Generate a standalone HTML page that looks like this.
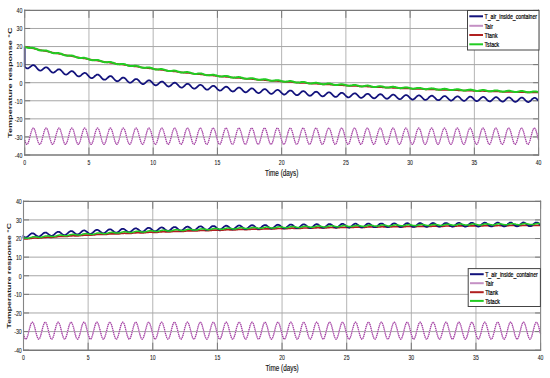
<!DOCTYPE html>
<html><head><meta charset="utf-8"><style>
html,body{margin:0;padding:0;background:#fff;width:550px;height:378px;overflow:hidden}
svg{display:block}
text{font-family:"Liberation Sans", sans-serif}
</style></head><body>
<svg width="550" height="378" viewBox="0 0 550 378">
<line x1="88.94" y1="10.40" x2="88.94" y2="155.00" stroke="#b4b4b4" stroke-width="1"/>
<line x1="153.17" y1="10.40" x2="153.17" y2="155.00" stroke="#b4b4b4" stroke-width="1"/>
<line x1="217.41" y1="10.40" x2="217.41" y2="155.00" stroke="#b4b4b4" stroke-width="1"/>
<line x1="281.65" y1="10.40" x2="281.65" y2="155.00" stroke="#b4b4b4" stroke-width="1"/>
<line x1="345.89" y1="10.40" x2="345.89" y2="155.00" stroke="#b4b4b4" stroke-width="1"/>
<line x1="410.12" y1="10.40" x2="410.12" y2="155.00" stroke="#b4b4b4" stroke-width="1"/>
<line x1="474.36" y1="10.40" x2="474.36" y2="155.00" stroke="#b4b4b4" stroke-width="1"/>
<line x1="24.70" y1="136.93" x2="538.60" y2="136.93" stroke="#a6a6a6" stroke-width="1"/>
<line x1="24.70" y1="118.85" x2="538.60" y2="118.85" stroke="#a6a6a6" stroke-width="1"/>
<line x1="24.70" y1="100.78" x2="538.60" y2="100.78" stroke="#a6a6a6" stroke-width="1"/>
<line x1="24.70" y1="82.70" x2="538.60" y2="82.70" stroke="#a6a6a6" stroke-width="1"/>
<line x1="24.70" y1="64.62" x2="538.60" y2="64.62" stroke="#a6a6a6" stroke-width="1"/>
<line x1="24.70" y1="46.55" x2="538.60" y2="46.55" stroke="#a6a6a6" stroke-width="1"/>
<line x1="24.70" y1="28.48" x2="538.60" y2="28.48" stroke="#a6a6a6" stroke-width="1"/>
<line x1="24.70" y1="155.00" x2="24.70" y2="147.50" stroke="#787878" stroke-width="1"/>
<line x1="24.70" y1="10.40" x2="24.70" y2="17.90" stroke="#787878" stroke-width="1"/>
<line x1="88.94" y1="155.00" x2="88.94" y2="147.50" stroke="#787878" stroke-width="1"/>
<line x1="88.94" y1="10.40" x2="88.94" y2="17.90" stroke="#787878" stroke-width="1"/>
<line x1="153.17" y1="155.00" x2="153.17" y2="147.50" stroke="#787878" stroke-width="1"/>
<line x1="153.17" y1="10.40" x2="153.17" y2="17.90" stroke="#787878" stroke-width="1"/>
<line x1="217.41" y1="155.00" x2="217.41" y2="147.50" stroke="#787878" stroke-width="1"/>
<line x1="217.41" y1="10.40" x2="217.41" y2="17.90" stroke="#787878" stroke-width="1"/>
<line x1="281.65" y1="155.00" x2="281.65" y2="147.50" stroke="#787878" stroke-width="1"/>
<line x1="281.65" y1="10.40" x2="281.65" y2="17.90" stroke="#787878" stroke-width="1"/>
<line x1="345.89" y1="155.00" x2="345.89" y2="147.50" stroke="#787878" stroke-width="1"/>
<line x1="345.89" y1="10.40" x2="345.89" y2="17.90" stroke="#787878" stroke-width="1"/>
<line x1="410.12" y1="155.00" x2="410.12" y2="147.50" stroke="#787878" stroke-width="1"/>
<line x1="410.12" y1="10.40" x2="410.12" y2="17.90" stroke="#787878" stroke-width="1"/>
<line x1="474.36" y1="155.00" x2="474.36" y2="147.50" stroke="#787878" stroke-width="1"/>
<line x1="474.36" y1="10.40" x2="474.36" y2="17.90" stroke="#787878" stroke-width="1"/>
<line x1="538.60" y1="155.00" x2="538.60" y2="147.50" stroke="#787878" stroke-width="1"/>
<line x1="538.60" y1="10.40" x2="538.60" y2="17.90" stroke="#787878" stroke-width="1"/>
<line x1="24.70" y1="155.00" x2="30.20" y2="155.00" stroke="#787878" stroke-width="1"/>
<line x1="538.60" y1="155.00" x2="533.10" y2="155.00" stroke="#787878" stroke-width="1"/>
<line x1="24.70" y1="136.93" x2="30.20" y2="136.93" stroke="#787878" stroke-width="1"/>
<line x1="538.60" y1="136.93" x2="533.10" y2="136.93" stroke="#787878" stroke-width="1"/>
<line x1="24.70" y1="118.85" x2="30.20" y2="118.85" stroke="#787878" stroke-width="1"/>
<line x1="538.60" y1="118.85" x2="533.10" y2="118.85" stroke="#787878" stroke-width="1"/>
<line x1="24.70" y1="100.78" x2="30.20" y2="100.78" stroke="#787878" stroke-width="1"/>
<line x1="538.60" y1="100.78" x2="533.10" y2="100.78" stroke="#787878" stroke-width="1"/>
<line x1="24.70" y1="82.70" x2="30.20" y2="82.70" stroke="#787878" stroke-width="1"/>
<line x1="538.60" y1="82.70" x2="533.10" y2="82.70" stroke="#787878" stroke-width="1"/>
<line x1="24.70" y1="64.62" x2="30.20" y2="64.62" stroke="#787878" stroke-width="1"/>
<line x1="538.60" y1="64.62" x2="533.10" y2="64.62" stroke="#787878" stroke-width="1"/>
<line x1="24.70" y1="46.55" x2="30.20" y2="46.55" stroke="#787878" stroke-width="1"/>
<line x1="538.60" y1="46.55" x2="533.10" y2="46.55" stroke="#787878" stroke-width="1"/>
<line x1="24.70" y1="28.48" x2="30.20" y2="28.48" stroke="#787878" stroke-width="1"/>
<line x1="538.60" y1="28.48" x2="533.10" y2="28.48" stroke="#787878" stroke-width="1"/>
<line x1="24.70" y1="10.40" x2="30.20" y2="10.40" stroke="#787878" stroke-width="1"/>
<line x1="538.60" y1="10.40" x2="533.10" y2="10.40" stroke="#787878" stroke-width="1"/>
<polyline fill="none" stroke="#e0b4e0" stroke-width="1.15" points="24.7,140.1 25.0,141.0 25.2,141.8 25.5,142.5 25.7,143.1 26.0,143.6 26.2,143.9 26.5,144.2 26.8,144.3 27.0,144.3 27.3,144.2 27.5,143.9 27.8,143.6 28.0,143.1 28.3,142.5 28.6,141.8 28.8,141.0 29.1,140.1 29.3,139.2 29.6,138.2 29.8,137.2 30.1,136.2 30.4,135.2 30.6,134.2 30.9,133.2 31.1,132.3 31.4,131.4 31.6,130.6 31.9,129.9 32.2,129.3 32.4,128.8 32.7,128.5 32.9,128.2 33.2,128.1 33.4,128.1 33.7,128.2 34.0,128.5 34.2,128.8 34.5,129.3 34.7,129.9 35.0,130.6 35.2,131.4 35.5,132.3 35.7,133.2 36.0,134.2 36.3,135.2 36.5,136.2 36.8,137.2 37.0,138.2 37.3,139.2 37.5,140.1 37.8,141.0 38.1,141.8 38.3,142.5 38.6,143.1 38.8,143.6 39.1,143.9 39.3,144.2 39.6,144.3 39.9,144.3 40.1,144.2 40.4,143.9 40.6,143.6 40.9,143.1 41.1,142.5 41.4,141.8 41.7,141.0 41.9,140.1 42.2,139.2 42.4,138.2 42.7,137.2 42.9,136.2 43.2,135.2 43.5,134.2 43.7,133.2 44.0,132.3 44.2,131.4 44.5,130.6 44.7,129.9 45.0,129.3 45.3,128.8 45.5,128.5 45.8,128.2 46.0,128.1 46.3,128.1 46.5,128.2 46.8,128.5 47.1,128.8 47.3,129.3 47.6,129.9 47.8,130.6 48.1,131.4 48.3,132.3 48.6,133.2 48.9,134.2 49.1,135.2 49.4,136.2 49.6,137.2 49.9,138.2 50.1,139.2 50.4,140.1 50.7,141.0 50.9,141.8 51.2,142.5 51.4,143.1 51.7,143.6 51.9,143.9 52.2,144.2 52.5,144.3 52.7,144.3 53.0,144.2 53.2,143.9 53.5,143.6 53.7,143.1 54.0,142.5 54.2,141.8 54.5,141.0 54.8,140.1 55.0,139.2 55.3,138.2 55.5,137.2 55.8,136.2 56.0,135.2 56.3,134.2 56.6,133.2 56.8,132.3 57.1,131.4 57.3,130.6 57.6,129.9 57.8,129.3 58.1,128.8 58.4,128.5 58.6,128.2 58.9,128.1 59.1,128.1 59.4,128.2 59.6,128.5 59.9,128.8 60.2,129.3 60.4,129.9 60.7,130.6 60.9,131.4 61.2,132.3 61.4,133.2 61.7,134.2 62.0,135.2 62.2,136.2 62.5,137.2 62.7,138.2 63.0,139.2 63.2,140.1 63.5,141.0 63.8,141.8 64.0,142.5 64.3,143.1 64.5,143.6 64.8,143.9 65.0,144.2 65.3,144.3 65.6,144.3 65.8,144.2 66.1,143.9 66.3,143.6 66.6,143.1 66.8,142.5 67.1,141.8 67.4,141.0 67.6,140.1 67.9,139.2 68.1,138.2 68.4,137.2 68.6,136.2 68.9,135.2 69.2,134.2 69.4,133.2 69.7,132.3 69.9,131.4 70.2,130.6 70.4,129.9 70.7,129.3 71.0,128.8 71.2,128.5 71.5,128.2 71.7,128.1 72.0,128.1 72.2,128.2 72.5,128.5 72.7,128.8 73.0,129.3 73.3,129.9 73.5,130.6 73.8,131.4 74.0,132.3 74.3,133.2 74.5,134.2 74.8,135.2 75.1,136.2 75.3,137.2 75.6,138.2 75.8,139.2 76.1,140.1 76.3,141.0 76.6,141.8 76.9,142.5 77.1,143.1 77.4,143.6 77.6,143.9 77.9,144.2 78.1,144.3 78.4,144.3 78.7,144.2 78.9,143.9 79.2,143.6 79.4,143.1 79.7,142.5 79.9,141.8 80.2,141.0 80.5,140.1 80.7,139.2 81.0,138.2 81.2,137.2 81.5,136.2 81.7,135.2 82.0,134.2 82.3,133.2 82.5,132.3 82.8,131.4 83.0,130.6 83.3,129.9 83.5,129.3 83.8,128.8 84.1,128.5 84.3,128.2 84.6,128.1 84.8,128.1 85.1,128.2 85.3,128.5 85.6,128.8 85.9,129.3 86.1,129.9 86.4,130.6 86.6,131.4 86.9,132.3 87.1,133.2 87.4,134.2 87.7,135.2 87.9,136.2 88.2,137.2 88.4,138.2 88.7,139.2 88.9,140.1 89.2,141.0 89.5,141.8 89.7,142.5 90.0,143.1 90.2,143.6 90.5,143.9 90.7,144.2 91.0,144.3 91.3,144.3 91.5,144.2 91.8,143.9 92.0,143.6 92.3,143.1 92.5,142.5 92.8,141.8 93.0,141.0 93.3,140.1 93.6,139.2 93.8,138.2 94.1,137.2 94.3,136.2 94.6,135.2 94.8,134.2 95.1,133.2 95.4,132.3 95.6,131.4 95.9,130.6 96.1,129.9 96.4,129.3 96.6,128.8 96.9,128.5 97.2,128.2 97.4,128.1 97.7,128.1 97.9,128.2 98.2,128.5 98.4,128.8 98.7,129.3 99.0,129.9 99.2,130.6 99.5,131.4 99.7,132.3 100.0,133.2 100.2,134.2 100.5,135.2 100.8,136.2 101.0,137.2 101.3,138.2 101.5,139.2 101.8,140.1 102.0,141.0 102.3,141.8 102.6,142.5 102.8,143.1 103.1,143.6 103.3,143.9 103.6,144.2 103.8,144.3 104.1,144.3 104.4,144.2 104.6,143.9 104.9,143.6 105.1,143.1 105.4,142.5 105.6,141.8 105.9,141.0 106.2,140.1 106.4,139.2 106.7,138.2 106.9,137.2 107.2,136.2 107.4,135.2 107.7,134.2 108.0,133.2 108.2,132.3 108.5,131.4 108.7,130.6 109.0,129.9 109.2,129.3 109.5,128.8 109.8,128.5 110.0,128.2 110.3,128.1 110.5,128.1 110.8,128.2 111.0,128.5 111.3,128.8 111.5,129.3 111.8,129.9 112.1,130.6 112.3,131.4 112.6,132.3 112.8,133.2 113.1,134.2 113.3,135.2 113.6,136.2 113.9,137.2 114.1,138.2 114.4,139.2 114.6,140.1 114.9,141.0 115.1,141.8 115.4,142.5 115.7,143.1 115.9,143.6 116.2,143.9 116.4,144.2 116.7,144.3 116.9,144.3 117.2,144.2 117.5,143.9 117.7,143.6 118.0,143.1 118.2,142.5 118.5,141.8 118.7,141.0 119.0,140.1 119.3,139.2 119.5,138.2 119.8,137.2 120.0,136.2 120.3,135.2 120.5,134.2 120.8,133.2 121.1,132.3 121.3,131.4 121.6,130.6 121.8,129.9 122.1,129.3 122.3,128.8 122.6,128.5 122.9,128.2 123.1,128.1 123.4,128.1 123.6,128.2 123.9,128.5 124.1,128.8 124.4,129.3 124.7,129.9 124.9,130.6 125.2,131.4 125.4,132.3 125.7,133.2 125.9,134.2 126.2,135.2 126.5,136.2 126.7,137.2 127.0,138.2 127.2,139.2 127.5,140.1 127.7,141.0 128.0,141.8 128.3,142.5 128.5,143.1 128.8,143.6 129.0,143.9 129.3,144.2 129.5,144.3 129.8,144.3 130.0,144.2 130.3,143.9 130.6,143.6 130.8,143.1 131.1,142.5 131.3,141.8 131.6,141.0 131.8,140.1 132.1,139.2 132.4,138.2 132.6,137.2 132.9,136.2 133.1,135.2 133.4,134.2 133.6,133.2 133.9,132.3 134.2,131.4 134.4,130.6 134.7,129.9 134.9,129.3 135.2,128.8 135.4,128.5 135.7,128.2 136.0,128.1 136.2,128.1 136.5,128.2 136.7,128.5 137.0,128.8 137.2,129.3 137.5,129.9 137.8,130.6 138.0,131.4 138.3,132.3 138.5,133.2 138.8,134.2 139.0,135.2 139.3,136.2 139.6,137.2 139.8,138.2 140.1,139.2 140.3,140.1 140.6,141.0 140.8,141.8 141.1,142.5 141.4,143.1 141.6,143.6 141.9,143.9 142.1,144.2 142.4,144.3 142.6,144.3 142.9,144.2 143.2,143.9 143.4,143.6 143.7,143.1 143.9,142.5 144.2,141.8 144.4,141.0 144.7,140.1 145.0,139.2 145.2,138.2 145.5,137.2 145.7,136.2 146.0,135.2 146.2,134.2 146.5,133.2 146.8,132.3 147.0,131.4 147.3,130.6 147.5,129.9 147.8,129.3 148.0,128.8 148.3,128.5 148.5,128.2 148.8,128.1 149.1,128.1 149.3,128.2 149.6,128.5 149.8,128.8 150.1,129.3 150.3,129.9 150.6,130.6 150.9,131.4 151.1,132.3 151.4,133.2 151.6,134.2 151.9,135.2 152.1,136.2 152.4,137.2 152.7,138.2 152.9,139.2 153.2,140.1 153.4,141.0 153.7,141.8 153.9,142.5 154.2,143.1 154.5,143.6 154.7,143.9 155.0,144.2 155.2,144.3 155.5,144.3 155.7,144.2 156.0,143.9 156.3,143.6 156.5,143.1 156.8,142.5 157.0,141.8 157.3,141.0 157.5,140.1 157.8,139.2 158.1,138.2 158.3,137.2 158.6,136.2 158.8,135.2 159.1,134.2 159.3,133.2 159.6,132.3 159.9,131.4 160.1,130.6 160.4,129.9 160.6,129.3 160.9,128.8 161.1,128.5 161.4,128.2 161.7,128.1 161.9,128.1 162.2,128.2 162.4,128.5 162.7,128.8 162.9,129.3 163.2,129.9 163.5,130.6 163.7,131.4 164.0,132.3 164.2,133.2 164.5,134.2 164.7,135.2 165.0,136.2 165.3,137.2 165.5,138.2 165.8,139.2 166.0,140.1 166.3,141.0 166.5,141.8 166.8,142.5 167.1,143.1 167.3,143.6 167.6,143.9 167.8,144.2 168.1,144.3 168.3,144.3 168.6,144.2 168.8,143.9 169.1,143.6 169.4,143.1 169.6,142.5 169.9,141.8 170.1,141.0 170.4,140.1 170.6,139.2 170.9,138.2 171.2,137.2 171.4,136.2 171.7,135.2 171.9,134.2 172.2,133.2 172.4,132.3 172.7,131.4 173.0,130.6 173.2,129.9 173.5,129.3 173.7,128.8 174.0,128.5 174.2,128.2 174.5,128.1 174.8,128.1 175.0,128.2 175.3,128.5 175.5,128.8 175.8,129.3 176.0,129.9 176.3,130.6 176.6,131.4 176.8,132.3 177.1,133.2 177.3,134.2 177.6,135.2 177.8,136.2 178.1,137.2 178.4,138.2 178.6,139.2 178.9,140.1 179.1,141.0 179.4,141.8 179.6,142.5 179.9,143.1 180.2,143.6 180.4,143.9 180.7,144.2 180.9,144.3 181.2,144.3 181.4,144.2 181.7,143.9 182.0,143.6 182.2,143.1 182.5,142.5 182.7,141.8 183.0,141.0 183.2,140.1 183.5,139.2 183.8,138.2 184.0,137.2 184.3,136.2 184.5,135.2 184.8,134.2 185.0,133.2 185.3,132.3 185.6,131.4 185.8,130.6 186.1,129.9 186.3,129.3 186.6,128.8 186.8,128.5 187.1,128.2 187.3,128.1 187.6,128.1 187.9,128.2 188.1,128.5 188.4,128.8 188.6,129.3 188.9,129.9 189.1,130.6 189.4,131.4 189.7,132.3 189.9,133.2 190.2,134.2 190.4,135.2 190.7,136.2 190.9,137.2 191.2,138.2 191.5,139.2 191.7,140.1 192.0,141.0 192.2,141.8 192.5,142.5 192.7,143.1 193.0,143.6 193.3,143.9 193.5,144.2 193.8,144.3 194.0,144.3 194.3,144.2 194.5,143.9 194.8,143.6 195.1,143.1 195.3,142.5 195.6,141.8 195.8,141.0 196.1,140.1 196.3,139.2 196.6,138.2 196.9,137.2 197.1,136.2 197.4,135.2 197.6,134.2 197.9,133.2 198.1,132.3 198.4,131.4 198.7,130.6 198.9,129.9 199.2,129.3 199.4,128.8 199.7,128.5 199.9,128.2 200.2,128.1 200.5,128.1 200.7,128.2 201.0,128.5 201.2,128.8 201.5,129.3 201.7,129.9 202.0,130.6 202.3,131.4 202.5,132.3 202.8,133.2 203.0,134.2 203.3,135.2 203.5,136.2 203.8,137.2 204.1,138.2 204.3,139.2 204.6,140.1 204.8,141.0 205.1,141.8 205.3,142.5 205.6,143.1 205.8,143.6 206.1,143.9 206.4,144.2 206.6,144.3 206.9,144.3 207.1,144.2 207.4,143.9 207.6,143.6 207.9,143.1 208.2,142.5 208.4,141.8 208.7,141.0 208.9,140.1 209.2,139.2 209.4,138.2 209.7,137.2 210.0,136.2 210.2,135.2 210.5,134.2 210.7,133.2 211.0,132.3 211.2,131.4 211.5,130.6 211.8,129.9 212.0,129.3 212.3,128.8 212.5,128.5 212.8,128.2 213.0,128.1 213.3,128.1 213.6,128.2 213.8,128.5 214.1,128.8 214.3,129.3 214.6,129.9 214.8,130.6 215.1,131.4 215.4,132.3 215.6,133.2 215.9,134.2 216.1,135.2 216.4,136.2 216.6,137.2 216.9,138.2 217.2,139.2 217.4,140.1 217.7,141.0 217.9,141.8 218.2,142.5 218.4,143.1 218.7,143.6 219.0,143.9 219.2,144.2 219.5,144.3 219.7,144.3 220.0,144.2 220.2,143.9 220.5,143.6 220.8,143.1 221.0,142.5 221.3,141.8 221.5,141.0 221.8,140.1 222.0,139.2 222.3,138.2 222.6,137.2 222.8,136.2 223.1,135.2 223.3,134.2 223.6,133.2 223.8,132.3 224.1,131.4 224.4,130.6 224.6,129.9 224.9,129.3 225.1,128.8 225.4,128.5 225.6,128.2 225.9,128.1 226.1,128.1 226.4,128.2 226.7,128.5 226.9,128.8 227.2,129.3 227.4,129.9 227.7,130.6 227.9,131.4 228.2,132.3 228.5,133.2 228.7,134.2 229.0,135.2 229.2,136.2 229.5,137.2 229.7,138.2 230.0,139.2 230.3,140.1 230.5,141.0 230.8,141.8 231.0,142.5 231.3,143.1 231.5,143.6 231.8,143.9 232.1,144.2 232.3,144.3 232.6,144.3 232.8,144.2 233.1,143.9 233.3,143.6 233.6,143.1 233.9,142.5 234.1,141.8 234.4,141.0 234.6,140.1 234.9,139.2 235.1,138.2 235.4,137.2 235.7,136.2 235.9,135.2 236.2,134.2 236.4,133.2 236.7,132.3 236.9,131.4 237.2,130.6 237.5,129.9 237.7,129.3 238.0,128.8 238.2,128.5 238.5,128.2 238.7,128.1 239.0,128.1 239.3,128.2 239.5,128.5 239.8,128.8 240.0,129.3 240.3,129.9 240.5,130.6 240.8,131.4 241.1,132.3 241.3,133.2 241.6,134.2 241.8,135.2 242.1,136.2 242.3,137.2 242.6,138.2 242.9,139.2 243.1,140.1 243.4,141.0 243.6,141.8 243.9,142.5 244.1,143.1 244.4,143.6 244.6,143.9 244.9,144.2 245.2,144.3 245.4,144.3 245.7,144.2 245.9,143.9 246.2,143.6 246.4,143.1 246.7,142.5 247.0,141.8 247.2,141.0 247.5,140.1 247.7,139.2 248.0,138.2 248.2,137.2 248.5,136.2 248.8,135.2 249.0,134.2 249.3,133.2 249.5,132.3 249.8,131.4 250.0,130.6 250.3,129.9 250.6,129.3 250.8,128.8 251.1,128.5 251.3,128.2 251.6,128.1 251.8,128.1 252.1,128.2 252.4,128.5 252.6,128.8 252.9,129.3 253.1,129.9 253.4,130.6 253.6,131.4 253.9,132.3 254.2,133.2 254.4,134.2 254.7,135.2 254.9,136.2 255.2,137.2 255.4,138.2 255.7,139.2 256.0,140.1 256.2,141.0 256.5,141.8 256.7,142.5 257.0,143.1 257.2,143.6 257.5,143.9 257.8,144.2 258.0,144.3 258.3,144.3 258.5,144.2 258.8,143.9 259.0,143.6 259.3,143.1 259.6,142.5 259.8,141.8 260.1,141.0 260.3,140.1 260.6,139.2 260.8,138.2 261.1,137.2 261.4,136.2 261.6,135.2 261.9,134.2 262.1,133.2 262.4,132.3 262.6,131.4 262.9,130.6 263.1,129.9 263.4,129.3 263.7,128.8 263.9,128.5 264.2,128.2 264.4,128.1 264.7,128.1 264.9,128.2 265.2,128.5 265.5,128.8 265.7,129.3 266.0,129.9 266.2,130.6 266.5,131.4 266.7,132.3 267.0,133.2 267.3,134.2 267.5,135.2 267.8,136.2 268.0,137.2 268.3,138.2 268.5,139.2 268.8,140.1 269.1,141.0 269.3,141.8 269.6,142.5 269.8,143.1 270.1,143.6 270.3,143.9 270.6,144.2 270.9,144.3 271.1,144.3 271.4,144.2 271.6,143.9 271.9,143.6 272.1,143.1 272.4,142.5 272.7,141.8 272.9,141.0 273.2,140.1 273.4,139.2 273.7,138.2 273.9,137.2 274.2,136.2 274.5,135.2 274.7,134.2 275.0,133.2 275.2,132.3 275.5,131.4 275.7,130.6 276.0,129.9 276.3,129.3 276.5,128.8 276.8,128.5 277.0,128.2 277.3,128.1 277.5,128.1 277.8,128.2 278.1,128.5 278.3,128.8 278.6,129.3 278.8,129.9 279.1,130.6 279.3,131.4 279.6,132.3 279.9,133.2 280.1,134.2 280.4,135.2 280.6,136.2 280.9,137.2 281.1,138.2 281.4,139.2 281.6,140.1 281.9,141.0 282.2,141.8 282.4,142.5 282.7,143.1 282.9,143.6 283.2,143.9 283.4,144.2 283.7,144.3 284.0,144.3 284.2,144.2 284.5,143.9 284.7,143.6 285.0,143.1 285.2,142.5 285.5,141.8 285.8,141.0 286.0,140.1 286.3,139.2 286.5,138.2 286.8,137.2 287.0,136.2 287.3,135.2 287.6,134.2 287.8,133.2 288.1,132.3 288.3,131.4 288.6,130.6 288.8,129.9 289.1,129.3 289.4,128.8 289.6,128.5 289.9,128.2 290.1,128.1 290.4,128.1 290.6,128.2 290.9,128.5 291.2,128.8 291.4,129.3 291.7,129.9 291.9,130.6 292.2,131.4 292.4,132.3 292.7,133.2 293.0,134.2 293.2,135.2 293.5,136.2 293.7,137.2 294.0,138.2 294.2,139.2 294.5,140.1 294.8,141.0 295.0,141.8 295.3,142.5 295.5,143.1 295.8,143.6 296.0,143.9 296.3,144.2 296.6,144.3 296.8,144.3 297.1,144.2 297.3,143.9 297.6,143.6 297.8,143.1 298.1,142.5 298.4,141.8 298.6,141.0 298.9,140.1 299.1,139.2 299.4,138.2 299.6,137.2 299.9,136.2 300.2,135.2 300.4,134.2 300.7,133.2 300.9,132.3 301.2,131.4 301.4,130.6 301.7,129.9 301.9,129.3 302.2,128.8 302.5,128.5 302.7,128.2 303.0,128.1 303.2,128.1 303.5,128.2 303.7,128.5 304.0,128.8 304.3,129.3 304.5,129.9 304.8,130.6 305.0,131.4 305.3,132.3 305.5,133.2 305.8,134.2 306.1,135.2 306.3,136.2 306.6,137.2 306.8,138.2 307.1,139.2 307.3,140.1 307.6,141.0 307.9,141.8 308.1,142.5 308.4,143.1 308.6,143.6 308.9,143.9 309.1,144.2 309.4,144.3 309.7,144.3 309.9,144.2 310.2,143.9 310.4,143.6 310.7,143.1 310.9,142.5 311.2,141.8 311.5,141.0 311.7,140.1 312.0,139.2 312.2,138.2 312.5,137.2 312.7,136.2 313.0,135.2 313.3,134.2 313.5,133.2 313.8,132.3 314.0,131.4 314.3,130.6 314.5,129.9 314.8,129.3 315.1,128.8 315.3,128.5 315.6,128.2 315.8,128.1 316.1,128.1 316.3,128.2 316.6,128.5 316.9,128.8 317.1,129.3 317.4,129.9 317.6,130.6 317.9,131.4 318.1,132.3 318.4,133.2 318.7,134.2 318.9,135.2 319.2,136.2 319.4,137.2 319.7,138.2 319.9,139.2 320.2,140.1 320.4,141.0 320.7,141.8 321.0,142.5 321.2,143.1 321.5,143.6 321.7,143.9 322.0,144.2 322.2,144.3 322.5,144.3 322.8,144.2 323.0,143.9 323.3,143.6 323.5,143.1 323.8,142.5 324.0,141.8 324.3,141.0 324.6,140.1 324.8,139.2 325.1,138.2 325.3,137.2 325.6,136.2 325.8,135.2 326.1,134.2 326.4,133.2 326.6,132.3 326.9,131.4 327.1,130.6 327.4,129.9 327.6,129.3 327.9,128.8 328.2,128.5 328.4,128.2 328.7,128.1 328.9,128.1 329.2,128.2 329.4,128.5 329.7,128.8 330.0,129.3 330.2,129.9 330.5,130.6 330.7,131.4 331.0,132.3 331.2,133.2 331.5,134.2 331.8,135.2 332.0,136.2 332.3,137.2 332.5,138.2 332.8,139.2 333.0,140.1 333.3,141.0 333.6,141.8 333.8,142.5 334.1,143.1 334.3,143.6 334.6,143.9 334.8,144.2 335.1,144.3 335.4,144.3 335.6,144.2 335.9,143.9 336.1,143.6 336.4,143.1 336.6,142.5 336.9,141.8 337.2,141.0 337.4,140.1 337.7,139.2 337.9,138.2 338.2,137.2 338.4,136.2 338.7,135.2 338.9,134.2 339.2,133.2 339.5,132.3 339.7,131.4 340.0,130.6 340.2,129.9 340.5,129.3 340.7,128.8 341.0,128.5 341.3,128.2 341.5,128.1 341.8,128.1 342.0,128.2 342.3,128.5 342.5,128.8 342.8,129.3 343.1,129.9 343.3,130.6 343.6,131.4 343.8,132.3 344.1,133.2 344.3,134.2 344.6,135.2 344.9,136.2 345.1,137.2 345.4,138.2 345.6,139.2 345.9,140.1 346.1,141.0 346.4,141.8 346.7,142.5 346.9,143.1 347.2,143.6 347.4,143.9 347.7,144.2 347.9,144.3 348.2,144.3 348.5,144.2 348.7,143.9 349.0,143.6 349.2,143.1 349.5,142.5 349.7,141.8 350.0,141.0 350.3,140.1 350.5,139.2 350.8,138.2 351.0,137.2 351.3,136.2 351.5,135.2 351.8,134.2 352.1,133.2 352.3,132.3 352.6,131.4 352.8,130.6 353.1,129.9 353.3,129.3 353.6,128.8 353.9,128.5 354.1,128.2 354.4,128.1 354.6,128.1 354.9,128.2 355.1,128.5 355.4,128.8 355.7,129.3 355.9,129.9 356.2,130.6 356.4,131.4 356.7,132.3 356.9,133.2 357.2,134.2 357.5,135.2 357.7,136.2 358.0,137.2 358.2,138.2 358.5,139.2 358.7,140.1 359.0,141.0 359.2,141.8 359.5,142.5 359.8,143.1 360.0,143.6 360.3,143.9 360.5,144.2 360.8,144.3 361.0,144.3 361.3,144.2 361.6,143.9 361.8,143.6 362.1,143.1 362.3,142.5 362.6,141.8 362.8,141.0 363.1,140.1 363.4,139.2 363.6,138.2 363.9,137.2 364.1,136.2 364.4,135.2 364.6,134.2 364.9,133.2 365.2,132.3 365.4,131.4 365.7,130.6 365.9,129.9 366.2,129.3 366.4,128.8 366.7,128.5 367.0,128.2 367.2,128.1 367.5,128.1 367.7,128.2 368.0,128.5 368.2,128.8 368.5,129.3 368.8,129.9 369.0,130.6 369.3,131.4 369.5,132.3 369.8,133.2 370.0,134.2 370.3,135.2 370.6,136.2 370.8,137.2 371.1,138.2 371.3,139.2 371.6,140.1 371.8,141.0 372.1,141.8 372.4,142.5 372.6,143.1 372.9,143.6 373.1,143.9 373.4,144.2 373.6,144.3 373.9,144.3 374.2,144.2 374.4,143.9 374.7,143.6 374.9,143.1 375.2,142.5 375.4,141.8 375.7,141.0 376.0,140.1 376.2,139.2 376.5,138.2 376.7,137.2 377.0,136.2 377.2,135.2 377.5,134.2 377.7,133.2 378.0,132.3 378.3,131.4 378.5,130.6 378.8,129.9 379.0,129.3 379.3,128.8 379.5,128.5 379.8,128.2 380.1,128.1 380.3,128.1 380.6,128.2 380.8,128.5 381.1,128.8 381.3,129.3 381.6,129.9 381.9,130.6 382.1,131.4 382.4,132.3 382.6,133.2 382.9,134.2 383.1,135.2 383.4,136.2 383.7,137.2 383.9,138.2 384.2,139.2 384.4,140.1 384.7,141.0 384.9,141.8 385.2,142.5 385.5,143.1 385.7,143.6 386.0,143.9 386.2,144.2 386.5,144.3 386.7,144.3 387.0,144.2 387.3,143.9 387.5,143.6 387.8,143.1 388.0,142.5 388.3,141.8 388.5,141.0 388.8,140.1 389.1,139.2 389.3,138.2 389.6,137.2 389.8,136.2 390.1,135.2 390.3,134.2 390.6,133.2 390.9,132.3 391.1,131.4 391.4,130.6 391.6,129.9 391.9,129.3 392.1,128.8 392.4,128.5 392.7,128.2 392.9,128.1 393.2,128.1 393.4,128.2 393.7,128.5 393.9,128.8 394.2,129.3 394.5,129.9 394.7,130.6 395.0,131.4 395.2,132.3 395.5,133.2 395.7,134.2 396.0,135.2 396.2,136.2 396.5,137.2 396.8,138.2 397.0,139.2 397.3,140.1 397.5,141.0 397.8,141.8 398.0,142.5 398.3,143.1 398.6,143.6 398.8,143.9 399.1,144.2 399.3,144.3 399.6,144.3 399.8,144.2 400.1,143.9 400.4,143.6 400.6,143.1 400.9,142.5 401.1,141.8 401.4,141.0 401.6,140.1 401.9,139.2 402.2,138.2 402.4,137.2 402.7,136.2 402.9,135.2 403.2,134.2 403.4,133.2 403.7,132.3 404.0,131.4 404.2,130.6 404.5,129.9 404.7,129.3 405.0,128.8 405.2,128.5 405.5,128.2 405.8,128.1 406.0,128.1 406.3,128.2 406.5,128.5 406.8,128.8 407.0,129.3 407.3,129.9 407.6,130.6 407.8,131.4 408.1,132.3 408.3,133.2 408.6,134.2 408.8,135.2 409.1,136.2 409.4,137.2 409.6,138.2 409.9,139.2 410.1,140.1 410.4,141.0 410.6,141.8 410.9,142.5 411.2,143.1 411.4,143.6 411.7,143.9 411.9,144.2 412.2,144.3 412.4,144.3 412.7,144.2 413.0,143.9 413.2,143.6 413.5,143.1 413.7,142.5 414.0,141.8 414.2,141.0 414.5,140.1 414.8,139.2 415.0,138.2 415.3,137.2 415.5,136.2 415.8,135.2 416.0,134.2 416.3,133.2 416.5,132.3 416.8,131.4 417.1,130.6 417.3,129.9 417.6,129.3 417.8,128.8 418.1,128.5 418.3,128.2 418.6,128.1 418.9,128.1 419.1,128.2 419.4,128.5 419.6,128.8 419.9,129.3 420.1,129.9 420.4,130.6 420.7,131.4 420.9,132.3 421.2,133.2 421.4,134.2 421.7,135.2 421.9,136.2 422.2,137.2 422.5,138.2 422.7,139.2 423.0,140.1 423.2,141.0 423.5,141.8 423.7,142.5 424.0,143.1 424.3,143.6 424.5,143.9 424.8,144.2 425.0,144.3 425.3,144.3 425.5,144.2 425.8,143.9 426.1,143.6 426.3,143.1 426.6,142.5 426.8,141.8 427.1,141.0 427.3,140.1 427.6,139.2 427.9,138.2 428.1,137.2 428.4,136.2 428.6,135.2 428.9,134.2 429.1,133.2 429.4,132.3 429.7,131.4 429.9,130.6 430.2,129.9 430.4,129.3 430.7,128.8 430.9,128.5 431.2,128.2 431.5,128.1 431.7,128.1 432.0,128.2 432.2,128.5 432.5,128.8 432.7,129.3 433.0,129.9 433.3,130.6 433.5,131.4 433.8,132.3 434.0,133.2 434.3,134.2 434.5,135.2 434.8,136.2 435.0,137.2 435.3,138.2 435.6,139.2 435.8,140.1 436.1,141.0 436.3,141.8 436.6,142.5 436.8,143.1 437.1,143.6 437.4,143.9 437.6,144.2 437.9,144.3 438.1,144.3 438.4,144.2 438.6,143.9 438.9,143.6 439.2,143.1 439.4,142.5 439.7,141.8 439.9,141.0 440.2,140.1 440.4,139.2 440.7,138.2 441.0,137.2 441.2,136.2 441.5,135.2 441.7,134.2 442.0,133.2 442.2,132.3 442.5,131.4 442.8,130.6 443.0,129.9 443.3,129.3 443.5,128.8 443.8,128.5 444.0,128.2 444.3,128.1 444.6,128.1 444.8,128.2 445.1,128.5 445.3,128.8 445.6,129.3 445.8,129.9 446.1,130.6 446.4,131.4 446.6,132.3 446.9,133.2 447.1,134.2 447.4,135.2 447.6,136.2 447.9,137.2 448.2,138.2 448.4,139.2 448.7,140.1 448.9,141.0 449.2,141.8 449.4,142.5 449.7,143.1 450.0,143.6 450.2,143.9 450.5,144.2 450.7,144.3 451.0,144.3 451.2,144.2 451.5,143.9 451.8,143.6 452.0,143.1 452.3,142.5 452.5,141.8 452.8,141.0 453.0,140.1 453.3,139.2 453.5,138.2 453.8,137.2 454.1,136.2 454.3,135.2 454.6,134.2 454.8,133.2 455.1,132.3 455.3,131.4 455.6,130.6 455.9,129.9 456.1,129.3 456.4,128.8 456.6,128.5 456.9,128.2 457.1,128.1 457.4,128.1 457.7,128.2 457.9,128.5 458.2,128.8 458.4,129.3 458.7,129.9 458.9,130.6 459.2,131.4 459.5,132.3 459.7,133.2 460.0,134.2 460.2,135.2 460.5,136.2 460.7,137.2 461.0,138.2 461.3,139.2 461.5,140.1 461.8,141.0 462.0,141.8 462.3,142.5 462.5,143.1 462.8,143.6 463.1,143.9 463.3,144.2 463.6,144.3 463.8,144.3 464.1,144.2 464.3,143.9 464.6,143.6 464.9,143.1 465.1,142.5 465.4,141.8 465.6,141.0 465.9,140.1 466.1,139.2 466.4,138.2 466.7,137.2 466.9,136.2 467.2,135.2 467.4,134.2 467.7,133.2 467.9,132.3 468.2,131.4 468.5,130.6 468.7,129.9 469.0,129.3 469.2,128.8 469.5,128.5 469.7,128.2 470.0,128.1 470.3,128.1 470.5,128.2 470.8,128.5 471.0,128.8 471.3,129.3 471.5,129.9 471.8,130.6 472.0,131.4 472.3,132.3 472.6,133.2 472.8,134.2 473.1,135.2 473.3,136.2 473.6,137.2 473.8,138.2 474.1,139.2 474.4,140.1 474.6,141.0 474.9,141.8 475.1,142.5 475.4,143.1 475.6,143.6 475.9,143.9 476.2,144.2 476.4,144.3 476.7,144.3 476.9,144.2 477.2,143.9 477.4,143.6 477.7,143.1 478.0,142.5 478.2,141.8 478.5,141.0 478.7,140.1 479.0,139.2 479.2,138.2 479.5,137.2 479.8,136.2 480.0,135.2 480.3,134.2 480.5,133.2 480.8,132.3 481.0,131.4 481.3,130.6 481.6,129.9 481.8,129.3 482.1,128.8 482.3,128.5 482.6,128.2 482.8,128.1 483.1,128.1 483.4,128.2 483.6,128.5 483.9,128.8 484.1,129.3 484.4,129.9 484.6,130.6 484.9,131.4 485.2,132.3 485.4,133.2 485.7,134.2 485.9,135.2 486.2,136.2 486.4,137.2 486.7,138.2 487.0,139.2 487.2,140.1 487.5,141.0 487.7,141.8 488.0,142.5 488.2,143.1 488.5,143.6 488.8,143.9 489.0,144.2 489.3,144.3 489.5,144.3 489.8,144.2 490.0,143.9 490.3,143.6 490.6,143.1 490.8,142.5 491.1,141.8 491.3,141.0 491.6,140.1 491.8,139.2 492.1,138.2 492.3,137.2 492.6,136.2 492.9,135.2 493.1,134.2 493.4,133.2 493.6,132.3 493.9,131.4 494.1,130.6 494.4,129.9 494.7,129.3 494.9,128.8 495.2,128.5 495.4,128.2 495.7,128.1 495.9,128.1 496.2,128.2 496.5,128.5 496.7,128.8 497.0,129.3 497.2,129.9 497.5,130.6 497.7,131.4 498.0,132.3 498.3,133.2 498.5,134.2 498.8,135.2 499.0,136.2 499.3,137.2 499.5,138.2 499.8,139.2 500.1,140.1 500.3,141.0 500.6,141.8 500.8,142.5 501.1,143.1 501.3,143.6 501.6,143.9 501.9,144.2 502.1,144.3 502.4,144.3 502.6,144.2 502.9,143.9 503.1,143.6 503.4,143.1 503.7,142.5 503.9,141.8 504.2,141.0 504.4,140.1 504.7,139.2 504.9,138.2 505.2,137.2 505.5,136.2 505.7,135.2 506.0,134.2 506.2,133.2 506.5,132.3 506.7,131.4 507.0,130.6 507.3,129.9 507.5,129.3 507.8,128.8 508.0,128.5 508.3,128.2 508.5,128.1 508.8,128.1 509.1,128.2 509.3,128.5 509.6,128.8 509.8,129.3 510.1,129.9 510.3,130.6 510.6,131.4 510.8,132.3 511.1,133.2 511.4,134.2 511.6,135.2 511.9,136.2 512.1,137.2 512.4,138.2 512.6,139.2 512.9,140.1 513.2,141.0 513.4,141.8 513.7,142.5 513.9,143.1 514.2,143.6 514.4,143.9 514.7,144.2 515.0,144.3 515.2,144.3 515.5,144.2 515.7,143.9 516.0,143.6 516.2,143.1 516.5,142.5 516.8,141.8 517.0,141.0 517.3,140.1 517.5,139.2 517.8,138.2 518.0,137.2 518.3,136.2 518.6,135.2 518.8,134.2 519.1,133.2 519.3,132.3 519.6,131.4 519.8,130.6 520.1,129.9 520.4,129.3 520.6,128.8 520.9,128.5 521.1,128.2 521.4,128.1 521.6,128.1 521.9,128.2 522.2,128.5 522.4,128.8 522.7,129.3 522.9,129.9 523.2,130.6 523.4,131.4 523.7,132.3 524.0,133.2 524.2,134.2 524.5,135.2 524.7,136.2 525.0,137.2 525.2,138.2 525.5,139.2 525.8,140.1 526.0,141.0 526.3,141.8 526.5,142.5 526.8,143.1 527.0,143.6 527.3,143.9 527.6,144.2 527.8,144.3 528.1,144.3 528.3,144.2 528.6,143.9 528.8,143.6 529.1,143.1 529.3,142.5 529.6,141.8 529.9,141.0 530.1,140.1 530.4,139.2 530.6,138.2 530.9,137.2 531.1,136.2 531.4,135.2 531.7,134.2 531.9,133.2 532.2,132.3 532.4,131.4 532.7,130.6 532.9,129.9 533.2,129.3 533.5,128.8 533.7,128.5 534.0,128.2 534.2,128.1 534.5,128.1 534.7,128.2 535.0,128.5 535.3,128.8 535.5,129.3 535.8,129.9 536.0,130.6 536.3,131.4 536.5,132.3 536.8,133.2 537.1,134.2 537.3,135.2 537.6,136.2 537.8,137.2 538.1,138.2 538.3,139.2 538.6,140.1"/>
<polyline fill="none" stroke="#9a389a" stroke-width="1.25" stroke-dasharray="1 1" points="24.7,140.1 25.0,141.0 25.2,141.8 25.5,142.5 25.7,143.1 26.0,143.6 26.2,143.9 26.5,144.2 26.8,144.3 27.0,144.3 27.3,144.2 27.5,143.9 27.8,143.6 28.0,143.1 28.3,142.5 28.6,141.8 28.8,141.0 29.1,140.1 29.3,139.2 29.6,138.2 29.8,137.2 30.1,136.2 30.4,135.2 30.6,134.2 30.9,133.2 31.1,132.3 31.4,131.4 31.6,130.6 31.9,129.9 32.2,129.3 32.4,128.8 32.7,128.5 32.9,128.2 33.2,128.1 33.4,128.1 33.7,128.2 34.0,128.5 34.2,128.8 34.5,129.3 34.7,129.9 35.0,130.6 35.2,131.4 35.5,132.3 35.7,133.2 36.0,134.2 36.3,135.2 36.5,136.2 36.8,137.2 37.0,138.2 37.3,139.2 37.5,140.1 37.8,141.0 38.1,141.8 38.3,142.5 38.6,143.1 38.8,143.6 39.1,143.9 39.3,144.2 39.6,144.3 39.9,144.3 40.1,144.2 40.4,143.9 40.6,143.6 40.9,143.1 41.1,142.5 41.4,141.8 41.7,141.0 41.9,140.1 42.2,139.2 42.4,138.2 42.7,137.2 42.9,136.2 43.2,135.2 43.5,134.2 43.7,133.2 44.0,132.3 44.2,131.4 44.5,130.6 44.7,129.9 45.0,129.3 45.3,128.8 45.5,128.5 45.8,128.2 46.0,128.1 46.3,128.1 46.5,128.2 46.8,128.5 47.1,128.8 47.3,129.3 47.6,129.9 47.8,130.6 48.1,131.4 48.3,132.3 48.6,133.2 48.9,134.2 49.1,135.2 49.4,136.2 49.6,137.2 49.9,138.2 50.1,139.2 50.4,140.1 50.7,141.0 50.9,141.8 51.2,142.5 51.4,143.1 51.7,143.6 51.9,143.9 52.2,144.2 52.5,144.3 52.7,144.3 53.0,144.2 53.2,143.9 53.5,143.6 53.7,143.1 54.0,142.5 54.2,141.8 54.5,141.0 54.8,140.1 55.0,139.2 55.3,138.2 55.5,137.2 55.8,136.2 56.0,135.2 56.3,134.2 56.6,133.2 56.8,132.3 57.1,131.4 57.3,130.6 57.6,129.9 57.8,129.3 58.1,128.8 58.4,128.5 58.6,128.2 58.9,128.1 59.1,128.1 59.4,128.2 59.6,128.5 59.9,128.8 60.2,129.3 60.4,129.9 60.7,130.6 60.9,131.4 61.2,132.3 61.4,133.2 61.7,134.2 62.0,135.2 62.2,136.2 62.5,137.2 62.7,138.2 63.0,139.2 63.2,140.1 63.5,141.0 63.8,141.8 64.0,142.5 64.3,143.1 64.5,143.6 64.8,143.9 65.0,144.2 65.3,144.3 65.6,144.3 65.8,144.2 66.1,143.9 66.3,143.6 66.6,143.1 66.8,142.5 67.1,141.8 67.4,141.0 67.6,140.1 67.9,139.2 68.1,138.2 68.4,137.2 68.6,136.2 68.9,135.2 69.2,134.2 69.4,133.2 69.7,132.3 69.9,131.4 70.2,130.6 70.4,129.9 70.7,129.3 71.0,128.8 71.2,128.5 71.5,128.2 71.7,128.1 72.0,128.1 72.2,128.2 72.5,128.5 72.7,128.8 73.0,129.3 73.3,129.9 73.5,130.6 73.8,131.4 74.0,132.3 74.3,133.2 74.5,134.2 74.8,135.2 75.1,136.2 75.3,137.2 75.6,138.2 75.8,139.2 76.1,140.1 76.3,141.0 76.6,141.8 76.9,142.5 77.1,143.1 77.4,143.6 77.6,143.9 77.9,144.2 78.1,144.3 78.4,144.3 78.7,144.2 78.9,143.9 79.2,143.6 79.4,143.1 79.7,142.5 79.9,141.8 80.2,141.0 80.5,140.1 80.7,139.2 81.0,138.2 81.2,137.2 81.5,136.2 81.7,135.2 82.0,134.2 82.3,133.2 82.5,132.3 82.8,131.4 83.0,130.6 83.3,129.9 83.5,129.3 83.8,128.8 84.1,128.5 84.3,128.2 84.6,128.1 84.8,128.1 85.1,128.2 85.3,128.5 85.6,128.8 85.9,129.3 86.1,129.9 86.4,130.6 86.6,131.4 86.9,132.3 87.1,133.2 87.4,134.2 87.7,135.2 87.9,136.2 88.2,137.2 88.4,138.2 88.7,139.2 88.9,140.1 89.2,141.0 89.5,141.8 89.7,142.5 90.0,143.1 90.2,143.6 90.5,143.9 90.7,144.2 91.0,144.3 91.3,144.3 91.5,144.2 91.8,143.9 92.0,143.6 92.3,143.1 92.5,142.5 92.8,141.8 93.0,141.0 93.3,140.1 93.6,139.2 93.8,138.2 94.1,137.2 94.3,136.2 94.6,135.2 94.8,134.2 95.1,133.2 95.4,132.3 95.6,131.4 95.9,130.6 96.1,129.9 96.4,129.3 96.6,128.8 96.9,128.5 97.2,128.2 97.4,128.1 97.7,128.1 97.9,128.2 98.2,128.5 98.4,128.8 98.7,129.3 99.0,129.9 99.2,130.6 99.5,131.4 99.7,132.3 100.0,133.2 100.2,134.2 100.5,135.2 100.8,136.2 101.0,137.2 101.3,138.2 101.5,139.2 101.8,140.1 102.0,141.0 102.3,141.8 102.6,142.5 102.8,143.1 103.1,143.6 103.3,143.9 103.6,144.2 103.8,144.3 104.1,144.3 104.4,144.2 104.6,143.9 104.9,143.6 105.1,143.1 105.4,142.5 105.6,141.8 105.9,141.0 106.2,140.1 106.4,139.2 106.7,138.2 106.9,137.2 107.2,136.2 107.4,135.2 107.7,134.2 108.0,133.2 108.2,132.3 108.5,131.4 108.7,130.6 109.0,129.9 109.2,129.3 109.5,128.8 109.8,128.5 110.0,128.2 110.3,128.1 110.5,128.1 110.8,128.2 111.0,128.5 111.3,128.8 111.5,129.3 111.8,129.9 112.1,130.6 112.3,131.4 112.6,132.3 112.8,133.2 113.1,134.2 113.3,135.2 113.6,136.2 113.9,137.2 114.1,138.2 114.4,139.2 114.6,140.1 114.9,141.0 115.1,141.8 115.4,142.5 115.7,143.1 115.9,143.6 116.2,143.9 116.4,144.2 116.7,144.3 116.9,144.3 117.2,144.2 117.5,143.9 117.7,143.6 118.0,143.1 118.2,142.5 118.5,141.8 118.7,141.0 119.0,140.1 119.3,139.2 119.5,138.2 119.8,137.2 120.0,136.2 120.3,135.2 120.5,134.2 120.8,133.2 121.1,132.3 121.3,131.4 121.6,130.6 121.8,129.9 122.1,129.3 122.3,128.8 122.6,128.5 122.9,128.2 123.1,128.1 123.4,128.1 123.6,128.2 123.9,128.5 124.1,128.8 124.4,129.3 124.7,129.9 124.9,130.6 125.2,131.4 125.4,132.3 125.7,133.2 125.9,134.2 126.2,135.2 126.5,136.2 126.7,137.2 127.0,138.2 127.2,139.2 127.5,140.1 127.7,141.0 128.0,141.8 128.3,142.5 128.5,143.1 128.8,143.6 129.0,143.9 129.3,144.2 129.5,144.3 129.8,144.3 130.0,144.2 130.3,143.9 130.6,143.6 130.8,143.1 131.1,142.5 131.3,141.8 131.6,141.0 131.8,140.1 132.1,139.2 132.4,138.2 132.6,137.2 132.9,136.2 133.1,135.2 133.4,134.2 133.6,133.2 133.9,132.3 134.2,131.4 134.4,130.6 134.7,129.9 134.9,129.3 135.2,128.8 135.4,128.5 135.7,128.2 136.0,128.1 136.2,128.1 136.5,128.2 136.7,128.5 137.0,128.8 137.2,129.3 137.5,129.9 137.8,130.6 138.0,131.4 138.3,132.3 138.5,133.2 138.8,134.2 139.0,135.2 139.3,136.2 139.6,137.2 139.8,138.2 140.1,139.2 140.3,140.1 140.6,141.0 140.8,141.8 141.1,142.5 141.4,143.1 141.6,143.6 141.9,143.9 142.1,144.2 142.4,144.3 142.6,144.3 142.9,144.2 143.2,143.9 143.4,143.6 143.7,143.1 143.9,142.5 144.2,141.8 144.4,141.0 144.7,140.1 145.0,139.2 145.2,138.2 145.5,137.2 145.7,136.2 146.0,135.2 146.2,134.2 146.5,133.2 146.8,132.3 147.0,131.4 147.3,130.6 147.5,129.9 147.8,129.3 148.0,128.8 148.3,128.5 148.5,128.2 148.8,128.1 149.1,128.1 149.3,128.2 149.6,128.5 149.8,128.8 150.1,129.3 150.3,129.9 150.6,130.6 150.9,131.4 151.1,132.3 151.4,133.2 151.6,134.2 151.9,135.2 152.1,136.2 152.4,137.2 152.7,138.2 152.9,139.2 153.2,140.1 153.4,141.0 153.7,141.8 153.9,142.5 154.2,143.1 154.5,143.6 154.7,143.9 155.0,144.2 155.2,144.3 155.5,144.3 155.7,144.2 156.0,143.9 156.3,143.6 156.5,143.1 156.8,142.5 157.0,141.8 157.3,141.0 157.5,140.1 157.8,139.2 158.1,138.2 158.3,137.2 158.6,136.2 158.8,135.2 159.1,134.2 159.3,133.2 159.6,132.3 159.9,131.4 160.1,130.6 160.4,129.9 160.6,129.3 160.9,128.8 161.1,128.5 161.4,128.2 161.7,128.1 161.9,128.1 162.2,128.2 162.4,128.5 162.7,128.8 162.9,129.3 163.2,129.9 163.5,130.6 163.7,131.4 164.0,132.3 164.2,133.2 164.5,134.2 164.7,135.2 165.0,136.2 165.3,137.2 165.5,138.2 165.8,139.2 166.0,140.1 166.3,141.0 166.5,141.8 166.8,142.5 167.1,143.1 167.3,143.6 167.6,143.9 167.8,144.2 168.1,144.3 168.3,144.3 168.6,144.2 168.8,143.9 169.1,143.6 169.4,143.1 169.6,142.5 169.9,141.8 170.1,141.0 170.4,140.1 170.6,139.2 170.9,138.2 171.2,137.2 171.4,136.2 171.7,135.2 171.9,134.2 172.2,133.2 172.4,132.3 172.7,131.4 173.0,130.6 173.2,129.9 173.5,129.3 173.7,128.8 174.0,128.5 174.2,128.2 174.5,128.1 174.8,128.1 175.0,128.2 175.3,128.5 175.5,128.8 175.8,129.3 176.0,129.9 176.3,130.6 176.6,131.4 176.8,132.3 177.1,133.2 177.3,134.2 177.6,135.2 177.8,136.2 178.1,137.2 178.4,138.2 178.6,139.2 178.9,140.1 179.1,141.0 179.4,141.8 179.6,142.5 179.9,143.1 180.2,143.6 180.4,143.9 180.7,144.2 180.9,144.3 181.2,144.3 181.4,144.2 181.7,143.9 182.0,143.6 182.2,143.1 182.5,142.5 182.7,141.8 183.0,141.0 183.2,140.1 183.5,139.2 183.8,138.2 184.0,137.2 184.3,136.2 184.5,135.2 184.8,134.2 185.0,133.2 185.3,132.3 185.6,131.4 185.8,130.6 186.1,129.9 186.3,129.3 186.6,128.8 186.8,128.5 187.1,128.2 187.3,128.1 187.6,128.1 187.9,128.2 188.1,128.5 188.4,128.8 188.6,129.3 188.9,129.9 189.1,130.6 189.4,131.4 189.7,132.3 189.9,133.2 190.2,134.2 190.4,135.2 190.7,136.2 190.9,137.2 191.2,138.2 191.5,139.2 191.7,140.1 192.0,141.0 192.2,141.8 192.5,142.5 192.7,143.1 193.0,143.6 193.3,143.9 193.5,144.2 193.8,144.3 194.0,144.3 194.3,144.2 194.5,143.9 194.8,143.6 195.1,143.1 195.3,142.5 195.6,141.8 195.8,141.0 196.1,140.1 196.3,139.2 196.6,138.2 196.9,137.2 197.1,136.2 197.4,135.2 197.6,134.2 197.9,133.2 198.1,132.3 198.4,131.4 198.7,130.6 198.9,129.9 199.2,129.3 199.4,128.8 199.7,128.5 199.9,128.2 200.2,128.1 200.5,128.1 200.7,128.2 201.0,128.5 201.2,128.8 201.5,129.3 201.7,129.9 202.0,130.6 202.3,131.4 202.5,132.3 202.8,133.2 203.0,134.2 203.3,135.2 203.5,136.2 203.8,137.2 204.1,138.2 204.3,139.2 204.6,140.1 204.8,141.0 205.1,141.8 205.3,142.5 205.6,143.1 205.8,143.6 206.1,143.9 206.4,144.2 206.6,144.3 206.9,144.3 207.1,144.2 207.4,143.9 207.6,143.6 207.9,143.1 208.2,142.5 208.4,141.8 208.7,141.0 208.9,140.1 209.2,139.2 209.4,138.2 209.7,137.2 210.0,136.2 210.2,135.2 210.5,134.2 210.7,133.2 211.0,132.3 211.2,131.4 211.5,130.6 211.8,129.9 212.0,129.3 212.3,128.8 212.5,128.5 212.8,128.2 213.0,128.1 213.3,128.1 213.6,128.2 213.8,128.5 214.1,128.8 214.3,129.3 214.6,129.9 214.8,130.6 215.1,131.4 215.4,132.3 215.6,133.2 215.9,134.2 216.1,135.2 216.4,136.2 216.6,137.2 216.9,138.2 217.2,139.2 217.4,140.1 217.7,141.0 217.9,141.8 218.2,142.5 218.4,143.1 218.7,143.6 219.0,143.9 219.2,144.2 219.5,144.3 219.7,144.3 220.0,144.2 220.2,143.9 220.5,143.6 220.8,143.1 221.0,142.5 221.3,141.8 221.5,141.0 221.8,140.1 222.0,139.2 222.3,138.2 222.6,137.2 222.8,136.2 223.1,135.2 223.3,134.2 223.6,133.2 223.8,132.3 224.1,131.4 224.4,130.6 224.6,129.9 224.9,129.3 225.1,128.8 225.4,128.5 225.6,128.2 225.9,128.1 226.1,128.1 226.4,128.2 226.7,128.5 226.9,128.8 227.2,129.3 227.4,129.9 227.7,130.6 227.9,131.4 228.2,132.3 228.5,133.2 228.7,134.2 229.0,135.2 229.2,136.2 229.5,137.2 229.7,138.2 230.0,139.2 230.3,140.1 230.5,141.0 230.8,141.8 231.0,142.5 231.3,143.1 231.5,143.6 231.8,143.9 232.1,144.2 232.3,144.3 232.6,144.3 232.8,144.2 233.1,143.9 233.3,143.6 233.6,143.1 233.9,142.5 234.1,141.8 234.4,141.0 234.6,140.1 234.9,139.2 235.1,138.2 235.4,137.2 235.7,136.2 235.9,135.2 236.2,134.2 236.4,133.2 236.7,132.3 236.9,131.4 237.2,130.6 237.5,129.9 237.7,129.3 238.0,128.8 238.2,128.5 238.5,128.2 238.7,128.1 239.0,128.1 239.3,128.2 239.5,128.5 239.8,128.8 240.0,129.3 240.3,129.9 240.5,130.6 240.8,131.4 241.1,132.3 241.3,133.2 241.6,134.2 241.8,135.2 242.1,136.2 242.3,137.2 242.6,138.2 242.9,139.2 243.1,140.1 243.4,141.0 243.6,141.8 243.9,142.5 244.1,143.1 244.4,143.6 244.6,143.9 244.9,144.2 245.2,144.3 245.4,144.3 245.7,144.2 245.9,143.9 246.2,143.6 246.4,143.1 246.7,142.5 247.0,141.8 247.2,141.0 247.5,140.1 247.7,139.2 248.0,138.2 248.2,137.2 248.5,136.2 248.8,135.2 249.0,134.2 249.3,133.2 249.5,132.3 249.8,131.4 250.0,130.6 250.3,129.9 250.6,129.3 250.8,128.8 251.1,128.5 251.3,128.2 251.6,128.1 251.8,128.1 252.1,128.2 252.4,128.5 252.6,128.8 252.9,129.3 253.1,129.9 253.4,130.6 253.6,131.4 253.9,132.3 254.2,133.2 254.4,134.2 254.7,135.2 254.9,136.2 255.2,137.2 255.4,138.2 255.7,139.2 256.0,140.1 256.2,141.0 256.5,141.8 256.7,142.5 257.0,143.1 257.2,143.6 257.5,143.9 257.8,144.2 258.0,144.3 258.3,144.3 258.5,144.2 258.8,143.9 259.0,143.6 259.3,143.1 259.6,142.5 259.8,141.8 260.1,141.0 260.3,140.1 260.6,139.2 260.8,138.2 261.1,137.2 261.4,136.2 261.6,135.2 261.9,134.2 262.1,133.2 262.4,132.3 262.6,131.4 262.9,130.6 263.1,129.9 263.4,129.3 263.7,128.8 263.9,128.5 264.2,128.2 264.4,128.1 264.7,128.1 264.9,128.2 265.2,128.5 265.5,128.8 265.7,129.3 266.0,129.9 266.2,130.6 266.5,131.4 266.7,132.3 267.0,133.2 267.3,134.2 267.5,135.2 267.8,136.2 268.0,137.2 268.3,138.2 268.5,139.2 268.8,140.1 269.1,141.0 269.3,141.8 269.6,142.5 269.8,143.1 270.1,143.6 270.3,143.9 270.6,144.2 270.9,144.3 271.1,144.3 271.4,144.2 271.6,143.9 271.9,143.6 272.1,143.1 272.4,142.5 272.7,141.8 272.9,141.0 273.2,140.1 273.4,139.2 273.7,138.2 273.9,137.2 274.2,136.2 274.5,135.2 274.7,134.2 275.0,133.2 275.2,132.3 275.5,131.4 275.7,130.6 276.0,129.9 276.3,129.3 276.5,128.8 276.8,128.5 277.0,128.2 277.3,128.1 277.5,128.1 277.8,128.2 278.1,128.5 278.3,128.8 278.6,129.3 278.8,129.9 279.1,130.6 279.3,131.4 279.6,132.3 279.9,133.2 280.1,134.2 280.4,135.2 280.6,136.2 280.9,137.2 281.1,138.2 281.4,139.2 281.6,140.1 281.9,141.0 282.2,141.8 282.4,142.5 282.7,143.1 282.9,143.6 283.2,143.9 283.4,144.2 283.7,144.3 284.0,144.3 284.2,144.2 284.5,143.9 284.7,143.6 285.0,143.1 285.2,142.5 285.5,141.8 285.8,141.0 286.0,140.1 286.3,139.2 286.5,138.2 286.8,137.2 287.0,136.2 287.3,135.2 287.6,134.2 287.8,133.2 288.1,132.3 288.3,131.4 288.6,130.6 288.8,129.9 289.1,129.3 289.4,128.8 289.6,128.5 289.9,128.2 290.1,128.1 290.4,128.1 290.6,128.2 290.9,128.5 291.2,128.8 291.4,129.3 291.7,129.9 291.9,130.6 292.2,131.4 292.4,132.3 292.7,133.2 293.0,134.2 293.2,135.2 293.5,136.2 293.7,137.2 294.0,138.2 294.2,139.2 294.5,140.1 294.8,141.0 295.0,141.8 295.3,142.5 295.5,143.1 295.8,143.6 296.0,143.9 296.3,144.2 296.6,144.3 296.8,144.3 297.1,144.2 297.3,143.9 297.6,143.6 297.8,143.1 298.1,142.5 298.4,141.8 298.6,141.0 298.9,140.1 299.1,139.2 299.4,138.2 299.6,137.2 299.9,136.2 300.2,135.2 300.4,134.2 300.7,133.2 300.9,132.3 301.2,131.4 301.4,130.6 301.7,129.9 301.9,129.3 302.2,128.8 302.5,128.5 302.7,128.2 303.0,128.1 303.2,128.1 303.5,128.2 303.7,128.5 304.0,128.8 304.3,129.3 304.5,129.9 304.8,130.6 305.0,131.4 305.3,132.3 305.5,133.2 305.8,134.2 306.1,135.2 306.3,136.2 306.6,137.2 306.8,138.2 307.1,139.2 307.3,140.1 307.6,141.0 307.9,141.8 308.1,142.5 308.4,143.1 308.6,143.6 308.9,143.9 309.1,144.2 309.4,144.3 309.7,144.3 309.9,144.2 310.2,143.9 310.4,143.6 310.7,143.1 310.9,142.5 311.2,141.8 311.5,141.0 311.7,140.1 312.0,139.2 312.2,138.2 312.5,137.2 312.7,136.2 313.0,135.2 313.3,134.2 313.5,133.2 313.8,132.3 314.0,131.4 314.3,130.6 314.5,129.9 314.8,129.3 315.1,128.8 315.3,128.5 315.6,128.2 315.8,128.1 316.1,128.1 316.3,128.2 316.6,128.5 316.9,128.8 317.1,129.3 317.4,129.9 317.6,130.6 317.9,131.4 318.1,132.3 318.4,133.2 318.7,134.2 318.9,135.2 319.2,136.2 319.4,137.2 319.7,138.2 319.9,139.2 320.2,140.1 320.4,141.0 320.7,141.8 321.0,142.5 321.2,143.1 321.5,143.6 321.7,143.9 322.0,144.2 322.2,144.3 322.5,144.3 322.8,144.2 323.0,143.9 323.3,143.6 323.5,143.1 323.8,142.5 324.0,141.8 324.3,141.0 324.6,140.1 324.8,139.2 325.1,138.2 325.3,137.2 325.6,136.2 325.8,135.2 326.1,134.2 326.4,133.2 326.6,132.3 326.9,131.4 327.1,130.6 327.4,129.9 327.6,129.3 327.9,128.8 328.2,128.5 328.4,128.2 328.7,128.1 328.9,128.1 329.2,128.2 329.4,128.5 329.7,128.8 330.0,129.3 330.2,129.9 330.5,130.6 330.7,131.4 331.0,132.3 331.2,133.2 331.5,134.2 331.8,135.2 332.0,136.2 332.3,137.2 332.5,138.2 332.8,139.2 333.0,140.1 333.3,141.0 333.6,141.8 333.8,142.5 334.1,143.1 334.3,143.6 334.6,143.9 334.8,144.2 335.1,144.3 335.4,144.3 335.6,144.2 335.9,143.9 336.1,143.6 336.4,143.1 336.6,142.5 336.9,141.8 337.2,141.0 337.4,140.1 337.7,139.2 337.9,138.2 338.2,137.2 338.4,136.2 338.7,135.2 338.9,134.2 339.2,133.2 339.5,132.3 339.7,131.4 340.0,130.6 340.2,129.9 340.5,129.3 340.7,128.8 341.0,128.5 341.3,128.2 341.5,128.1 341.8,128.1 342.0,128.2 342.3,128.5 342.5,128.8 342.8,129.3 343.1,129.9 343.3,130.6 343.6,131.4 343.8,132.3 344.1,133.2 344.3,134.2 344.6,135.2 344.9,136.2 345.1,137.2 345.4,138.2 345.6,139.2 345.9,140.1 346.1,141.0 346.4,141.8 346.7,142.5 346.9,143.1 347.2,143.6 347.4,143.9 347.7,144.2 347.9,144.3 348.2,144.3 348.5,144.2 348.7,143.9 349.0,143.6 349.2,143.1 349.5,142.5 349.7,141.8 350.0,141.0 350.3,140.1 350.5,139.2 350.8,138.2 351.0,137.2 351.3,136.2 351.5,135.2 351.8,134.2 352.1,133.2 352.3,132.3 352.6,131.4 352.8,130.6 353.1,129.9 353.3,129.3 353.6,128.8 353.9,128.5 354.1,128.2 354.4,128.1 354.6,128.1 354.9,128.2 355.1,128.5 355.4,128.8 355.7,129.3 355.9,129.9 356.2,130.6 356.4,131.4 356.7,132.3 356.9,133.2 357.2,134.2 357.5,135.2 357.7,136.2 358.0,137.2 358.2,138.2 358.5,139.2 358.7,140.1 359.0,141.0 359.2,141.8 359.5,142.5 359.8,143.1 360.0,143.6 360.3,143.9 360.5,144.2 360.8,144.3 361.0,144.3 361.3,144.2 361.6,143.9 361.8,143.6 362.1,143.1 362.3,142.5 362.6,141.8 362.8,141.0 363.1,140.1 363.4,139.2 363.6,138.2 363.9,137.2 364.1,136.2 364.4,135.2 364.6,134.2 364.9,133.2 365.2,132.3 365.4,131.4 365.7,130.6 365.9,129.9 366.2,129.3 366.4,128.8 366.7,128.5 367.0,128.2 367.2,128.1 367.5,128.1 367.7,128.2 368.0,128.5 368.2,128.8 368.5,129.3 368.8,129.9 369.0,130.6 369.3,131.4 369.5,132.3 369.8,133.2 370.0,134.2 370.3,135.2 370.6,136.2 370.8,137.2 371.1,138.2 371.3,139.2 371.6,140.1 371.8,141.0 372.1,141.8 372.4,142.5 372.6,143.1 372.9,143.6 373.1,143.9 373.4,144.2 373.6,144.3 373.9,144.3 374.2,144.2 374.4,143.9 374.7,143.6 374.9,143.1 375.2,142.5 375.4,141.8 375.7,141.0 376.0,140.1 376.2,139.2 376.5,138.2 376.7,137.2 377.0,136.2 377.2,135.2 377.5,134.2 377.7,133.2 378.0,132.3 378.3,131.4 378.5,130.6 378.8,129.9 379.0,129.3 379.3,128.8 379.5,128.5 379.8,128.2 380.1,128.1 380.3,128.1 380.6,128.2 380.8,128.5 381.1,128.8 381.3,129.3 381.6,129.9 381.9,130.6 382.1,131.4 382.4,132.3 382.6,133.2 382.9,134.2 383.1,135.2 383.4,136.2 383.7,137.2 383.9,138.2 384.2,139.2 384.4,140.1 384.7,141.0 384.9,141.8 385.2,142.5 385.5,143.1 385.7,143.6 386.0,143.9 386.2,144.2 386.5,144.3 386.7,144.3 387.0,144.2 387.3,143.9 387.5,143.6 387.8,143.1 388.0,142.5 388.3,141.8 388.5,141.0 388.8,140.1 389.1,139.2 389.3,138.2 389.6,137.2 389.8,136.2 390.1,135.2 390.3,134.2 390.6,133.2 390.9,132.3 391.1,131.4 391.4,130.6 391.6,129.9 391.9,129.3 392.1,128.8 392.4,128.5 392.7,128.2 392.9,128.1 393.2,128.1 393.4,128.2 393.7,128.5 393.9,128.8 394.2,129.3 394.5,129.9 394.7,130.6 395.0,131.4 395.2,132.3 395.5,133.2 395.7,134.2 396.0,135.2 396.2,136.2 396.5,137.2 396.8,138.2 397.0,139.2 397.3,140.1 397.5,141.0 397.8,141.8 398.0,142.5 398.3,143.1 398.6,143.6 398.8,143.9 399.1,144.2 399.3,144.3 399.6,144.3 399.8,144.2 400.1,143.9 400.4,143.6 400.6,143.1 400.9,142.5 401.1,141.8 401.4,141.0 401.6,140.1 401.9,139.2 402.2,138.2 402.4,137.2 402.7,136.2 402.9,135.2 403.2,134.2 403.4,133.2 403.7,132.3 404.0,131.4 404.2,130.6 404.5,129.9 404.7,129.3 405.0,128.8 405.2,128.5 405.5,128.2 405.8,128.1 406.0,128.1 406.3,128.2 406.5,128.5 406.8,128.8 407.0,129.3 407.3,129.9 407.6,130.6 407.8,131.4 408.1,132.3 408.3,133.2 408.6,134.2 408.8,135.2 409.1,136.2 409.4,137.2 409.6,138.2 409.9,139.2 410.1,140.1 410.4,141.0 410.6,141.8 410.9,142.5 411.2,143.1 411.4,143.6 411.7,143.9 411.9,144.2 412.2,144.3 412.4,144.3 412.7,144.2 413.0,143.9 413.2,143.6 413.5,143.1 413.7,142.5 414.0,141.8 414.2,141.0 414.5,140.1 414.8,139.2 415.0,138.2 415.3,137.2 415.5,136.2 415.8,135.2 416.0,134.2 416.3,133.2 416.5,132.3 416.8,131.4 417.1,130.6 417.3,129.9 417.6,129.3 417.8,128.8 418.1,128.5 418.3,128.2 418.6,128.1 418.9,128.1 419.1,128.2 419.4,128.5 419.6,128.8 419.9,129.3 420.1,129.9 420.4,130.6 420.7,131.4 420.9,132.3 421.2,133.2 421.4,134.2 421.7,135.2 421.9,136.2 422.2,137.2 422.5,138.2 422.7,139.2 423.0,140.1 423.2,141.0 423.5,141.8 423.7,142.5 424.0,143.1 424.3,143.6 424.5,143.9 424.8,144.2 425.0,144.3 425.3,144.3 425.5,144.2 425.8,143.9 426.1,143.6 426.3,143.1 426.6,142.5 426.8,141.8 427.1,141.0 427.3,140.1 427.6,139.2 427.9,138.2 428.1,137.2 428.4,136.2 428.6,135.2 428.9,134.2 429.1,133.2 429.4,132.3 429.7,131.4 429.9,130.6 430.2,129.9 430.4,129.3 430.7,128.8 430.9,128.5 431.2,128.2 431.5,128.1 431.7,128.1 432.0,128.2 432.2,128.5 432.5,128.8 432.7,129.3 433.0,129.9 433.3,130.6 433.5,131.4 433.8,132.3 434.0,133.2 434.3,134.2 434.5,135.2 434.8,136.2 435.0,137.2 435.3,138.2 435.6,139.2 435.8,140.1 436.1,141.0 436.3,141.8 436.6,142.5 436.8,143.1 437.1,143.6 437.4,143.9 437.6,144.2 437.9,144.3 438.1,144.3 438.4,144.2 438.6,143.9 438.9,143.6 439.2,143.1 439.4,142.5 439.7,141.8 439.9,141.0 440.2,140.1 440.4,139.2 440.7,138.2 441.0,137.2 441.2,136.2 441.5,135.2 441.7,134.2 442.0,133.2 442.2,132.3 442.5,131.4 442.8,130.6 443.0,129.9 443.3,129.3 443.5,128.8 443.8,128.5 444.0,128.2 444.3,128.1 444.6,128.1 444.8,128.2 445.1,128.5 445.3,128.8 445.6,129.3 445.8,129.9 446.1,130.6 446.4,131.4 446.6,132.3 446.9,133.2 447.1,134.2 447.4,135.2 447.6,136.2 447.9,137.2 448.2,138.2 448.4,139.2 448.7,140.1 448.9,141.0 449.2,141.8 449.4,142.5 449.7,143.1 450.0,143.6 450.2,143.9 450.5,144.2 450.7,144.3 451.0,144.3 451.2,144.2 451.5,143.9 451.8,143.6 452.0,143.1 452.3,142.5 452.5,141.8 452.8,141.0 453.0,140.1 453.3,139.2 453.5,138.2 453.8,137.2 454.1,136.2 454.3,135.2 454.6,134.2 454.8,133.2 455.1,132.3 455.3,131.4 455.6,130.6 455.9,129.9 456.1,129.3 456.4,128.8 456.6,128.5 456.9,128.2 457.1,128.1 457.4,128.1 457.7,128.2 457.9,128.5 458.2,128.8 458.4,129.3 458.7,129.9 458.9,130.6 459.2,131.4 459.5,132.3 459.7,133.2 460.0,134.2 460.2,135.2 460.5,136.2 460.7,137.2 461.0,138.2 461.3,139.2 461.5,140.1 461.8,141.0 462.0,141.8 462.3,142.5 462.5,143.1 462.8,143.6 463.1,143.9 463.3,144.2 463.6,144.3 463.8,144.3 464.1,144.2 464.3,143.9 464.6,143.6 464.9,143.1 465.1,142.5 465.4,141.8 465.6,141.0 465.9,140.1 466.1,139.2 466.4,138.2 466.7,137.2 466.9,136.2 467.2,135.2 467.4,134.2 467.7,133.2 467.9,132.3 468.2,131.4 468.5,130.6 468.7,129.9 469.0,129.3 469.2,128.8 469.5,128.5 469.7,128.2 470.0,128.1 470.3,128.1 470.5,128.2 470.8,128.5 471.0,128.8 471.3,129.3 471.5,129.9 471.8,130.6 472.0,131.4 472.3,132.3 472.6,133.2 472.8,134.2 473.1,135.2 473.3,136.2 473.6,137.2 473.8,138.2 474.1,139.2 474.4,140.1 474.6,141.0 474.9,141.8 475.1,142.5 475.4,143.1 475.6,143.6 475.9,143.9 476.2,144.2 476.4,144.3 476.7,144.3 476.9,144.2 477.2,143.9 477.4,143.6 477.7,143.1 478.0,142.5 478.2,141.8 478.5,141.0 478.7,140.1 479.0,139.2 479.2,138.2 479.5,137.2 479.8,136.2 480.0,135.2 480.3,134.2 480.5,133.2 480.8,132.3 481.0,131.4 481.3,130.6 481.6,129.9 481.8,129.3 482.1,128.8 482.3,128.5 482.6,128.2 482.8,128.1 483.1,128.1 483.4,128.2 483.6,128.5 483.9,128.8 484.1,129.3 484.4,129.9 484.6,130.6 484.9,131.4 485.2,132.3 485.4,133.2 485.7,134.2 485.9,135.2 486.2,136.2 486.4,137.2 486.7,138.2 487.0,139.2 487.2,140.1 487.5,141.0 487.7,141.8 488.0,142.5 488.2,143.1 488.5,143.6 488.8,143.9 489.0,144.2 489.3,144.3 489.5,144.3 489.8,144.2 490.0,143.9 490.3,143.6 490.6,143.1 490.8,142.5 491.1,141.8 491.3,141.0 491.6,140.1 491.8,139.2 492.1,138.2 492.3,137.2 492.6,136.2 492.9,135.2 493.1,134.2 493.4,133.2 493.6,132.3 493.9,131.4 494.1,130.6 494.4,129.9 494.7,129.3 494.9,128.8 495.2,128.5 495.4,128.2 495.7,128.1 495.9,128.1 496.2,128.2 496.5,128.5 496.7,128.8 497.0,129.3 497.2,129.9 497.5,130.6 497.7,131.4 498.0,132.3 498.3,133.2 498.5,134.2 498.8,135.2 499.0,136.2 499.3,137.2 499.5,138.2 499.8,139.2 500.1,140.1 500.3,141.0 500.6,141.8 500.8,142.5 501.1,143.1 501.3,143.6 501.6,143.9 501.9,144.2 502.1,144.3 502.4,144.3 502.6,144.2 502.9,143.9 503.1,143.6 503.4,143.1 503.7,142.5 503.9,141.8 504.2,141.0 504.4,140.1 504.7,139.2 504.9,138.2 505.2,137.2 505.5,136.2 505.7,135.2 506.0,134.2 506.2,133.2 506.5,132.3 506.7,131.4 507.0,130.6 507.3,129.9 507.5,129.3 507.8,128.8 508.0,128.5 508.3,128.2 508.5,128.1 508.8,128.1 509.1,128.2 509.3,128.5 509.6,128.8 509.8,129.3 510.1,129.9 510.3,130.6 510.6,131.4 510.8,132.3 511.1,133.2 511.4,134.2 511.6,135.2 511.9,136.2 512.1,137.2 512.4,138.2 512.6,139.2 512.9,140.1 513.2,141.0 513.4,141.8 513.7,142.5 513.9,143.1 514.2,143.6 514.4,143.9 514.7,144.2 515.0,144.3 515.2,144.3 515.5,144.2 515.7,143.9 516.0,143.6 516.2,143.1 516.5,142.5 516.8,141.8 517.0,141.0 517.3,140.1 517.5,139.2 517.8,138.2 518.0,137.2 518.3,136.2 518.6,135.2 518.8,134.2 519.1,133.2 519.3,132.3 519.6,131.4 519.8,130.6 520.1,129.9 520.4,129.3 520.6,128.8 520.9,128.5 521.1,128.2 521.4,128.1 521.6,128.1 521.9,128.2 522.2,128.5 522.4,128.8 522.7,129.3 522.9,129.9 523.2,130.6 523.4,131.4 523.7,132.3 524.0,133.2 524.2,134.2 524.5,135.2 524.7,136.2 525.0,137.2 525.2,138.2 525.5,139.2 525.8,140.1 526.0,141.0 526.3,141.8 526.5,142.5 526.8,143.1 527.0,143.6 527.3,143.9 527.6,144.2 527.8,144.3 528.1,144.3 528.3,144.2 528.6,143.9 528.8,143.6 529.1,143.1 529.3,142.5 529.6,141.8 529.9,141.0 530.1,140.1 530.4,139.2 530.6,138.2 530.9,137.2 531.1,136.2 531.4,135.2 531.7,134.2 531.9,133.2 532.2,132.3 532.4,131.4 532.7,130.6 532.9,129.9 533.2,129.3 533.5,128.8 533.7,128.5 534.0,128.2 534.2,128.1 534.5,128.1 534.7,128.2 535.0,128.5 535.3,128.8 535.5,129.3 535.8,129.9 536.0,130.6 536.3,131.4 536.5,132.3 536.8,133.2 537.1,134.2 537.3,135.2 537.6,136.2 537.8,137.2 538.1,138.2 538.3,139.2 538.6,140.1"/>
<polyline fill="none" stroke="#b02020" stroke-width="1.7" points="24.7,46.5 25.3,46.7 26.0,46.9 26.6,47.1 27.3,47.2 27.9,47.4 28.6,47.5 29.2,47.6 29.8,47.8 30.5,47.9 31.1,48.0 31.8,48.1 32.4,48.2 33.1,48.3 33.7,48.5 34.3,48.6 35.0,48.8 35.6,48.9 36.3,49.1 36.9,49.2 37.5,49.4 38.2,49.6 38.8,49.7 39.5,49.9 40.1,50.0 40.8,50.2 41.4,50.3 42.0,50.4 42.7,50.5 43.3,50.7 44.0,50.8 44.6,50.9 45.3,51.0 45.9,51.1 46.5,51.2 47.2,51.3 47.8,51.5 48.5,51.6 49.1,51.8 49.8,51.9 50.4,52.1 51.0,52.2 51.7,52.4 52.3,52.5 53.0,52.7 53.6,52.8 54.2,52.9 54.9,53.1 55.5,53.2 56.2,53.3 56.8,53.4 57.5,53.5 58.1,53.6 58.7,53.7 59.4,53.8 60.0,53.9 60.7,54.0 61.3,54.2 62.0,54.3 62.6,54.5 63.2,54.6 63.9,54.8 64.5,54.9 65.2,55.1 65.8,55.2 66.5,55.3 67.1,55.4 67.7,55.6 68.4,55.7 69.0,55.7 69.7,55.8 70.3,55.9 71.0,56.0 71.6,56.1 72.2,56.2 72.9,56.3 73.5,56.5 74.2,56.6 74.8,56.7 75.4,56.9 76.1,57.0 76.7,57.2 77.4,57.3 78.0,57.4 78.7,57.6 79.3,57.7 79.9,57.8 80.6,57.9 81.2,58.0 81.9,58.1 82.5,58.2 83.2,58.3 83.8,58.3 84.4,58.4 85.1,58.5 85.7,58.6 86.4,58.8 87.0,58.9 87.7,59.0 88.3,59.1 88.9,59.3 89.6,59.4 90.2,59.6 90.9,59.7 91.5,59.8 92.1,59.9 92.8,60.0 93.4,60.1 94.1,60.2 94.7,60.3 95.4,60.4 96.0,60.4 96.6,60.5 97.3,60.6 97.9,60.7 98.6,60.8 99.2,60.9 99.9,61.0 100.5,61.2 101.1,61.3 101.8,61.4 102.4,61.6 103.1,61.7 103.7,61.8 104.4,61.9 105.0,62.0 105.6,62.1 106.3,62.2 106.9,62.3 107.6,62.4 108.2,62.4 108.9,62.5 109.5,62.6 110.1,62.7 110.8,62.8 111.4,62.9 112.1,63.0 112.7,63.1 113.3,63.2 114.0,63.3 114.6,63.4 115.3,63.6 115.9,63.7 116.6,63.8 117.2,63.9 117.8,64.0 118.5,64.1 119.1,64.2 119.8,64.3 120.4,64.3 121.1,64.4 121.7,64.5 122.3,64.5 123.0,64.6 123.6,64.7 124.3,64.8 124.9,64.9 125.6,65.0 126.2,65.1 126.8,65.2 127.5,65.4 128.1,65.5 128.8,65.6 129.4,65.7 130.0,65.8 130.7,65.9 131.3,66.0 132.0,66.1 132.6,66.1 133.3,66.2 133.9,66.3 134.5,66.3 135.2,66.4 135.8,66.5 136.5,66.5 137.1,66.6 137.8,66.7 138.4,66.8 139.0,66.9 139.7,67.0 140.3,67.2 141.0,67.3 141.6,67.4 142.3,67.5 142.9,67.6 143.5,67.7 144.2,67.8 144.8,67.8 145.5,67.9 146.1,68.0 146.8,68.0 147.4,68.1 148.0,68.1 148.7,68.2 149.3,68.3 150.0,68.3 150.6,68.4 151.2,68.5 151.9,68.6 152.5,68.7 153.2,68.9 153.8,69.0 154.5,69.1 155.1,69.2 155.7,69.3 156.4,69.4 157.0,69.4 157.7,69.5 158.3,69.6 159.0,69.6 159.6,69.7 160.2,69.7 160.9,69.8 161.5,69.8 162.2,69.9 162.8,70.0 163.5,70.1 164.1,70.2 164.7,70.3 165.4,70.4 166.0,70.5 166.7,70.6 167.3,70.7 167.9,70.8 168.6,70.9 169.2,70.9 169.9,71.0 170.5,71.1 171.2,71.1 171.8,71.2 172.4,71.2 173.1,71.3 173.7,71.3 174.4,71.4 175.0,71.4 175.7,71.5 176.3,71.6 176.9,71.7 177.6,71.8 178.2,71.9 178.9,72.0 179.5,72.1 180.2,72.2 180.8,72.3 181.4,72.4 182.1,72.4 182.7,72.5 183.4,72.6 184.0,72.6 184.7,72.7 185.3,72.7 185.9,72.8 186.6,72.8 187.2,72.8 187.9,72.9 188.5,73.0 189.1,73.0 189.8,73.1 190.4,73.2 191.1,73.3 191.7,73.4 192.4,73.5 193.0,73.6 193.6,73.7 194.3,73.8 194.9,73.8 195.6,73.9 196.2,74.0 196.9,74.0 197.5,74.1 198.1,74.1 198.8,74.1 199.4,74.2 200.1,74.2 200.7,74.3 201.4,74.3 202.0,74.4 202.6,74.5 203.3,74.6 203.9,74.7 204.6,74.8 205.2,74.9 205.8,75.0 206.5,75.0 207.1,75.1 207.8,75.2 208.4,75.2 209.1,75.3 209.7,75.3 210.3,75.4 211.0,75.4 211.6,75.5 212.3,75.5 212.9,75.5 213.6,75.6 214.2,75.6 214.8,75.7 215.5,75.8 216.1,75.9 216.8,76.0 217.4,76.0 218.1,76.1 218.7,76.2 219.3,76.3 220.0,76.4 220.6,76.4 221.3,76.5 221.9,76.6 222.6,76.6 223.2,76.6 223.8,76.7 224.5,76.7 225.1,76.7 225.8,76.8 226.4,76.8 227.0,76.9 227.7,76.9 228.3,77.0 229.0,77.1 229.6,77.2 230.3,77.3 230.9,77.3 231.5,77.4 232.2,77.5 232.8,77.6 233.5,77.6 234.1,77.7 234.8,77.7 235.4,77.8 236.0,77.8 236.7,77.8 237.3,77.9 238.0,77.9 238.6,77.9 239.3,78.0 239.9,78.0 240.5,78.1 241.2,78.2 241.8,78.2 242.5,78.3 243.1,78.4 243.7,78.5 244.4,78.6 245.0,78.6 245.7,78.7 246.3,78.8 247.0,78.8 247.6,78.9 248.2,78.9 248.9,78.9 249.5,78.9 250.2,79.0 250.8,79.0 251.5,79.0 252.1,79.1 252.7,79.1 253.4,79.2 254.0,79.2 254.7,79.3 255.3,79.4 256.0,79.5 256.6,79.6 257.2,79.6 257.9,79.7 258.5,79.8 259.2,79.8 259.8,79.9 260.5,79.9 261.1,79.9 261.7,80.0 262.4,80.0 263.0,80.0 263.7,80.0 264.3,80.1 264.9,80.1 265.6,80.2 266.2,80.2 266.9,80.3 267.5,80.3 268.2,80.4 268.8,80.5 269.4,80.6 270.1,80.6 270.7,80.7 271.4,80.8 272.0,80.8 272.7,80.9 273.3,80.9 273.9,80.9 274.6,81.0 275.2,81.0 275.9,81.0 276.5,81.0 277.2,81.0 277.8,81.1 278.4,81.1 279.1,81.2 279.7,81.2 280.4,81.3 281.0,81.4 281.6,81.5 282.3,81.5 282.9,81.6 283.6,81.7 284.2,81.7 284.9,81.8 285.5,81.8 286.1,81.8 286.8,81.9 287.4,81.9 288.1,81.9 288.7,81.9 289.4,81.9 290.0,82.0 290.6,82.0 291.3,82.0 291.9,82.1 292.6,82.2 293.2,82.2 293.9,82.3 294.5,82.4 295.1,82.4 295.8,82.5 296.4,82.6 297.1,82.6 297.7,82.7 298.4,82.7 299.0,82.7 299.6,82.8 300.3,82.8 300.9,82.8 301.6,82.8 302.2,82.8 302.8,82.8 303.5,82.9 304.1,82.9 304.8,83.0 305.4,83.0 306.1,83.1 306.7,83.1 307.3,83.2 308.0,83.3 308.6,83.4 309.3,83.4 309.9,83.5 310.6,83.5 311.2,83.5 311.8,83.6 312.5,83.6 313.1,83.6 313.8,83.6 314.4,83.6 315.1,83.7 315.7,83.7 316.3,83.7 317.0,83.7 317.6,83.8 318.3,83.8 318.9,83.9 319.6,84.0 320.2,84.0 320.8,84.1 321.5,84.2 322.1,84.2 322.8,84.3 323.4,84.3 324.0,84.3 324.7,84.4 325.3,84.4 326.0,84.4 326.6,84.4 327.3,84.4 327.9,84.4 328.5,84.5 329.2,84.5 329.8,84.5 330.5,84.6 331.1,84.6 331.8,84.7 332.4,84.7 333.0,84.8 333.7,84.9 334.3,84.9 335.0,85.0 335.6,85.0 336.3,85.1 336.9,85.1 337.5,85.1 338.2,85.1 338.8,85.1 339.5,85.2 340.1,85.2 340.7,85.2 341.4,85.2 342.0,85.2 342.7,85.2 343.3,85.3 344.0,85.3 344.6,85.4 345.2,85.4 345.9,85.5 346.5,85.6 347.2,85.6 347.8,85.7 348.5,85.7 349.1,85.8 349.7,85.8 350.4,85.8 351.0,85.8 351.7,85.9 352.3,85.9 353.0,85.9 353.6,85.9 354.2,85.9 354.9,85.9 355.5,85.9 356.2,86.0 356.8,86.0 357.5,86.1 358.1,86.1 358.7,86.2 359.4,86.3 360.0,86.3 360.7,86.4 361.3,86.4 361.9,86.4 362.6,86.5 363.2,86.5 363.9,86.5 364.5,86.5 365.2,86.5 365.8,86.5 366.4,86.5 367.1,86.5 367.7,86.6 368.4,86.6 369.0,86.6 369.7,86.7 370.3,86.7 370.9,86.8 371.6,86.8 372.2,86.9 372.9,87.0 373.5,87.0 374.2,87.0 374.8,87.1 375.4,87.1 376.1,87.1 376.7,87.1 377.4,87.1 378.0,87.1 378.6,87.1 379.3,87.2 379.9,87.2 380.6,87.2 381.2,87.2 381.9,87.2 382.5,87.3 383.1,87.3 383.8,87.4 384.4,87.4 385.1,87.5 385.7,87.6 386.4,87.6 387.0,87.7 387.6,87.7 388.3,87.7 388.9,87.7 389.6,87.7 390.2,87.7 390.9,87.7 391.5,87.7 392.1,87.7 392.8,87.8 393.4,87.8 394.1,87.8 394.7,87.8 395.4,87.9 396.0,87.9 396.6,88.0 397.3,88.0 397.9,88.1 398.6,88.1 399.2,88.2 399.8,88.2 400.5,88.3 401.1,88.3 401.8,88.3 402.4,88.3 403.1,88.3 403.7,88.3 404.3,88.3 405.0,88.3 405.6,88.3 406.3,88.3 406.9,88.3 407.6,88.4 408.2,88.4 408.8,88.5 409.5,88.5 410.1,88.6 410.8,88.6 411.4,88.7 412.1,88.7 412.7,88.8 413.3,88.8 414.0,88.8 414.6,88.8 415.3,88.8 415.9,88.8 416.5,88.8 417.2,88.8 417.8,88.8 418.5,88.8 419.1,88.8 419.8,88.9 420.4,88.9 421.0,88.9 421.7,89.0 422.3,89.0 423.0,89.1 423.6,89.1 424.3,89.2 424.9,89.2 425.5,89.3 426.2,89.3 426.8,89.3 427.5,89.3 428.1,89.3 428.8,89.3 429.4,89.3 430.0,89.3 430.7,89.3 431.3,89.3 432.0,89.3 432.6,89.4 433.3,89.4 433.9,89.4 434.5,89.5 435.2,89.5 435.8,89.6 436.5,89.6 437.1,89.7 437.7,89.7 438.4,89.7 439.0,89.8 439.7,89.8 440.3,89.8 441.0,89.8 441.6,89.8 442.2,89.8 442.9,89.8 443.5,89.8 444.2,89.8 444.8,89.8 445.5,89.8 446.1,89.8 446.7,89.9 447.4,89.9 448.0,90.0 448.7,90.0 449.3,90.1 450.0,90.1 450.6,90.2 451.2,90.2 451.9,90.2 452.5,90.2 453.2,90.2 453.8,90.2 454.4,90.2 455.1,90.2 455.7,90.2 456.4,90.2 457.0,90.2 457.7,90.2 458.3,90.3 458.9,90.3 459.6,90.3 460.2,90.4 460.9,90.4 461.5,90.4 462.2,90.5 462.8,90.5 463.4,90.6 464.1,90.6 464.7,90.6 465.4,90.7 466.0,90.7 466.7,90.7 467.3,90.7 467.9,90.7 468.6,90.6 469.2,90.6 469.9,90.6 470.5,90.7 471.2,90.7 471.8,90.7 472.4,90.7 473.1,90.8 473.7,90.8 474.4,90.9 475.0,90.9 475.6,91.0 476.3,91.0 476.9,91.0 477.6,91.0 478.2,91.1 478.9,91.1 479.5,91.1 480.1,91.1 480.8,91.1 481.4,91.0 482.1,91.0 482.7,91.0 483.4,91.0 484.0,91.1 484.6,91.1 485.3,91.1 485.9,91.2 486.6,91.2 487.2,91.2 487.9,91.3 488.5,91.3 489.1,91.4 489.8,91.4 490.4,91.4 491.1,91.4 491.7,91.4 492.3,91.4 493.0,91.4 493.6,91.4 494.3,91.4 494.9,91.4 495.6,91.4 496.2,91.4 496.8,91.4 497.5,91.4 498.1,91.5 498.8,91.5 499.4,91.6 500.1,91.6 500.7,91.7 501.3,91.7 502.0,91.7 502.6,91.8 503.3,91.8 503.9,91.8 504.6,91.8 505.2,91.8 505.8,91.8 506.5,91.8 507.1,91.8 507.8,91.8 508.4,91.8 509.1,91.8 509.7,91.8 510.3,91.8 511.0,91.8 511.6,91.9 512.3,91.9 512.9,92.0 513.5,92.0 514.2,92.0 514.8,92.1 515.5,92.1 516.1,92.1 516.8,92.1 517.4,92.1 518.0,92.1 518.7,92.1 519.3,92.1 520.0,92.1 520.6,92.1 521.3,92.1 521.9,92.1 522.5,92.1 523.2,92.1 523.8,92.2 524.5,92.2 525.1,92.2 525.8,92.3 526.4,92.3 527.0,92.4 527.7,92.4 528.3,92.4 529.0,92.4 529.6,92.5 530.2,92.5 530.9,92.5 531.5,92.4 532.2,92.4 532.8,92.4 533.5,92.4 534.1,92.4 534.7,92.4 535.4,92.4 536.0,92.4 536.7,92.5 537.3,92.5 538.0,92.5 538.6,92.6"/>
<polyline fill="none" stroke="#12127c" stroke-width="1.75" points="24.7,46.5 24.7,66.6 25.1,67.0 25.5,67.4 25.9,67.7 26.2,68.0 26.6,68.2 27.0,68.4 27.4,68.4 27.8,68.4 28.2,68.3 28.6,68.1 28.9,67.9 29.3,67.6 29.7,67.3 30.1,67.0 30.5,66.7 30.9,66.3 31.3,66.0 31.6,65.7 32.0,65.5 32.4,65.3 32.8,65.2 33.2,65.1 33.6,65.2 34.0,65.3 34.3,65.4 34.7,65.7 35.1,66.0 35.5,66.4 35.9,66.8 36.3,67.2 36.6,67.7 37.0,68.2 37.4,68.6 37.8,69.1 38.2,69.5 38.6,69.8 39.0,70.1 39.3,70.4 39.7,70.5 40.1,70.6 40.5,70.6 40.9,70.5 41.3,70.4 41.7,70.2 42.0,69.9 42.4,69.6 42.8,69.3 43.2,68.9 43.6,68.6 44.0,68.3 44.4,68.0 44.7,67.7 45.1,67.5 45.5,67.3 45.9,67.3 46.3,67.3 46.7,67.3 47.1,67.5 47.4,67.7 47.8,68.0 48.2,68.4 48.6,68.8 49.0,69.2 49.4,69.6 49.8,70.1 50.1,70.6 50.5,71.0 50.9,71.4 51.3,71.8 51.7,72.1 52.1,72.4 52.5,72.5 52.8,72.6 53.2,72.7 53.6,72.6 54.0,72.5 54.4,72.3 54.8,72.0 55.1,71.7 55.5,71.4 55.9,71.1 56.3,70.7 56.7,70.4 57.1,70.1 57.5,69.8 57.8,69.6 58.2,69.4 58.6,69.3 59.0,69.3 59.4,69.3 59.8,69.4 60.2,69.6 60.5,69.9 60.9,70.2 61.3,70.6 61.7,71.0 62.1,71.5 62.5,71.9 62.9,72.4 63.2,72.8 63.6,73.3 64.0,73.6 64.4,74.0 64.8,74.2 65.2,74.4 65.6,74.5 65.9,74.6 66.3,74.6 66.7,74.5 67.1,74.3 67.5,74.0 67.9,73.8 68.3,73.4 68.6,73.1 69.0,72.8 69.4,72.4 69.8,72.1 70.2,71.8 70.6,71.5 71.0,71.3 71.3,71.2 71.7,71.1 72.1,71.2 72.5,71.3 72.9,71.4 73.3,71.7 73.6,72.0 74.0,72.3 74.4,72.7 74.8,73.2 75.2,73.6 75.6,74.1 76.0,74.5 76.3,75.0 76.7,75.4 77.1,75.7 77.5,76.0 77.9,76.2 78.3,76.3 78.7,76.4 79.0,76.4 79.4,76.3 79.8,76.2 80.2,75.9 80.6,75.7 81.0,75.4 81.4,75.0 81.7,74.7 82.1,74.3 82.5,74.0 82.9,73.7 83.3,73.4 83.7,73.2 84.1,73.0 84.4,72.9 84.8,72.9 85.2,73.0 85.6,73.1 86.0,73.3 86.4,73.6 86.8,74.0 87.1,74.3 87.5,74.8 87.9,75.2 88.3,75.7 88.7,76.1 89.1,76.6 89.5,77.0 89.8,77.3 90.2,77.6 90.6,77.9 91.0,78.0 91.4,78.1 91.8,78.1 92.1,78.1 92.5,77.9 92.9,77.7 93.3,77.5 93.7,77.2 94.1,76.8 94.5,76.5 94.8,76.1 95.2,75.8 95.6,75.4 96.0,75.2 96.4,74.9 96.8,74.7 97.2,74.6 97.5,74.6 97.9,74.6 98.3,74.7 98.7,74.9 99.1,75.2 99.5,75.5 99.9,75.9 100.2,76.3 100.6,76.7 101.0,77.2 101.4,77.6 101.8,78.1 102.2,78.5 102.6,78.8 102.9,79.2 103.3,79.4 103.7,79.6 104.1,79.7 104.5,79.7 104.9,79.7 105.3,79.6 105.6,79.4 106.0,79.2 106.4,78.9 106.8,78.5 107.2,78.2 107.6,77.8 108.0,77.5 108.3,77.1 108.7,76.8 109.1,76.6 109.5,76.4 109.9,76.2 110.3,76.2 110.6,76.2 111.0,76.2 111.4,76.4 111.8,76.6 112.2,76.9 112.6,77.3 113.0,77.7 113.3,78.1 113.7,78.6 114.1,79.0 114.5,79.5 114.9,79.9 115.3,80.3 115.7,80.6 116.0,80.9 116.4,81.1 116.8,81.2 117.2,81.3 117.6,81.2 118.0,81.1 118.4,81.0 118.7,80.8 119.1,80.5 119.5,80.2 119.9,79.8 120.3,79.4 120.7,79.1 121.1,78.7 121.4,78.4 121.8,78.1 122.2,77.9 122.6,77.7 123.0,77.6 123.4,77.6 123.8,77.7 124.1,77.8 124.5,78.0 124.9,78.3 125.3,78.6 125.7,79.0 126.1,79.4 126.5,79.9 126.8,80.3 127.2,80.8 127.6,81.2 128.0,81.6 128.4,81.9 128.8,82.2 129.2,82.4 129.5,82.6 129.9,82.7 130.3,82.7 130.7,82.6 131.1,82.5 131.5,82.3 131.8,82.0 132.2,81.7 132.6,81.3 133.0,81.0 133.4,80.6 133.8,80.3 134.2,79.9 134.5,79.6 134.9,79.4 135.3,79.2 135.7,79.1 136.1,79.0 136.5,79.0 136.9,79.1 137.2,79.3 137.6,79.6 138.0,79.9 138.4,80.2 138.8,80.7 139.2,81.1 139.6,81.5 139.9,82.0 140.3,82.4 140.7,82.8 141.1,83.2 141.5,83.5 141.9,83.7 142.3,83.9 142.6,84.0 143.0,84.0 143.4,84.0 143.8,83.9 144.2,83.7 144.6,83.4 145.0,83.1 145.3,82.8 145.7,82.4 146.1,82.1 146.5,81.7 146.9,81.3 147.3,81.0 147.7,80.8 148.0,80.6 148.4,80.4 148.8,80.3 149.2,80.3 149.6,80.4 150.0,80.6 150.3,80.8 150.7,81.1 151.1,81.4 151.5,81.8 151.9,82.2 152.3,82.7 152.7,83.1 153.0,83.5 153.4,84.0 153.8,84.3 154.2,84.7 154.6,84.9 155.0,85.1 155.4,85.3 155.7,85.3 156.1,85.3 156.5,85.2 156.9,85.0 157.3,84.8 157.7,84.5 158.1,84.2 158.4,83.8 158.8,83.4 159.2,83.1 159.6,82.7 160.0,82.4 160.4,82.1 160.8,81.9 161.1,81.7 161.5,81.6 161.9,81.6 162.3,81.6 162.7,81.7 163.1,81.9 163.5,82.2 163.8,82.5 164.2,82.9 164.6,83.3 165.0,83.7 165.4,84.2 165.8,84.6 166.2,85.0 166.5,85.4 166.9,85.8 167.3,86.0 167.7,86.3 168.1,86.4 168.5,86.5 168.8,86.5 169.2,86.4 169.6,86.3 170.0,86.0 170.4,85.8 170.8,85.5 171.2,85.1 171.5,84.7 171.9,84.4 172.3,84.0 172.7,83.7 173.1,83.3 173.5,83.1 173.9,82.9 174.2,82.8 174.6,82.7 175.0,82.7 175.4,82.8 175.8,83.0 176.2,83.2 176.6,83.6 176.9,83.9 177.3,84.3 177.7,84.7 178.1,85.2 178.5,85.6 178.9,86.0 179.3,86.4 179.6,86.8 180.0,87.1 180.4,87.3 180.8,87.5 181.2,87.6 181.6,87.6 182.0,87.6 182.3,87.4 182.7,87.2 183.1,87.0 183.5,86.7 183.9,86.3 184.3,86.0 184.7,85.6 185.0,85.2 185.4,84.9 185.8,84.5 186.2,84.3 186.6,84.1 187.0,83.9 187.3,83.8 187.7,83.8 188.1,83.9 188.5,84.0 188.9,84.2 189.3,84.5 189.7,84.9 190.0,85.2 190.4,85.7 190.8,86.1 191.2,86.5 191.6,87.0 192.0,87.4 192.4,87.7 192.7,88.1 193.1,88.3 193.5,88.5 193.9,88.6 194.3,88.7 194.7,88.6 195.1,88.5 195.4,88.4 195.8,88.1 196.2,87.8 196.6,87.5 197.0,87.1 197.4,86.8 197.8,86.4 198.1,86.0 198.5,85.7 198.9,85.4 199.3,85.1 199.7,85.0 200.1,84.9 200.5,84.8 200.8,84.9 201.2,85.0 201.6,85.2 202.0,85.4 202.4,85.8 202.8,86.1 203.2,86.5 203.5,87.0 203.9,87.4 204.3,87.8 204.7,88.2 205.1,88.6 205.5,89.0 205.8,89.2 206.2,89.5 206.6,89.6 207.0,89.7 207.4,89.7 207.8,89.6 208.2,89.4 208.5,89.2 208.9,88.9 209.3,88.6 209.7,88.2 210.1,87.9 210.5,87.5 210.9,87.1 211.2,86.8 211.6,86.5 212.0,86.2 212.4,86.0 212.8,85.9 213.2,85.8 213.6,85.8 213.9,85.9 214.3,86.1 214.7,86.3 215.1,86.6 215.5,87.0 215.9,87.3 216.3,87.8 216.6,88.2 217.0,88.6 217.4,89.1 217.8,89.4 218.2,89.8 218.6,90.1 219.0,90.3 219.3,90.5 219.7,90.6 220.1,90.6 220.5,90.5 220.9,90.4 221.3,90.2 221.7,89.9 222.0,89.6 222.4,89.3 222.8,88.9 223.2,88.5 223.6,88.2 224.0,87.8 224.4,87.5 224.7,87.2 225.1,87.0 225.5,86.8 225.9,86.7 226.3,86.7 226.7,86.8 227.0,86.9 227.4,87.1 227.8,87.4 228.2,87.7 228.6,88.1 229.0,88.5 229.4,88.9 229.7,89.4 230.1,89.8 230.5,90.2 230.9,90.6 231.3,90.9 231.7,91.1 232.1,91.3 232.4,91.4 232.8,91.5 233.2,91.4 233.6,91.3 234.0,91.1 234.4,90.9 234.8,90.6 235.1,90.3 235.5,89.9 235.9,89.5 236.3,89.1 236.7,88.8 237.1,88.4 237.5,88.1 237.8,87.9 238.2,87.7 238.6,87.6 239.0,87.6 239.4,87.6 239.8,87.7 240.2,87.9 240.5,88.2 240.9,88.5 241.3,88.8 241.7,89.2 242.1,89.6 242.5,90.1 242.9,90.5 243.2,90.9 243.6,91.3 244.0,91.6 244.4,91.9 244.8,92.1 245.2,92.2 245.5,92.3 245.9,92.3 246.3,92.2 246.7,92.0 247.1,91.8 247.5,91.5 247.9,91.2 248.2,90.8 248.6,90.5 249.0,90.1 249.4,89.7 249.8,89.4 250.2,89.0 250.6,88.8 250.9,88.6 251.3,88.4 251.7,88.4 252.1,88.4 252.5,88.5 252.9,88.6 253.3,88.9 253.6,89.2 254.0,89.5 254.4,89.9 254.8,90.3 255.2,90.7 255.6,91.2 256.0,91.6 256.3,92.0 256.7,92.3 257.1,92.6 257.5,92.8 257.9,93.0 258.3,93.1 258.7,93.1 259.0,93.0 259.4,92.9 259.8,92.7 260.2,92.4 260.6,92.1 261.0,91.7 261.4,91.4 261.7,91.0 262.1,90.6 262.5,90.2 262.9,89.9 263.3,89.6 263.7,89.4 264.0,89.2 264.4,89.1 264.8,89.1 265.2,89.2 265.6,89.3 266.0,89.5 266.4,89.8 266.7,90.1 267.1,90.5 267.5,90.9 267.9,91.3 268.3,91.8 268.7,92.2 269.1,92.6 269.4,92.9 269.8,93.2 270.2,93.5 270.6,93.7 271.0,93.8 271.4,93.8 271.8,93.8 272.1,93.7 272.5,93.5 272.9,93.2 273.3,92.9 273.7,92.6 274.1,92.2 274.5,91.8 274.8,91.4 275.2,91.1 275.6,90.7 276.0,90.4 276.4,90.2 276.8,90.0 277.2,89.9 277.5,89.8 277.9,89.9 278.3,90.0 278.7,90.2 279.1,90.4 279.5,90.7 279.9,91.1 280.2,91.5 280.6,91.9 281.0,92.3 281.4,92.7 281.8,93.1 282.2,93.5 282.5,93.8 282.9,94.1 283.3,94.3 283.7,94.5 284.1,94.5 284.5,94.5 284.9,94.4 285.2,94.2 285.6,94.0 286.0,93.7 286.4,93.4 286.8,93.0 287.2,92.6 287.6,92.3 287.9,91.9 288.3,91.5 288.7,91.2 289.1,90.9 289.5,90.7 289.9,90.6 290.3,90.5 290.6,90.5 291.0,90.6 291.4,90.8 291.8,91.0 292.2,91.3 292.6,91.6 293.0,92.0 293.3,92.4 293.7,92.8 294.1,93.3 294.5,93.7 294.9,94.1 295.3,94.4 295.7,94.7 296.0,94.9 296.4,95.1 296.8,95.2 297.2,95.2 297.6,95.1 298.0,94.9 298.4,94.7 298.7,94.5 299.1,94.1 299.5,93.8 299.9,93.4 300.3,93.0 300.7,92.6 301.0,92.3 301.4,91.9 301.8,91.6 302.2,91.4 302.6,91.3 303.0,91.2 303.4,91.1 303.7,91.2 304.1,91.3 304.5,91.5 304.9,91.8 305.3,92.1 305.7,92.5 306.1,92.9 306.4,93.3 306.8,93.7 307.2,94.2 307.6,94.5 308.0,94.9 308.4,95.2 308.8,95.5 309.1,95.6 309.5,95.7 309.9,95.8 310.3,95.7 310.7,95.6 311.1,95.4 311.5,95.2 311.8,94.9 312.2,94.5 312.6,94.1 313.0,93.8 313.4,93.4 313.8,93.0 314.2,92.6 314.5,92.3 314.9,92.1 315.3,91.9 315.7,91.8 316.1,91.7 316.5,91.8 316.9,91.9 317.2,92.0 317.6,92.3 318.0,92.6 318.4,92.9 318.8,93.3 319.2,93.8 319.6,94.2 319.9,94.6 320.3,95.0 320.7,95.4 321.1,95.7 321.5,96.0 321.9,96.2 322.2,96.3 322.6,96.3 323.0,96.3 323.4,96.2 323.8,96.1 324.2,95.8 324.6,95.5 324.9,95.2 325.3,94.8 325.7,94.4 326.1,94.1 326.5,93.7 326.9,93.3 327.3,93.0 327.6,92.7 328.0,92.5 328.4,92.4 328.8,92.3 329.2,92.3 329.6,92.4 330.0,92.5 330.3,92.8 330.7,93.0 331.1,93.4 331.5,93.8 331.9,94.2 332.3,94.6 332.7,95.0 333.0,95.4 333.4,95.8 333.8,96.1 334.2,96.4 334.6,96.6 335.0,96.8 335.4,96.9 335.7,96.9 336.1,96.8 336.5,96.7 336.9,96.5 337.3,96.2 337.7,95.9 338.1,95.5 338.4,95.1 338.8,94.7 339.2,94.3 339.6,94.0 340.0,93.6 340.4,93.3 340.7,93.1 341.1,92.9 341.5,92.8 341.9,92.8 342.3,92.9 342.7,93.0 343.1,93.2 343.4,93.5 343.8,93.8 344.2,94.1 344.6,94.5 345.0,95.0 345.4,95.4 345.8,95.8 346.1,96.2 346.5,96.5 346.9,96.8 347.3,97.1 347.7,97.3 348.1,97.4 348.5,97.4 348.8,97.4 349.2,97.2 349.6,97.0 350.0,96.8 350.4,96.5 350.8,96.1 351.2,95.7 351.5,95.4 351.9,95.0 352.3,94.6 352.7,94.2 353.1,93.9 353.5,93.7 353.9,93.5 354.2,93.4 354.6,93.3 355.0,93.3 355.4,93.4 355.8,93.6 356.2,93.9 356.6,94.2 356.9,94.5 357.3,94.9 357.7,95.3 358.1,95.7 358.5,96.2 358.9,96.6 359.2,96.9 359.6,97.2 360.0,97.5 360.4,97.7 360.8,97.8 361.2,97.9 361.6,97.9 361.9,97.8 362.3,97.6 362.7,97.3 363.1,97.1 363.5,96.7 363.9,96.3 364.3,96.0 364.6,95.6 365.0,95.2 365.4,94.8 365.8,94.5 366.2,94.2 366.6,94.0 367.0,93.9 367.3,93.8 367.7,93.8 368.1,93.9 368.5,94.0 368.9,94.2 369.3,94.5 369.7,94.9 370.0,95.2 370.4,95.6 370.8,96.1 371.2,96.5 371.6,96.9 372.0,97.3 372.4,97.6 372.7,97.9 373.1,98.1 373.5,98.2 373.9,98.3 374.3,98.3 374.7,98.2 375.1,98.1 375.4,97.9 375.8,97.6 376.2,97.3 376.6,96.9 377.0,96.5 377.4,96.1 377.7,95.8 378.1,95.4 378.5,95.0 378.9,94.7 379.3,94.5 379.7,94.3 380.1,94.2 380.4,94.2 380.8,94.3 381.2,94.4 381.6,94.6 382.0,94.8 382.4,95.2 382.8,95.5 383.1,95.9 383.5,96.3 383.9,96.8 384.3,97.2 384.7,97.6 385.1,97.9 385.5,98.2 385.8,98.5 386.2,98.6 386.6,98.7 387.0,98.8 387.4,98.7 387.8,98.6 388.2,98.4 388.5,98.1 388.9,97.8 389.3,97.5 389.7,97.1 390.1,96.7 390.5,96.3 390.9,95.9 391.2,95.6 391.6,95.3 392.0,95.0 392.4,94.8 392.8,94.7 393.2,94.6 393.6,94.6 393.9,94.7 394.3,94.9 394.7,95.2 395.1,95.5 395.5,95.8 395.9,96.2 396.2,96.6 396.6,97.0 397.0,97.4 397.4,97.8 397.8,98.2 398.2,98.5 398.6,98.8 398.9,99.0 399.3,99.1 399.7,99.2 400.1,99.1 400.5,99.0 400.9,98.9 401.3,98.6 401.6,98.3 402.0,98.0 402.4,97.6 402.8,97.2 403.2,96.8 403.6,96.4 404.0,96.1 404.3,95.7 404.7,95.5 405.1,95.2 405.5,95.1 405.9,95.0 406.3,95.0 406.7,95.1 407.0,95.2 407.4,95.5 407.8,95.7 408.2,96.1 408.6,96.5 409.0,96.9 409.4,97.3 409.7,97.7 410.1,98.1 410.5,98.5 410.9,98.8 411.3,99.1 411.7,99.3 412.1,99.5 412.4,99.5 412.8,99.5 413.2,99.4 413.6,99.3 414.0,99.1 414.4,98.8 414.8,98.5 415.1,98.1 415.5,97.7 415.9,97.3 416.3,96.9 416.7,96.6 417.1,96.2 417.4,95.9 417.8,95.7 418.2,95.5 418.6,95.4 419.0,95.4 419.4,95.4 419.8,95.5 420.1,95.7 420.5,96.0 420.9,96.3 421.3,96.7 421.7,97.1 422.1,97.5 422.5,97.9 422.8,98.3 423.2,98.7 423.6,99.1 424.0,99.4 424.4,99.6 424.8,99.8 425.2,99.9 425.5,99.9 425.9,99.8 426.3,99.7 426.7,99.5 427.1,99.2 427.5,98.9 427.9,98.6 428.2,98.2 428.6,97.8 429.0,97.4 429.4,97.0 429.8,96.7 430.2,96.4 430.6,96.1 430.9,95.9 431.3,95.8 431.7,95.7 432.1,95.7 432.5,95.8 432.9,96.0 433.3,96.3 433.6,96.6 434.0,96.9 434.4,97.3 434.8,97.7 435.2,98.1 435.6,98.5 435.9,98.9 436.3,99.3 436.7,99.6 437.1,99.9 437.5,100.0 437.9,100.2 438.3,100.2 438.6,100.2 439.0,100.1 439.4,99.9 439.8,99.7 440.2,99.4 440.6,99.0 441.0,98.7 441.3,98.3 441.7,97.9 442.1,97.5 442.5,97.1 442.9,96.8 443.3,96.5 443.7,96.3 444.0,96.1 444.4,96.1 444.8,96.1 445.2,96.1 445.6,96.3 446.0,96.5 446.4,96.8 446.7,97.1 447.1,97.5 447.5,97.9 447.9,98.3 448.3,98.7 448.7,99.1 449.1,99.5 449.4,99.8 449.8,100.1 450.2,100.3 450.6,100.5 451.0,100.5 451.4,100.5 451.8,100.4 452.1,100.3 452.5,100.1 452.9,99.8 453.3,99.5 453.7,99.1 454.1,98.7 454.4,98.3 454.8,97.9 455.2,97.5 455.6,97.2 456.0,96.9 456.4,96.7 456.8,96.5 457.1,96.4 457.5,96.3 457.9,96.4 458.3,96.5 458.7,96.7 459.1,97.0 459.5,97.3 459.8,97.6 460.2,98.0 460.6,98.5 461.0,98.9 461.4,99.3 461.8,99.7 462.2,100.0 462.5,100.3 462.9,100.5 463.3,100.7 463.7,100.8 464.1,100.8 464.5,100.8 464.9,100.6 465.2,100.4 465.6,100.2 466.0,99.9 466.4,99.5 466.8,99.1 467.2,98.7 467.6,98.3 467.9,98.0 468.3,97.6 468.7,97.3 469.1,97.0 469.5,96.8 469.9,96.7 470.3,96.6 470.6,96.7 471.0,96.8 471.4,96.9 471.8,97.2 472.2,97.5 472.6,97.8 472.9,98.2 473.3,98.6 473.7,99.0 474.1,99.4 474.5,99.8 474.9,100.2 475.3,100.5 475.6,100.7 476.0,100.9 476.4,101.1 476.8,101.1 477.2,101.1 477.6,101.0 478.0,100.8 478.3,100.6 478.7,100.3 479.1,99.9 479.5,99.5 479.9,99.1 480.3,98.7 480.7,98.3 481.0,98.0 481.4,97.7 481.8,97.4 482.2,97.2 482.6,97.0 483.0,96.9 483.4,96.9 483.7,97.0 484.1,97.1 484.5,97.3 484.9,97.6 485.3,98.0 485.7,98.3 486.1,98.7 486.4,99.1 486.8,99.6 487.2,100.0 487.6,100.3 488.0,100.7 488.4,100.9 488.8,101.1 489.1,101.3 489.5,101.4 489.9,101.4 490.3,101.3 490.7,101.1 491.1,100.9 491.4,100.6 491.8,100.3 492.2,99.9 492.6,99.5 493.0,99.1 493.4,98.7 493.8,98.4 494.1,98.0 494.5,97.7 494.9,97.5 495.3,97.3 495.7,97.2 496.1,97.2 496.5,97.2 496.8,97.3 497.2,97.5 497.6,97.8 498.0,98.1 498.4,98.4 498.8,98.8 499.2,99.2 499.5,99.7 499.9,100.1 500.3,100.5 500.7,100.8 501.1,101.1 501.5,101.3 501.9,101.5 502.2,101.6 502.6,101.6 503.0,101.6 503.4,101.4 503.8,101.2 504.2,101.0 504.6,100.6 504.9,100.3 505.3,99.9 505.7,99.5 506.1,99.1 506.5,98.7 506.9,98.4 507.3,98.0 507.6,97.8 508.0,97.6 508.4,97.5 508.8,97.4 509.2,97.4 509.6,97.5 510.0,97.7 510.3,97.9 510.7,98.2 511.1,98.6 511.5,98.9 511.9,99.3 512.3,99.8 512.6,100.2 513.0,100.6 513.4,100.9 513.8,101.2 514.2,101.5 514.6,101.7 515.0,101.8 515.3,101.8 515.7,101.8 516.1,101.7 516.5,101.5 516.9,101.3 517.3,101.0 517.7,100.6 518.0,100.3 518.4,99.9 518.8,99.5 519.2,99.1 519.6,98.7 520.0,98.4 520.4,98.1 520.7,97.9 521.1,97.7 521.5,97.6 521.9,97.6 522.3,97.7 522.7,97.8 523.1,98.1 523.4,98.3 523.8,98.7 524.2,99.0 524.6,99.4 525.0,99.8 525.4,100.3 525.8,100.7 526.1,101.0 526.5,101.4 526.9,101.6 527.3,101.8 527.7,102.0 528.1,102.1 528.5,102.1 528.8,102.0 529.2,101.8 529.6,101.6 530.0,101.3 530.4,101.0 530.8,100.6 531.1,100.2 531.5,99.8 531.9,99.4 532.3,99.0 532.7,98.7 533.1,98.4 533.5,98.2 533.8,98.0 534.2,97.9 534.6,97.8 535.0,97.9 535.4,98.0 535.8,98.2 536.2,98.4 536.5,98.8 536.9,99.1 537.3,99.5 537.7,99.9 538.1,100.3 538.5,100.7"/>
<polyline fill="none" stroke="#22cc22" stroke-width="2.00" points="24.7,46.7 25.2,47.0 25.7,47.2 26.2,47.4 26.8,47.5 27.3,47.7 27.8,47.8 28.3,47.8 28.8,47.9 29.3,47.9 29.8,47.9 30.4,47.8 30.9,47.8 31.4,47.8 31.9,47.8 32.4,47.8 32.9,47.9 33.4,47.9 34.0,48.1 34.5,48.2 35.0,48.4 35.5,48.6 36.0,48.8 36.5,49.0 37.0,49.3 37.5,49.5 38.1,49.8 38.6,50.0 39.1,50.2 39.6,50.3 40.1,50.4 40.6,50.5 41.1,50.6 41.7,50.6 42.2,50.6 42.7,50.6 43.2,50.6 43.7,50.6 44.2,50.5 44.7,50.5 45.3,50.5 45.8,50.6 46.3,50.6 46.8,50.7 47.3,50.9 47.8,51.1 48.3,51.3 48.9,51.5 49.4,51.7 49.9,51.9 50.4,52.2 50.9,52.4 51.4,52.6 51.9,52.8 52.5,53.0 53.0,53.1 53.5,53.2 54.0,53.2 54.5,53.2 55.0,53.2 55.5,53.2 56.0,53.2 56.6,53.1 57.1,53.1 57.6,53.1 58.1,53.1 58.6,53.1 59.1,53.2 59.6,53.3 60.2,53.4 60.7,53.6 61.2,53.8 61.7,54.0 62.2,54.2 62.7,54.5 63.2,54.7 63.8,54.9 64.3,55.1 64.8,55.3 65.3,55.4 65.8,55.5 66.3,55.6 66.8,55.7 67.4,55.7 67.9,55.7 68.4,55.7 68.9,55.6 69.4,55.6 69.9,55.5 70.4,55.5 71.0,55.5 71.5,55.6 72.0,55.6 72.5,55.7 73.0,55.8 73.5,56.0 74.0,56.2 74.5,56.4 75.1,56.6 75.6,56.8 76.1,57.1 76.6,57.3 77.1,57.5 77.6,57.6 78.1,57.8 78.7,57.9 79.2,58.0 79.7,58.0 80.2,58.0 80.7,58.0 81.2,58.0 81.7,57.9 82.3,57.9 82.8,57.8 83.3,57.8 83.8,57.8 84.3,57.8 84.8,57.9 85.3,58.0 85.9,58.1 86.4,58.3 86.9,58.4 87.4,58.6 87.9,58.9 88.4,59.1 88.9,59.3 89.5,59.5 90.0,59.7 90.5,59.9 91.0,60.0 91.5,60.1 92.0,60.2 92.5,60.2 93.0,60.2 93.6,60.2 94.1,60.2 94.6,60.1 95.1,60.1 95.6,60.0 96.1,60.0 96.6,60.0 97.2,60.0 97.7,60.0 98.2,60.1 98.7,60.2 99.2,60.4 99.7,60.6 100.2,60.8 100.8,61.0 101.3,61.2 101.8,61.4 102.3,61.6 102.8,61.8 103.3,62.0 103.8,62.1 104.4,62.2 104.9,62.3 105.4,62.3 105.9,62.3 106.4,62.3 106.9,62.2 107.4,62.2 108.0,62.1 108.5,62.1 109.0,62.0 109.5,62.0 110.0,62.0 110.5,62.1 111.0,62.1 111.5,62.3 112.1,62.4 112.6,62.6 113.1,62.8 113.6,63.0 114.1,63.2 114.6,63.4 115.1,63.6 115.7,63.8 116.2,63.9 116.7,64.1 117.2,64.2 117.7,64.2 118.2,64.2 118.7,64.2 119.3,64.2 119.8,64.2 120.3,64.1 120.8,64.1 121.3,64.0 121.8,64.0 122.3,63.9 122.9,63.9 123.4,64.0 123.9,64.1 124.4,64.2 124.9,64.3 125.4,64.5 125.9,64.7 126.5,64.9 127.0,65.1 127.5,65.3 128.0,65.5 128.5,65.7 129.0,65.8 129.5,65.9 130.0,66.0 130.6,66.1 131.1,66.1 131.6,66.1 132.1,66.1 132.6,66.0 133.1,65.9 133.6,65.9 134.2,65.8 134.7,65.8 135.2,65.8 135.7,65.8 136.2,65.8 136.7,65.9 137.2,66.0 137.8,66.1 138.3,66.3 138.8,66.5 139.3,66.7 139.8,66.9 140.3,67.1 140.8,67.3 141.4,67.4 141.9,67.6 142.4,67.7 142.9,67.8 143.4,67.8 143.9,67.9 144.4,67.8 145.0,67.8 145.5,67.8 146.0,67.7 146.5,67.6 147.0,67.6 147.5,67.5 148.0,67.5 148.5,67.5 149.1,67.5 149.6,67.6 150.1,67.7 150.6,67.8 151.1,68.0 151.6,68.2 152.1,68.3 152.7,68.5 153.2,68.7 153.7,68.9 154.2,69.1 154.7,69.3 155.2,69.4 155.7,69.4 156.3,69.5 156.8,69.5 157.3,69.5 157.8,69.5 158.3,69.4 158.8,69.3 159.3,69.3 159.9,69.2 160.4,69.1 160.9,69.1 161.4,69.1 161.9,69.1 162.4,69.2 162.9,69.3 163.5,69.4 164.0,69.6 164.5,69.8 165.0,69.9 165.5,70.1 166.0,70.3 166.5,70.5 167.1,70.7 167.6,70.8 168.1,70.9 168.6,71.0 169.1,71.1 169.6,71.1 170.1,71.1 170.6,71.0 171.2,70.9 171.7,70.9 172.2,70.8 172.7,70.7 173.2,70.7 173.7,70.6 174.2,70.6 174.8,70.7 175.3,70.7 175.8,70.8 176.3,70.9 176.8,71.1 177.3,71.3 177.8,71.4 178.4,71.6 178.9,71.8 179.4,72.0 179.9,72.2 180.4,72.3 180.9,72.4 181.4,72.5 182.0,72.5 182.5,72.5 183.0,72.5 183.5,72.5 184.0,72.4 184.5,72.3 185.0,72.3 185.6,72.2 186.1,72.1 186.6,72.1 187.1,72.1 187.6,72.1 188.1,72.2 188.6,72.2 189.1,72.4 189.7,72.5 190.2,72.7 190.7,72.9 191.2,73.1 191.7,73.2 192.2,73.4 192.7,73.6 193.3,73.7 193.8,73.8 194.3,73.9 194.8,73.9 195.3,73.9 195.8,73.9 196.3,73.9 196.9,73.8 197.4,73.7 197.9,73.6 198.4,73.6 198.9,73.5 199.4,73.5 199.9,73.4 200.5,73.5 201.0,73.5 201.5,73.6 202.0,73.7 202.5,73.9 203.0,74.0 203.5,74.2 204.1,74.4 204.6,74.6 205.1,74.8 205.6,74.9 206.1,75.1 206.6,75.2 207.1,75.2 207.6,75.3 208.2,75.3 208.7,75.2 209.2,75.2 209.7,75.1 210.2,75.0 210.7,74.9 211.2,74.9 211.8,74.8 212.3,74.7 212.8,74.7 213.3,74.7 213.8,74.8 214.3,74.9 214.8,75.0 215.4,75.1 215.9,75.3 216.4,75.5 216.9,75.7 217.4,75.9 217.9,76.0 218.4,76.2 219.0,76.3 219.5,76.4 220.0,76.5 220.5,76.5 221.0,76.5 221.5,76.5 222.0,76.4 222.6,76.3 223.1,76.2 223.6,76.2 224.1,76.1 224.6,76.0 225.1,76.0 225.6,75.9 226.1,76.0 226.7,76.0 227.2,76.1 227.7,76.2 228.2,76.3 228.7,76.5 229.2,76.7 229.7,76.9 230.3,77.0 230.8,77.2 231.3,77.4 231.8,77.5 232.3,77.6 232.8,77.6 233.3,77.7 233.9,77.7 234.4,77.6 234.9,77.6 235.4,77.5 235.9,77.4 236.4,77.3 236.9,77.2 237.5,77.2 238.0,77.1 238.5,77.1 239.0,77.1 239.5,77.2 240.0,77.2 240.5,77.3 241.1,77.5 241.6,77.6 242.1,77.8 242.6,78.0 243.1,78.2 243.6,78.3 244.1,78.5 244.6,78.6 245.2,78.7 245.7,78.8 246.2,78.8 246.7,78.8 247.2,78.7 247.7,78.7 248.2,78.6 248.8,78.5 249.3,78.4 249.8,78.3 250.3,78.3 250.8,78.2 251.3,78.2 251.8,78.2 252.4,78.2 252.9,78.3 253.4,78.4 253.9,78.6 254.4,78.7 254.9,78.9 255.4,79.1 256.0,79.2 256.5,79.4 257.0,79.5 257.5,79.7 258.0,79.8 258.5,79.8 259.0,79.8 259.6,79.8 260.1,79.8 260.6,79.7 261.1,79.6 261.6,79.5 262.1,79.5 262.6,79.4 263.1,79.3 263.7,79.2 264.2,79.2 264.7,79.2 265.2,79.3 265.7,79.3 266.2,79.4 266.7,79.6 267.3,79.7 267.8,79.9 268.3,80.1 268.8,80.2 269.3,80.4 269.8,80.5 270.3,80.7 270.9,80.8 271.4,80.8 271.9,80.8 272.4,80.8 272.9,80.8 273.4,80.7 273.9,80.6 274.5,80.5 275.0,80.4 275.5,80.3 276.0,80.3 276.5,80.2 277.0,80.2 277.5,80.2 278.1,80.2 278.6,80.3 279.1,80.4 279.6,80.5 280.1,80.7 280.6,80.8 281.1,81.0 281.6,81.2 282.2,81.3 282.7,81.5 283.2,81.6 283.7,81.7 284.2,81.7 284.7,81.8 285.2,81.8 285.8,81.7 286.3,81.6 286.8,81.6 287.3,81.5 287.8,81.4 288.3,81.3 288.8,81.2 289.4,81.1 289.9,81.1 290.4,81.1 290.9,81.1 291.4,81.2 291.9,81.3 292.4,81.4 293.0,81.6 293.5,81.7 294.0,81.9 294.5,82.1 295.0,82.2 295.5,82.4 296.0,82.5 296.6,82.6 297.1,82.6 297.6,82.6 298.1,82.6 298.6,82.6 299.1,82.5 299.6,82.4 300.2,82.3 300.7,82.2 301.2,82.1 301.7,82.1 302.2,82.0 302.7,82.0 303.2,82.0 303.7,82.0 304.3,82.1 304.8,82.2 305.3,82.3 305.8,82.4 306.3,82.6 306.8,82.8 307.3,82.9 307.9,83.1 308.4,83.2 308.9,83.3 309.4,83.4 309.9,83.5 310.4,83.5 310.9,83.5 311.5,83.4 312.0,83.3 312.5,83.3 313.0,83.2 313.5,83.1 314.0,83.0 314.5,82.9 315.1,82.8 315.6,82.8 316.1,82.8 316.6,82.8 317.1,82.9 317.6,83.0 318.1,83.1 318.7,83.2 319.2,83.4 319.7,83.6 320.2,83.7 320.7,83.9 321.2,84.0 321.7,84.1 322.2,84.2 322.8,84.3 323.3,84.3 323.8,84.3 324.3,84.2 324.8,84.1 325.3,84.0 325.8,83.9 326.4,83.8 326.9,83.7 327.4,83.6 327.9,83.6 328.4,83.5 328.9,83.5 329.4,83.6 330.0,83.6 330.5,83.7 331.0,83.9 331.5,84.0 332.0,84.2 332.5,84.3 333.0,84.5 333.6,84.6 334.1,84.8 334.6,84.9 335.1,85.0 335.6,85.0 336.1,85.0 336.6,85.0 337.2,84.9 337.7,84.9 338.2,84.8 338.7,84.7 339.2,84.6 339.7,84.5 340.2,84.4 340.7,84.3 341.3,84.3 341.8,84.3 342.3,84.3 342.8,84.4 343.3,84.5 343.8,84.6 344.3,84.7 344.9,84.9 345.4,85.0 345.9,85.2 346.4,85.3 346.9,85.5 347.4,85.6 347.9,85.7 348.5,85.7 349.0,85.7 349.5,85.7 350.0,85.6 350.5,85.6 351.0,85.5 351.5,85.4 352.1,85.3 352.6,85.2 353.1,85.1 353.6,85.0 354.1,85.0 354.6,85.0 355.1,85.0 355.7,85.0 356.2,85.1 356.7,85.3 357.2,85.4 357.7,85.6 358.2,85.7 358.7,85.9 359.2,86.0 359.8,86.2 360.3,86.3 360.8,86.3 361.3,86.4 361.8,86.4 362.3,86.4 362.8,86.3 363.4,86.2 363.9,86.1 364.4,86.0 364.9,85.9 365.4,85.8 365.9,85.7 366.4,85.7 367.0,85.6 367.5,85.6 368.0,85.6 368.5,85.7 369.0,85.8 369.5,85.9 370.0,86.0 370.6,86.2 371.1,86.4 371.6,86.5 372.1,86.7 372.6,86.8 373.1,86.9 373.6,87.0 374.2,87.0 374.7,87.0 375.2,87.0 375.7,86.9 376.2,86.9 376.7,86.8 377.2,86.6 377.7,86.5 378.3,86.4 378.8,86.3 379.3,86.3 379.8,86.2 380.3,86.2 380.8,86.2 381.3,86.3 381.9,86.4 382.4,86.5 382.9,86.6 383.4,86.8 383.9,87.0 384.4,87.1 384.9,87.3 385.5,87.4 386.0,87.5 386.5,87.6 387.0,87.6 387.5,87.6 388.0,87.6 388.5,87.5 389.1,87.4 389.6,87.3 390.1,87.2 390.6,87.1 391.1,87.0 391.6,86.9 392.1,86.8 392.7,86.8 393.2,86.8 393.7,86.8 394.2,86.9 394.7,87.0 395.2,87.1 395.7,87.2 396.2,87.4 396.8,87.5 397.3,87.7 397.8,87.8 398.3,87.9 398.8,88.1 399.3,88.1 399.8,88.2 400.4,88.2 400.9,88.1 401.4,88.1 401.9,88.0 402.4,87.9 402.9,87.8 403.4,87.7 404.0,87.6 404.5,87.5 405.0,87.4 405.5,87.4 406.0,87.3 406.5,87.4 407.0,87.4 407.6,87.5 408.1,87.6 408.6,87.8 409.1,87.9 409.6,88.1 410.1,88.2 410.6,88.4 411.2,88.5 411.7,88.6 412.2,88.7 412.7,88.7 413.2,88.7 413.7,88.7 414.2,88.6 414.8,88.5 415.3,88.4 415.8,88.3 416.3,88.2 416.8,88.1 417.3,88.0 417.8,87.9 418.3,87.9 418.9,87.9 419.4,87.9 419.9,87.9 420.4,88.0 420.9,88.1 421.4,88.3 421.9,88.4 422.5,88.6 423.0,88.7 423.5,88.9 424.0,89.0 424.5,89.1 425.0,89.2 425.5,89.2 426.1,89.2 426.6,89.2 427.1,89.1 427.6,89.0 428.1,88.9 428.6,88.8 429.1,88.7 429.7,88.6 430.2,88.5 430.7,88.4 431.2,88.4 431.7,88.3 432.2,88.4 432.7,88.4 433.3,88.5 433.8,88.6 434.3,88.7 434.8,88.9 435.3,89.0 435.8,89.2 436.3,89.3 436.8,89.5 437.4,89.6 437.9,89.6 438.4,89.7 438.9,89.7 439.4,89.6 439.9,89.6 440.4,89.5 441.0,89.4 441.5,89.3 442.0,89.1 442.5,89.0 443.0,88.9 443.5,88.9 444.0,88.8 444.6,88.8 445.1,88.8 445.6,88.9 446.1,89.0 446.6,89.1 447.1,89.2 447.6,89.3 448.2,89.5 448.7,89.6 449.2,89.8 449.7,89.9 450.2,90.0 450.7,90.1 451.2,90.1 451.8,90.1 452.3,90.1 452.8,90.0 453.3,89.9 453.8,89.8 454.3,89.7 454.8,89.6 455.3,89.5 455.9,89.4 456.4,89.3 456.9,89.3 457.4,89.2 457.9,89.3 458.4,89.3 458.9,89.4 459.5,89.5 460.0,89.6 460.5,89.8 461.0,89.9 461.5,90.1 462.0,90.2 462.5,90.3 463.1,90.4 463.6,90.5 464.1,90.5 464.6,90.5 465.1,90.5 465.6,90.4 466.1,90.3 466.7,90.2 467.2,90.1 467.7,90.0 468.2,89.9 468.7,89.8 469.2,89.7 469.7,89.7 470.3,89.6 470.8,89.7 471.3,89.7 471.8,89.8 472.3,89.9 472.8,90.0 473.3,90.2 473.8,90.3 474.4,90.5 474.9,90.6 475.4,90.7 475.9,90.8 476.4,90.9 476.9,90.9 477.4,90.9 478.0,90.9 478.5,90.8 479.0,90.7 479.5,90.6 480.0,90.5 480.5,90.4 481.0,90.3 481.6,90.2 482.1,90.1 482.6,90.1 483.1,90.0 483.6,90.0 484.1,90.1 484.6,90.2 485.2,90.3 485.7,90.4 486.2,90.6 486.7,90.7 487.2,90.9 487.7,91.0 488.2,91.1 488.8,91.2 489.3,91.3 489.8,91.3 490.3,91.3 490.8,91.3 491.3,91.2 491.8,91.1 492.3,91.0 492.9,90.9 493.4,90.8 493.9,90.6 494.4,90.5 494.9,90.5 495.4,90.4 495.9,90.4 496.5,90.4 497.0,90.5 497.5,90.5 498.0,90.6 498.5,90.8 499.0,90.9 499.5,91.1 500.1,91.2 500.6,91.4 501.1,91.5 501.6,91.6 502.1,91.6 502.6,91.7 503.1,91.7 503.7,91.6 504.2,91.6 504.7,91.5 505.2,91.4 505.7,91.2 506.2,91.1 506.7,91.0 507.3,90.9 507.8,90.8 508.3,90.8 508.8,90.7 509.3,90.8 509.8,90.8 510.3,90.9 510.8,91.0 511.4,91.1 511.9,91.3 512.4,91.4 512.9,91.6 513.4,91.7 513.9,91.8 514.4,91.9 515.0,92.0 515.5,92.0 516.0,92.0 516.5,92.0 517.0,91.9 517.5,91.8 518.0,91.7 518.6,91.6 519.1,91.4 519.6,91.3 520.1,91.2 520.6,91.1 521.1,91.1 521.6,91.1 522.2,91.1 522.7,91.1 523.2,91.2 523.7,91.3 524.2,91.4 524.7,91.6 525.2,91.7 525.8,91.9 526.3,92.0 526.8,92.1 527.3,92.2 527.8,92.3 528.3,92.3 528.8,92.3 529.3,92.3 529.9,92.2 530.4,92.1 530.9,92.0 531.4,91.9 531.9,91.8 532.4,91.6 532.9,91.5 533.5,91.5 534.0,91.4 534.5,91.4 535.0,91.4 535.5,91.4 536.0,91.5 536.5,91.6 537.1,91.7 537.6,91.9 538.1,92.0 538.6,92.2"/>
<line x1="24.70" y1="9.60" x2="24.70" y2="155.80" stroke="#858585" stroke-width="1.1"/>
<line x1="538.60" y1="9.60" x2="538.60" y2="155.80" stroke="#858585" stroke-width="1.1"/>
<line x1="24.20" y1="10.40" x2="539.10" y2="10.40" stroke="#787878" stroke-width="1.3"/>
<line x1="24.20" y1="155.00" x2="539.10" y2="155.00" stroke="#787878" stroke-width="1.6"/>
<rect x="467.50" y="10.50" width="71.50" height="39.50" fill="#fff" stroke="#444" stroke-width="1.0"/>
<line x1="469.30" y1="16.30" x2="483.00" y2="16.30" stroke="#12127c" stroke-width="2.0"/>
<text x="0.00" y="0.00" font-size="7.6" transform="translate(484.50 19.10) scale(0.685 1) translate(0.00 0.00)" fill="#000" stroke="#000" stroke-width="0.22">T_air_inside_container</text>
<line x1="469.30" y1="25.80" x2="483.00" y2="25.80" stroke="#c490c4" stroke-width="2.0"/>
<text x="0.00" y="0.00" font-size="7.6" transform="translate(484.50 28.60) scale(0.685 1) translate(0.00 0.00)" fill="#000" stroke="#000" stroke-width="0.22">Tair</text>
<line x1="469.30" y1="35.00" x2="483.00" y2="35.00" stroke="#b02020" stroke-width="2.0"/>
<text x="0.00" y="0.00" font-size="7.6" transform="translate(484.50 37.80) scale(0.685 1) translate(0.00 0.00)" fill="#000" stroke="#000" stroke-width="0.22">Ttank</text>
<line x1="469.30" y1="44.30" x2="483.00" y2="44.30" stroke="#22cc22" stroke-width="2.0"/>
<text x="0.00" y="0.00" font-size="7.6" transform="translate(484.50 47.10) scale(0.685 1) translate(0.00 0.00)" fill="#000" stroke="#000" stroke-width="0.22">Tstack</text>
<text font-size="8.0" text-anchor="middle" fill="#222" stroke="#222" stroke-width="0.1" transform="translate(24.70 164.60) scale(0.64 1)">0</text>
<text font-size="8.0" text-anchor="middle" fill="#222" stroke="#222" stroke-width="0.1" transform="translate(88.94 164.60) scale(0.64 1)">5</text>
<text font-size="8.0" text-anchor="middle" fill="#222" stroke="#222" stroke-width="0.1" transform="translate(153.17 164.60) scale(0.64 1)">10</text>
<text font-size="8.0" text-anchor="middle" fill="#222" stroke="#222" stroke-width="0.1" transform="translate(217.41 164.60) scale(0.64 1)">15</text>
<text font-size="8.0" text-anchor="middle" fill="#222" stroke="#222" stroke-width="0.1" transform="translate(281.65 164.60) scale(0.64 1)">20</text>
<text font-size="8.0" text-anchor="middle" fill="#222" stroke="#222" stroke-width="0.1" transform="translate(345.89 164.60) scale(0.64 1)">25</text>
<text font-size="8.0" text-anchor="middle" fill="#222" stroke="#222" stroke-width="0.1" transform="translate(410.12 164.60) scale(0.64 1)">30</text>
<text font-size="8.0" text-anchor="middle" fill="#222" stroke="#222" stroke-width="0.1" transform="translate(474.36 164.60) scale(0.64 1)">35</text>
<text font-size="8.0" text-anchor="middle" fill="#222" stroke="#222" stroke-width="0.1" transform="translate(538.60 164.60) scale(0.64 1)">40</text>
<text font-size="8.0" text-anchor="end" fill="#222" stroke="#222" stroke-width="0.1" transform="translate(22.40 157.85) scale(0.66 1)">-40</text>
<text font-size="8.0" text-anchor="end" fill="#222" stroke="#222" stroke-width="0.1" transform="translate(22.40 139.78) scale(0.66 1)">-30</text>
<text font-size="8.0" text-anchor="end" fill="#222" stroke="#222" stroke-width="0.1" transform="translate(22.40 121.70) scale(0.66 1)">-20</text>
<text font-size="8.0" text-anchor="end" fill="#222" stroke="#222" stroke-width="0.1" transform="translate(22.40 103.62) scale(0.66 1)">-10</text>
<text font-size="8.0" text-anchor="end" fill="#222" stroke="#222" stroke-width="0.1" transform="translate(22.40 85.55) scale(0.66 1)">0</text>
<text font-size="8.0" text-anchor="end" fill="#222" stroke="#222" stroke-width="0.1" transform="translate(22.40 67.47) scale(0.66 1)">10</text>
<text font-size="8.0" text-anchor="end" fill="#222" stroke="#222" stroke-width="0.1" transform="translate(22.40 49.40) scale(0.66 1)">20</text>
<text font-size="8.0" text-anchor="end" fill="#222" stroke="#222" stroke-width="0.1" transform="translate(22.40 31.33) scale(0.66 1)">30</text>
<text font-size="8.0" text-anchor="end" fill="#222" stroke="#222" stroke-width="0.1" transform="translate(22.40 13.25) scale(0.66 1)">40</text>
<text font-size="8.4" text-anchor="middle" fill="#111" stroke="#111" stroke-width="0.15" transform="translate(281.65 175.50) scale(0.755 1)">Time (days)</text>
<text font-size="5.9" font-weight="bold" text-anchor="middle" fill="#1a1a1a" transform="translate(12.20 82.70) rotate(-90) scale(1.550 1)">Temperature response °C</text>
<line x1="88.14" y1="201.30" x2="88.14" y2="350.20" stroke="#b4b4b4" stroke-width="1"/>
<line x1="152.78" y1="201.30" x2="152.78" y2="350.20" stroke="#b4b4b4" stroke-width="1"/>
<line x1="217.41" y1="201.30" x2="217.41" y2="350.20" stroke="#b4b4b4" stroke-width="1"/>
<line x1="282.05" y1="201.30" x2="282.05" y2="350.20" stroke="#b4b4b4" stroke-width="1"/>
<line x1="346.69" y1="201.30" x2="346.69" y2="350.20" stroke="#b4b4b4" stroke-width="1"/>
<line x1="411.32" y1="201.30" x2="411.32" y2="350.20" stroke="#b4b4b4" stroke-width="1"/>
<line x1="475.96" y1="201.30" x2="475.96" y2="350.20" stroke="#b4b4b4" stroke-width="1"/>
<line x1="23.50" y1="331.59" x2="540.60" y2="331.59" stroke="#a6a6a6" stroke-width="1"/>
<line x1="23.50" y1="312.98" x2="540.60" y2="312.98" stroke="#a6a6a6" stroke-width="1"/>
<line x1="23.50" y1="294.36" x2="540.60" y2="294.36" stroke="#a6a6a6" stroke-width="1"/>
<line x1="23.50" y1="275.75" x2="540.60" y2="275.75" stroke="#a6a6a6" stroke-width="1"/>
<line x1="23.50" y1="257.14" x2="540.60" y2="257.14" stroke="#a6a6a6" stroke-width="1"/>
<line x1="23.50" y1="238.53" x2="540.60" y2="238.53" stroke="#a6a6a6" stroke-width="1"/>
<line x1="23.50" y1="219.91" x2="540.60" y2="219.91" stroke="#a6a6a6" stroke-width="1"/>
<line x1="23.50" y1="350.20" x2="23.50" y2="342.70" stroke="#787878" stroke-width="1"/>
<line x1="23.50" y1="201.30" x2="23.50" y2="208.80" stroke="#787878" stroke-width="1"/>
<line x1="88.14" y1="350.20" x2="88.14" y2="342.70" stroke="#787878" stroke-width="1"/>
<line x1="88.14" y1="201.30" x2="88.14" y2="208.80" stroke="#787878" stroke-width="1"/>
<line x1="152.78" y1="350.20" x2="152.78" y2="342.70" stroke="#787878" stroke-width="1"/>
<line x1="152.78" y1="201.30" x2="152.78" y2="208.80" stroke="#787878" stroke-width="1"/>
<line x1="217.41" y1="350.20" x2="217.41" y2="342.70" stroke="#787878" stroke-width="1"/>
<line x1="217.41" y1="201.30" x2="217.41" y2="208.80" stroke="#787878" stroke-width="1"/>
<line x1="282.05" y1="350.20" x2="282.05" y2="342.70" stroke="#787878" stroke-width="1"/>
<line x1="282.05" y1="201.30" x2="282.05" y2="208.80" stroke="#787878" stroke-width="1"/>
<line x1="346.69" y1="350.20" x2="346.69" y2="342.70" stroke="#787878" stroke-width="1"/>
<line x1="346.69" y1="201.30" x2="346.69" y2="208.80" stroke="#787878" stroke-width="1"/>
<line x1="411.32" y1="350.20" x2="411.32" y2="342.70" stroke="#787878" stroke-width="1"/>
<line x1="411.32" y1="201.30" x2="411.32" y2="208.80" stroke="#787878" stroke-width="1"/>
<line x1="475.96" y1="350.20" x2="475.96" y2="342.70" stroke="#787878" stroke-width="1"/>
<line x1="475.96" y1="201.30" x2="475.96" y2="208.80" stroke="#787878" stroke-width="1"/>
<line x1="540.60" y1="350.20" x2="540.60" y2="342.70" stroke="#787878" stroke-width="1"/>
<line x1="540.60" y1="201.30" x2="540.60" y2="208.80" stroke="#787878" stroke-width="1"/>
<line x1="23.50" y1="350.20" x2="29.00" y2="350.20" stroke="#787878" stroke-width="1"/>
<line x1="540.60" y1="350.20" x2="535.10" y2="350.20" stroke="#787878" stroke-width="1"/>
<line x1="23.50" y1="331.59" x2="29.00" y2="331.59" stroke="#787878" stroke-width="1"/>
<line x1="540.60" y1="331.59" x2="535.10" y2="331.59" stroke="#787878" stroke-width="1"/>
<line x1="23.50" y1="312.98" x2="29.00" y2="312.98" stroke="#787878" stroke-width="1"/>
<line x1="540.60" y1="312.98" x2="535.10" y2="312.98" stroke="#787878" stroke-width="1"/>
<line x1="23.50" y1="294.36" x2="29.00" y2="294.36" stroke="#787878" stroke-width="1"/>
<line x1="540.60" y1="294.36" x2="535.10" y2="294.36" stroke="#787878" stroke-width="1"/>
<line x1="23.50" y1="275.75" x2="29.00" y2="275.75" stroke="#787878" stroke-width="1"/>
<line x1="540.60" y1="275.75" x2="535.10" y2="275.75" stroke="#787878" stroke-width="1"/>
<line x1="23.50" y1="257.14" x2="29.00" y2="257.14" stroke="#787878" stroke-width="1"/>
<line x1="540.60" y1="257.14" x2="535.10" y2="257.14" stroke="#787878" stroke-width="1"/>
<line x1="23.50" y1="238.53" x2="29.00" y2="238.53" stroke="#787878" stroke-width="1"/>
<line x1="540.60" y1="238.53" x2="535.10" y2="238.53" stroke="#787878" stroke-width="1"/>
<line x1="23.50" y1="219.91" x2="29.00" y2="219.91" stroke="#787878" stroke-width="1"/>
<line x1="540.60" y1="219.91" x2="535.10" y2="219.91" stroke="#787878" stroke-width="1"/>
<line x1="23.50" y1="201.30" x2="29.00" y2="201.30" stroke="#787878" stroke-width="1"/>
<line x1="540.60" y1="201.30" x2="535.10" y2="201.30" stroke="#787878" stroke-width="1"/>
<polyline fill="none" stroke="#e0b4e0" stroke-width="1.15" points="23.5,334.3 23.8,335.2 24.0,336.1 24.3,336.8 24.5,337.5 24.8,338.1 25.1,338.5 25.3,338.9 25.6,339.1 25.8,339.1 26.1,339.1 26.3,338.9 26.6,338.5 26.9,338.1 27.1,337.5 27.4,336.8 27.6,336.1 27.9,335.2 28.2,334.3 28.4,333.3 28.7,332.2 28.9,331.2 29.2,330.1 29.4,329.1 29.7,328.0 30.0,327.1 30.2,326.1 30.5,325.3 30.7,324.5 31.0,323.8 31.3,323.2 31.5,322.8 31.8,322.5 32.0,322.3 32.3,322.2 32.5,322.3 32.8,322.5 33.1,322.8 33.3,323.2 33.6,323.8 33.8,324.5 34.1,325.3 34.4,326.1 34.6,327.1 34.9,328.0 35.1,329.1 35.4,330.1 35.7,331.2 35.9,332.2 36.2,333.3 36.4,334.3 36.7,335.2 36.9,336.1 37.2,336.8 37.5,337.5 37.7,338.1 38.0,338.5 38.2,338.9 38.5,339.1 38.8,339.1 39.0,339.1 39.3,338.9 39.5,338.5 39.8,338.1 40.0,337.5 40.3,336.8 40.6,336.1 40.8,335.2 41.1,334.3 41.3,333.3 41.6,332.2 41.9,331.2 42.1,330.1 42.4,329.1 42.6,328.0 42.9,327.1 43.1,326.1 43.4,325.3 43.7,324.5 43.9,323.8 44.2,323.2 44.4,322.8 44.7,322.5 45.0,322.3 45.2,322.2 45.5,322.3 45.7,322.5 46.0,322.8 46.3,323.2 46.5,323.8 46.8,324.5 47.0,325.3 47.3,326.1 47.5,327.1 47.8,328.0 48.1,329.1 48.3,330.1 48.6,331.2 48.8,332.2 49.1,333.3 49.4,334.3 49.6,335.2 49.9,336.1 50.1,336.8 50.4,337.5 50.6,338.1 50.9,338.5 51.2,338.9 51.4,339.1 51.7,339.1 51.9,339.1 52.2,338.9 52.5,338.5 52.7,338.1 53.0,337.5 53.2,336.8 53.5,336.1 53.8,335.2 54.0,334.3 54.3,333.3 54.5,332.2 54.8,331.2 55.0,330.1 55.3,329.1 55.6,328.0 55.8,327.1 56.1,326.1 56.3,325.3 56.6,324.5 56.9,323.8 57.1,323.2 57.4,322.8 57.6,322.5 57.9,322.3 58.1,322.2 58.4,322.3 58.7,322.5 58.9,322.8 59.2,323.2 59.4,323.8 59.7,324.5 60.0,325.3 60.2,326.1 60.5,327.1 60.7,328.0 61.0,329.1 61.2,330.1 61.5,331.2 61.8,332.2 62.0,333.3 62.3,334.3 62.5,335.2 62.8,336.1 63.1,336.8 63.3,337.5 63.6,338.1 63.8,338.5 64.1,338.9 64.4,339.1 64.6,339.1 64.9,339.1 65.1,338.9 65.4,338.5 65.6,338.1 65.9,337.5 66.2,336.8 66.4,336.1 66.7,335.2 66.9,334.3 67.2,333.3 67.5,332.2 67.7,331.2 68.0,330.1 68.2,329.1 68.5,328.0 68.7,327.1 69.0,326.1 69.3,325.3 69.5,324.5 69.8,323.8 70.0,323.2 70.3,322.8 70.6,322.5 70.8,322.3 71.1,322.2 71.3,322.3 71.6,322.5 71.8,322.8 72.1,323.2 72.4,323.8 72.6,324.5 72.9,325.3 73.1,326.1 73.4,327.1 73.7,328.0 73.9,329.1 74.2,330.1 74.4,331.2 74.7,332.2 75.0,333.3 75.2,334.3 75.5,335.2 75.7,336.1 76.0,336.8 76.2,337.5 76.5,338.1 76.8,338.5 77.0,338.9 77.3,339.1 77.5,339.1 77.8,339.1 78.1,338.9 78.3,338.5 78.6,338.1 78.8,337.5 79.1,336.8 79.3,336.1 79.6,335.2 79.9,334.3 80.1,333.3 80.4,332.2 80.6,331.2 80.9,330.1 81.2,329.1 81.4,328.0 81.7,327.1 81.9,326.1 82.2,325.3 82.4,324.5 82.7,323.8 83.0,323.2 83.2,322.8 83.5,322.5 83.7,322.3 84.0,322.2 84.3,322.3 84.5,322.5 84.8,322.8 85.0,323.2 85.3,323.8 85.6,324.5 85.8,325.3 86.1,326.1 86.3,327.1 86.6,328.0 86.8,329.1 87.1,330.1 87.4,331.2 87.6,332.2 87.9,333.3 88.1,334.3 88.4,335.2 88.7,336.1 88.9,336.8 89.2,337.5 89.4,338.1 89.7,338.5 89.9,338.9 90.2,339.1 90.5,339.1 90.7,339.1 91.0,338.9 91.2,338.5 91.5,338.1 91.8,337.5 92.0,336.8 92.3,336.1 92.5,335.2 92.8,334.3 93.0,333.3 93.3,332.2 93.6,331.2 93.8,330.1 94.1,329.1 94.3,328.0 94.6,327.1 94.9,326.1 95.1,325.3 95.4,324.5 95.6,323.8 95.9,323.2 96.2,322.8 96.4,322.5 96.7,322.3 96.9,322.2 97.2,322.3 97.4,322.5 97.7,322.8 98.0,323.2 98.2,323.8 98.5,324.5 98.7,325.3 99.0,326.1 99.3,327.1 99.5,328.0 99.8,329.1 100.0,330.1 100.3,331.2 100.5,332.2 100.8,333.3 101.1,334.3 101.3,335.2 101.6,336.1 101.8,336.8 102.1,337.5 102.4,338.1 102.6,338.5 102.9,338.9 103.1,339.1 103.4,339.1 103.7,339.1 103.9,338.9 104.2,338.5 104.4,338.1 104.7,337.5 104.9,336.8 105.2,336.1 105.5,335.2 105.7,334.3 106.0,333.3 106.2,332.2 106.5,331.2 106.8,330.1 107.0,329.1 107.3,328.0 107.5,327.1 107.8,326.1 108.0,325.3 108.3,324.5 108.6,323.8 108.8,323.2 109.1,322.8 109.3,322.5 109.6,322.3 109.9,322.2 110.1,322.3 110.4,322.5 110.6,322.8 110.9,323.2 111.1,323.8 111.4,324.5 111.7,325.3 111.9,326.1 112.2,327.1 112.4,328.0 112.7,329.1 113.0,330.1 113.2,331.2 113.5,332.2 113.7,333.3 114.0,334.3 114.3,335.2 114.5,336.1 114.8,336.8 115.0,337.5 115.3,338.1 115.5,338.5 115.8,338.9 116.1,339.1 116.3,339.1 116.6,339.1 116.8,338.9 117.1,338.5 117.4,338.1 117.6,337.5 117.9,336.8 118.1,336.1 118.4,335.2 118.6,334.3 118.9,333.3 119.2,332.2 119.4,331.2 119.7,330.1 119.9,329.1 120.2,328.0 120.5,327.1 120.7,326.1 121.0,325.3 121.2,324.5 121.5,323.8 121.7,323.2 122.0,322.8 122.3,322.5 122.5,322.3 122.8,322.2 123.0,322.3 123.3,322.5 123.6,322.8 123.8,323.2 124.1,323.8 124.3,324.5 124.6,325.3 124.9,326.1 125.1,327.1 125.4,328.0 125.6,329.1 125.9,330.1 126.1,331.2 126.4,332.2 126.7,333.3 126.9,334.3 127.2,335.2 127.4,336.1 127.7,336.8 128.0,337.5 128.2,338.1 128.5,338.5 128.7,338.9 129.0,339.1 129.2,339.1 129.5,339.1 129.8,338.9 130.0,338.5 130.3,338.1 130.5,337.5 130.8,336.8 131.1,336.1 131.3,335.2 131.6,334.3 131.8,333.3 132.1,332.2 132.3,331.2 132.6,330.1 132.9,329.1 133.1,328.0 133.4,327.1 133.6,326.1 133.9,325.3 134.2,324.5 134.4,323.8 134.7,323.2 134.9,322.8 135.2,322.5 135.5,322.3 135.7,322.2 136.0,322.3 136.2,322.5 136.5,322.8 136.7,323.2 137.0,323.8 137.3,324.5 137.5,325.3 137.8,326.1 138.0,327.1 138.3,328.0 138.6,329.1 138.8,330.1 139.1,331.2 139.3,332.2 139.6,333.3 139.8,334.3 140.1,335.2 140.4,336.1 140.6,336.8 140.9,337.5 141.1,338.1 141.4,338.5 141.7,338.9 141.9,339.1 142.2,339.1 142.4,339.1 142.7,338.9 143.0,338.5 143.2,338.1 143.5,337.5 143.7,336.8 144.0,336.1 144.2,335.2 144.5,334.3 144.8,333.3 145.0,332.2 145.3,331.2 145.5,330.1 145.8,329.1 146.1,328.0 146.3,327.1 146.6,326.1 146.8,325.3 147.1,324.5 147.3,323.8 147.6,323.2 147.9,322.8 148.1,322.5 148.4,322.3 148.6,322.2 148.9,322.3 149.2,322.5 149.4,322.8 149.7,323.2 149.9,323.8 150.2,324.5 150.4,325.3 150.7,326.1 151.0,327.1 151.2,328.0 151.5,329.1 151.7,330.1 152.0,331.2 152.3,332.2 152.5,333.3 152.8,334.3 153.0,335.2 153.3,336.1 153.6,336.8 153.8,337.5 154.1,338.1 154.3,338.5 154.6,338.9 154.8,339.1 155.1,339.1 155.4,339.1 155.6,338.9 155.9,338.5 156.1,338.1 156.4,337.5 156.7,336.8 156.9,336.1 157.2,335.2 157.4,334.3 157.7,333.3 157.9,332.2 158.2,331.2 158.5,330.1 158.7,329.1 159.0,328.0 159.2,327.1 159.5,326.1 159.8,325.3 160.0,324.5 160.3,323.8 160.5,323.2 160.8,322.8 161.0,322.5 161.3,322.3 161.6,322.2 161.8,322.3 162.1,322.5 162.3,322.8 162.6,323.2 162.9,323.8 163.1,324.5 163.4,325.3 163.6,326.1 163.9,327.1 164.2,328.0 164.4,329.1 164.7,330.1 164.9,331.2 165.2,332.2 165.4,333.3 165.7,334.3 166.0,335.2 166.2,336.1 166.5,336.8 166.7,337.5 167.0,338.1 167.3,338.5 167.5,338.9 167.8,339.1 168.0,339.1 168.3,339.1 168.5,338.9 168.8,338.5 169.1,338.1 169.3,337.5 169.6,336.8 169.8,336.1 170.1,335.2 170.4,334.3 170.6,333.3 170.9,332.2 171.1,331.2 171.4,330.1 171.6,329.1 171.9,328.0 172.2,327.1 172.4,326.1 172.7,325.3 172.9,324.5 173.2,323.8 173.5,323.2 173.7,322.8 174.0,322.5 174.2,322.3 174.5,322.2 174.8,322.3 175.0,322.5 175.3,322.8 175.5,323.2 175.8,323.8 176.0,324.5 176.3,325.3 176.6,326.1 176.8,327.1 177.1,328.0 177.3,329.1 177.6,330.1 177.9,331.2 178.1,332.2 178.4,333.3 178.6,334.3 178.9,335.2 179.1,336.1 179.4,336.8 179.7,337.5 179.9,338.1 180.2,338.5 180.4,338.9 180.7,339.1 181.0,339.1 181.2,339.1 181.5,338.9 181.7,338.5 182.0,338.1 182.2,337.5 182.5,336.8 182.8,336.1 183.0,335.2 183.3,334.3 183.5,333.3 183.8,332.2 184.1,331.2 184.3,330.1 184.6,329.1 184.8,328.0 185.1,327.1 185.4,326.1 185.6,325.3 185.9,324.5 186.1,323.8 186.4,323.2 186.6,322.8 186.9,322.5 187.2,322.3 187.4,322.2 187.7,322.3 187.9,322.5 188.2,322.8 188.5,323.2 188.7,323.8 189.0,324.5 189.2,325.3 189.5,326.1 189.7,327.1 190.0,328.0 190.3,329.1 190.5,330.1 190.8,331.2 191.0,332.2 191.3,333.3 191.6,334.3 191.8,335.2 192.1,336.1 192.3,336.8 192.6,337.5 192.9,338.1 193.1,338.5 193.4,338.9 193.6,339.1 193.9,339.1 194.1,339.1 194.4,338.9 194.7,338.5 194.9,338.1 195.2,337.5 195.4,336.8 195.7,336.1 196.0,335.2 196.2,334.3 196.5,333.3 196.7,332.2 197.0,331.2 197.2,330.1 197.5,329.1 197.8,328.0 198.0,327.1 198.3,326.1 198.5,325.3 198.8,324.5 199.1,323.8 199.3,323.2 199.6,322.8 199.8,322.5 200.1,322.3 200.3,322.2 200.6,322.3 200.9,322.5 201.1,322.8 201.4,323.2 201.6,323.8 201.9,324.5 202.2,325.3 202.4,326.1 202.7,327.1 202.9,328.0 203.2,329.1 203.5,330.1 203.7,331.2 204.0,332.2 204.2,333.3 204.5,334.3 204.7,335.2 205.0,336.1 205.3,336.8 205.5,337.5 205.8,338.1 206.0,338.5 206.3,338.9 206.6,339.1 206.8,339.1 207.1,339.1 207.3,338.9 207.6,338.5 207.8,338.1 208.1,337.5 208.4,336.8 208.6,336.1 208.9,335.2 209.1,334.3 209.4,333.3 209.7,332.2 209.9,331.2 210.2,330.1 210.4,329.1 210.7,328.0 210.9,327.1 211.2,326.1 211.5,325.3 211.7,324.5 212.0,323.8 212.2,323.2 212.5,322.8 212.8,322.5 213.0,322.3 213.3,322.2 213.5,322.3 213.8,322.5 214.1,322.8 214.3,323.2 214.6,323.8 214.8,324.5 215.1,325.3 215.3,326.1 215.6,327.1 215.9,328.0 216.1,329.1 216.4,330.1 216.6,331.2 216.9,332.2 217.2,333.3 217.4,334.3 217.7,335.2 217.9,336.1 218.2,336.8 218.4,337.5 218.7,338.1 219.0,338.5 219.2,338.9 219.5,339.1 219.7,339.1 220.0,339.1 220.3,338.9 220.5,338.5 220.8,338.1 221.0,337.5 221.3,336.8 221.5,336.1 221.8,335.2 222.1,334.3 222.3,333.3 222.6,332.2 222.8,331.2 223.1,330.1 223.4,329.1 223.6,328.0 223.9,327.1 224.1,326.1 224.4,325.3 224.7,324.5 224.9,323.8 225.2,323.2 225.4,322.8 225.7,322.5 225.9,322.3 226.2,322.2 226.5,322.3 226.7,322.5 227.0,322.8 227.2,323.2 227.5,323.8 227.8,324.5 228.0,325.3 228.3,326.1 228.5,327.1 228.8,328.0 229.0,329.1 229.3,330.1 229.6,331.2 229.8,332.2 230.1,333.3 230.3,334.3 230.6,335.2 230.9,336.1 231.1,336.8 231.4,337.5 231.6,338.1 231.9,338.5 232.1,338.9 232.4,339.1 232.7,339.1 232.9,339.1 233.2,338.9 233.4,338.5 233.7,338.1 234.0,337.5 234.2,336.8 234.5,336.1 234.7,335.2 235.0,334.3 235.3,333.3 235.5,332.2 235.8,331.2 236.0,330.1 236.3,329.1 236.5,328.0 236.8,327.1 237.1,326.1 237.3,325.3 237.6,324.5 237.8,323.8 238.1,323.2 238.4,322.8 238.6,322.5 238.9,322.3 239.1,322.2 239.4,322.3 239.6,322.5 239.9,322.8 240.2,323.2 240.4,323.8 240.7,324.5 240.9,325.3 241.2,326.1 241.5,327.1 241.7,328.0 242.0,329.1 242.2,330.1 242.5,331.2 242.8,332.2 243.0,333.3 243.3,334.3 243.5,335.2 243.8,336.1 244.0,336.8 244.3,337.5 244.6,338.1 244.8,338.5 245.1,338.9 245.3,339.1 245.6,339.1 245.9,339.1 246.1,338.9 246.4,338.5 246.6,338.1 246.9,337.5 247.1,336.8 247.4,336.1 247.7,335.2 247.9,334.3 248.2,333.3 248.4,332.2 248.7,331.2 249.0,330.1 249.2,329.1 249.5,328.0 249.7,327.1 250.0,326.1 250.2,325.3 250.5,324.5 250.8,323.8 251.0,323.2 251.3,322.8 251.5,322.5 251.8,322.3 252.1,322.2 252.3,322.3 252.6,322.5 252.8,322.8 253.1,323.2 253.4,323.8 253.6,324.5 253.9,325.3 254.1,326.1 254.4,327.1 254.6,328.0 254.9,329.1 255.2,330.1 255.4,331.2 255.7,332.2 255.9,333.3 256.2,334.3 256.5,335.2 256.7,336.1 257.0,336.8 257.2,337.5 257.5,338.1 257.7,338.5 258.0,338.9 258.3,339.1 258.5,339.1 258.8,339.1 259.0,338.9 259.3,338.5 259.6,338.1 259.8,337.5 260.1,336.8 260.3,336.1 260.6,335.2 260.8,334.3 261.1,333.3 261.4,332.2 261.6,331.2 261.9,330.1 262.1,329.1 262.4,328.0 262.7,327.1 262.9,326.1 263.2,325.3 263.4,324.5 263.7,323.8 264.0,323.2 264.2,322.8 264.5,322.5 264.7,322.3 265.0,322.2 265.2,322.3 265.5,322.5 265.8,322.8 266.0,323.2 266.3,323.8 266.5,324.5 266.8,325.3 267.1,326.1 267.3,327.1 267.6,328.0 267.8,329.1 268.1,330.1 268.3,331.2 268.6,332.2 268.9,333.3 269.1,334.3 269.4,335.2 269.6,336.1 269.9,336.8 270.2,337.5 270.4,338.1 270.7,338.5 270.9,338.9 271.2,339.1 271.4,339.1 271.7,339.1 272.0,338.9 272.2,338.5 272.5,338.1 272.7,337.5 273.0,336.8 273.3,336.1 273.5,335.2 273.8,334.3 274.0,333.3 274.3,332.2 274.6,331.2 274.8,330.1 275.1,329.1 275.3,328.0 275.6,327.1 275.8,326.1 276.1,325.3 276.4,324.5 276.6,323.8 276.9,323.2 277.1,322.8 277.4,322.5 277.7,322.3 277.9,322.2 278.2,322.3 278.4,322.5 278.7,322.8 278.9,323.2 279.2,323.8 279.5,324.5 279.7,325.3 280.0,326.1 280.2,327.1 280.5,328.0 280.8,329.1 281.0,330.1 281.3,331.2 281.5,332.2 281.8,333.3 282.1,334.3 282.3,335.2 282.6,336.1 282.8,336.8 283.1,337.5 283.3,338.1 283.6,338.5 283.9,338.9 284.1,339.1 284.4,339.1 284.6,339.1 284.9,338.9 285.2,338.5 285.4,338.1 285.7,337.5 285.9,336.8 286.2,336.1 286.4,335.2 286.7,334.3 287.0,333.3 287.2,332.2 287.5,331.2 287.7,330.1 288.0,329.1 288.3,328.0 288.5,327.1 288.8,326.1 289.0,325.3 289.3,324.5 289.5,323.8 289.8,323.2 290.1,322.8 290.3,322.5 290.6,322.3 290.8,322.2 291.1,322.3 291.4,322.5 291.6,322.8 291.9,323.2 292.1,323.8 292.4,324.5 292.7,325.3 292.9,326.1 293.2,327.1 293.4,328.0 293.7,329.1 293.9,330.1 294.2,331.2 294.5,332.2 294.7,333.3 295.0,334.3 295.2,335.2 295.5,336.1 295.8,336.8 296.0,337.5 296.3,338.1 296.5,338.5 296.8,338.9 297.0,339.1 297.3,339.1 297.6,339.1 297.8,338.9 298.1,338.5 298.3,338.1 298.6,337.5 298.9,336.8 299.1,336.1 299.4,335.2 299.6,334.3 299.9,333.3 300.1,332.2 300.4,331.2 300.7,330.1 300.9,329.1 301.2,328.0 301.4,327.1 301.7,326.1 302.0,325.3 302.2,324.5 302.5,323.8 302.7,323.2 303.0,322.8 303.3,322.5 303.5,322.3 303.8,322.2 304.0,322.3 304.3,322.5 304.5,322.8 304.8,323.2 305.1,323.8 305.3,324.5 305.6,325.3 305.8,326.1 306.1,327.1 306.4,328.0 306.6,329.1 306.9,330.1 307.1,331.2 307.4,332.2 307.6,333.3 307.9,334.3 308.2,335.2 308.4,336.1 308.7,336.8 308.9,337.5 309.2,338.1 309.5,338.5 309.7,338.9 310.0,339.1 310.2,339.1 310.5,339.1 310.7,338.9 311.0,338.5 311.3,338.1 311.5,337.5 311.8,336.8 312.0,336.1 312.3,335.2 312.6,334.3 312.8,333.3 313.1,332.2 313.3,331.2 313.6,330.1 313.9,329.1 314.1,328.0 314.4,327.1 314.6,326.1 314.9,325.3 315.1,324.5 315.4,323.8 315.7,323.2 315.9,322.8 316.2,322.5 316.4,322.3 316.7,322.2 317.0,322.3 317.2,322.5 317.5,322.8 317.7,323.2 318.0,323.8 318.2,324.5 318.5,325.3 318.8,326.1 319.0,327.1 319.3,328.0 319.5,329.1 319.8,330.1 320.1,331.2 320.3,332.2 320.6,333.3 320.8,334.3 321.1,335.2 321.3,336.1 321.6,336.8 321.9,337.5 322.1,338.1 322.4,338.5 322.6,338.9 322.9,339.1 323.2,339.1 323.4,339.1 323.7,338.9 323.9,338.5 324.2,338.1 324.5,337.5 324.7,336.8 325.0,336.1 325.2,335.2 325.5,334.3 325.7,333.3 326.0,332.2 326.3,331.2 326.5,330.1 326.8,329.1 327.0,328.0 327.3,327.1 327.6,326.1 327.8,325.3 328.1,324.5 328.3,323.8 328.6,323.2 328.8,322.8 329.1,322.5 329.4,322.3 329.6,322.2 329.9,322.3 330.1,322.5 330.4,322.8 330.7,323.2 330.9,323.8 331.2,324.5 331.4,325.3 331.7,326.1 332.0,327.1 332.2,328.0 332.5,329.1 332.7,330.1 333.0,331.2 333.2,332.2 333.5,333.3 333.8,334.3 334.0,335.2 334.3,336.1 334.5,336.8 334.8,337.5 335.1,338.1 335.3,338.5 335.6,338.9 335.8,339.1 336.1,339.1 336.3,339.1 336.6,338.9 336.9,338.5 337.1,338.1 337.4,337.5 337.6,336.8 337.9,336.1 338.2,335.2 338.4,334.3 338.7,333.3 338.9,332.2 339.2,331.2 339.4,330.1 339.7,329.1 340.0,328.0 340.2,327.1 340.5,326.1 340.7,325.3 341.0,324.5 341.3,323.8 341.5,323.2 341.8,322.8 342.0,322.5 342.3,322.3 342.6,322.2 342.8,322.3 343.1,322.5 343.3,322.8 343.6,323.2 343.8,323.8 344.1,324.5 344.4,325.3 344.6,326.1 344.9,327.1 345.1,328.0 345.4,329.1 345.7,330.1 345.9,331.2 346.2,332.2 346.4,333.3 346.7,334.3 346.9,335.2 347.2,336.1 347.5,336.8 347.7,337.5 348.0,338.1 348.2,338.5 348.5,338.9 348.8,339.1 349.0,339.1 349.3,339.1 349.5,338.9 349.8,338.5 350.0,338.1 350.3,337.5 350.6,336.8 350.8,336.1 351.1,335.2 351.3,334.3 351.6,333.3 351.9,332.2 352.1,331.2 352.4,330.1 352.6,329.1 352.9,328.0 353.2,327.1 353.4,326.1 353.7,325.3 353.9,324.5 354.2,323.8 354.4,323.2 354.7,322.8 355.0,322.5 355.2,322.3 355.5,322.2 355.7,322.3 356.0,322.5 356.3,322.8 356.5,323.2 356.8,323.8 357.0,324.5 357.3,325.3 357.5,326.1 357.8,327.1 358.1,328.0 358.3,329.1 358.6,330.1 358.8,331.2 359.1,332.2 359.4,333.3 359.6,334.3 359.9,335.2 360.1,336.1 360.4,336.8 360.6,337.5 360.9,338.1 361.2,338.5 361.4,338.9 361.7,339.1 361.9,339.1 362.2,339.1 362.5,338.9 362.7,338.5 363.0,338.1 363.2,337.5 363.5,336.8 363.8,336.1 364.0,335.2 364.3,334.3 364.5,333.3 364.8,332.2 365.0,331.2 365.3,330.1 365.6,329.1 365.8,328.0 366.1,327.1 366.3,326.1 366.6,325.3 366.9,324.5 367.1,323.8 367.4,323.2 367.6,322.8 367.9,322.5 368.1,322.3 368.4,322.2 368.7,322.3 368.9,322.5 369.2,322.8 369.4,323.2 369.7,323.8 370.0,324.5 370.2,325.3 370.5,326.1 370.7,327.1 371.0,328.0 371.2,329.1 371.5,330.1 371.8,331.2 372.0,332.2 372.3,333.3 372.5,334.3 372.8,335.2 373.1,336.1 373.3,336.8 373.6,337.5 373.8,338.1 374.1,338.5 374.4,338.9 374.6,339.1 374.9,339.1 375.1,339.1 375.4,338.9 375.6,338.5 375.9,338.1 376.2,337.5 376.4,336.8 376.7,336.1 376.9,335.2 377.2,334.3 377.5,333.3 377.7,332.2 378.0,331.2 378.2,330.1 378.5,329.1 378.7,328.0 379.0,327.1 379.3,326.1 379.5,325.3 379.8,324.5 380.0,323.8 380.3,323.2 380.6,322.8 380.8,322.5 381.1,322.3 381.3,322.2 381.6,322.3 381.9,322.5 382.1,322.8 382.4,323.2 382.6,323.8 382.9,324.5 383.1,325.3 383.4,326.1 383.7,327.1 383.9,328.0 384.2,329.1 384.4,330.1 384.7,331.2 385.0,332.2 385.2,333.3 385.5,334.3 385.7,335.2 386.0,336.1 386.2,336.8 386.5,337.5 386.8,338.1 387.0,338.5 387.3,338.9 387.5,339.1 387.8,339.1 388.1,339.1 388.3,338.9 388.6,338.5 388.8,338.1 389.1,337.5 389.3,336.8 389.6,336.1 389.9,335.2 390.1,334.3 390.4,333.3 390.6,332.2 390.9,331.2 391.2,330.1 391.4,329.1 391.7,328.0 391.9,327.1 392.2,326.1 392.5,325.3 392.7,324.5 393.0,323.8 393.2,323.2 393.5,322.8 393.7,322.5 394.0,322.3 394.3,322.2 394.5,322.3 394.8,322.5 395.0,322.8 395.3,323.2 395.6,323.8 395.8,324.5 396.1,325.3 396.3,326.1 396.6,327.1 396.8,328.0 397.1,329.1 397.4,330.1 397.6,331.2 397.9,332.2 398.1,333.3 398.4,334.3 398.7,335.2 398.9,336.1 399.2,336.8 399.4,337.5 399.7,338.1 399.9,338.5 400.2,338.9 400.5,339.1 400.7,339.1 401.0,339.1 401.2,338.9 401.5,338.5 401.8,338.1 402.0,337.5 402.3,336.8 402.5,336.1 402.8,335.2 403.1,334.3 403.3,333.3 403.6,332.2 403.8,331.2 404.1,330.1 404.3,329.1 404.6,328.0 404.9,327.1 405.1,326.1 405.4,325.3 405.6,324.5 405.9,323.8 406.2,323.2 406.4,322.8 406.7,322.5 406.9,322.3 407.2,322.2 407.4,322.3 407.7,322.5 408.0,322.8 408.2,323.2 408.5,323.8 408.7,324.5 409.0,325.3 409.3,326.1 409.5,327.1 409.8,328.0 410.0,329.1 410.3,330.1 410.5,331.2 410.8,332.2 411.1,333.3 411.3,334.3 411.6,335.2 411.8,336.1 412.1,336.8 412.4,337.5 412.6,338.1 412.9,338.5 413.1,338.9 413.4,339.1 413.7,339.1 413.9,339.1 414.2,338.9 414.4,338.5 414.7,338.1 414.9,337.5 415.2,336.8 415.5,336.1 415.7,335.2 416.0,334.3 416.2,333.3 416.5,332.2 416.8,331.2 417.0,330.1 417.3,329.1 417.5,328.0 417.8,327.1 418.0,326.1 418.3,325.3 418.6,324.5 418.8,323.8 419.1,323.2 419.3,322.8 419.6,322.5 419.9,322.3 420.1,322.2 420.4,322.3 420.6,322.5 420.9,322.8 421.1,323.2 421.4,323.8 421.7,324.5 421.9,325.3 422.2,326.1 422.4,327.1 422.7,328.0 423.0,329.1 423.2,330.1 423.5,331.2 423.7,332.2 424.0,333.3 424.3,334.3 424.5,335.2 424.8,336.1 425.0,336.8 425.3,337.5 425.5,338.1 425.8,338.5 426.1,338.9 426.3,339.1 426.6,339.1 426.8,339.1 427.1,338.9 427.4,338.5 427.6,338.1 427.9,337.5 428.1,336.8 428.4,336.1 428.6,335.2 428.9,334.3 429.2,333.3 429.4,332.2 429.7,331.2 429.9,330.1 430.2,329.1 430.5,328.0 430.7,327.1 431.0,326.1 431.2,325.3 431.5,324.5 431.8,323.8 432.0,323.2 432.3,322.8 432.5,322.5 432.8,322.3 433.0,322.2 433.3,322.3 433.6,322.5 433.8,322.8 434.1,323.2 434.3,323.8 434.6,324.5 434.9,325.3 435.1,326.1 435.4,327.1 435.6,328.0 435.9,329.1 436.1,330.1 436.4,331.2 436.7,332.2 436.9,333.3 437.2,334.3 437.4,335.2 437.7,336.1 438.0,336.8 438.2,337.5 438.5,338.1 438.7,338.5 439.0,338.9 439.2,339.1 439.5,339.1 439.8,339.1 440.0,338.9 440.3,338.5 440.5,338.1 440.8,337.5 441.1,336.8 441.3,336.1 441.6,335.2 441.8,334.3 442.1,333.3 442.4,332.2 442.6,331.2 442.9,330.1 443.1,329.1 443.4,328.0 443.6,327.1 443.9,326.1 444.2,325.3 444.4,324.5 444.7,323.8 444.9,323.2 445.2,322.8 445.5,322.5 445.7,322.3 446.0,322.2 446.2,322.3 446.5,322.5 446.7,322.8 447.0,323.2 447.3,323.8 447.5,324.5 447.8,325.3 448.0,326.1 448.3,327.1 448.6,328.0 448.8,329.1 449.1,330.1 449.3,331.2 449.6,332.2 449.8,333.3 450.1,334.3 450.4,335.2 450.6,336.1 450.9,336.8 451.1,337.5 451.4,338.1 451.7,338.5 451.9,338.9 452.2,339.1 452.4,339.1 452.7,339.1 453.0,338.9 453.2,338.5 453.5,338.1 453.7,337.5 454.0,336.8 454.2,336.1 454.5,335.2 454.8,334.3 455.0,333.3 455.3,332.2 455.5,331.2 455.8,330.1 456.1,329.1 456.3,328.0 456.6,327.1 456.8,326.1 457.1,325.3 457.3,324.5 457.6,323.8 457.9,323.2 458.1,322.8 458.4,322.5 458.6,322.3 458.9,322.2 459.2,322.3 459.4,322.5 459.7,322.8 459.9,323.2 460.2,323.8 460.4,324.5 460.7,325.3 461.0,326.1 461.2,327.1 461.5,328.0 461.7,329.1 462.0,330.1 462.3,331.2 462.5,332.2 462.8,333.3 463.0,334.3 463.3,335.2 463.6,336.1 463.8,336.8 464.1,337.5 464.3,338.1 464.6,338.5 464.8,338.9 465.1,339.1 465.4,339.1 465.6,339.1 465.9,338.9 466.1,338.5 466.4,338.1 466.7,337.5 466.9,336.8 467.2,336.1 467.4,335.2 467.7,334.3 467.9,333.3 468.2,332.2 468.5,331.2 468.7,330.1 469.0,329.1 469.2,328.0 469.5,327.1 469.8,326.1 470.0,325.3 470.3,324.5 470.5,323.8 470.8,323.2 471.1,322.8 471.3,322.5 471.6,322.3 471.8,322.2 472.1,322.3 472.3,322.5 472.6,322.8 472.9,323.2 473.1,323.8 473.4,324.5 473.6,325.3 473.9,326.1 474.2,327.1 474.4,328.0 474.7,329.1 474.9,330.1 475.2,331.2 475.4,332.2 475.7,333.3 476.0,334.3 476.2,335.2 476.5,336.1 476.7,336.8 477.0,337.5 477.3,338.1 477.5,338.5 477.8,338.9 478.0,339.1 478.3,339.1 478.5,339.1 478.8,338.9 479.1,338.5 479.3,338.1 479.6,337.5 479.8,336.8 480.1,336.1 480.4,335.2 480.6,334.3 480.9,333.3 481.1,332.2 481.4,331.2 481.7,330.1 481.9,329.1 482.2,328.0 482.4,327.1 482.7,326.1 482.9,325.3 483.2,324.5 483.5,323.8 483.7,323.2 484.0,322.8 484.2,322.5 484.5,322.3 484.8,322.2 485.0,322.3 485.3,322.5 485.5,322.8 485.8,323.2 486.0,323.8 486.3,324.5 486.6,325.3 486.8,326.1 487.1,327.1 487.3,328.0 487.6,329.1 487.9,330.1 488.1,331.2 488.4,332.2 488.6,333.3 488.9,334.3 489.1,335.2 489.4,336.1 489.7,336.8 489.9,337.5 490.2,338.1 490.4,338.5 490.7,338.9 491.0,339.1 491.2,339.1 491.5,339.1 491.7,338.9 492.0,338.5 492.3,338.1 492.5,337.5 492.8,336.8 493.0,336.1 493.3,335.2 493.5,334.3 493.8,333.3 494.1,332.2 494.3,331.2 494.6,330.1 494.8,329.1 495.1,328.0 495.4,327.1 495.6,326.1 495.9,325.3 496.1,324.5 496.4,323.8 496.6,323.2 496.9,322.8 497.2,322.5 497.4,322.3 497.7,322.2 497.9,322.3 498.2,322.5 498.5,322.8 498.7,323.2 499.0,323.8 499.2,324.5 499.5,325.3 499.7,326.1 500.0,327.1 500.3,328.0 500.5,329.1 500.8,330.1 501.0,331.2 501.3,332.2 501.6,333.3 501.8,334.3 502.1,335.2 502.3,336.1 502.6,336.8 502.9,337.5 503.1,338.1 503.4,338.5 503.6,338.9 503.9,339.1 504.1,339.1 504.4,339.1 504.7,338.9 504.9,338.5 505.2,338.1 505.4,337.5 505.7,336.8 506.0,336.1 506.2,335.2 506.5,334.3 506.7,333.3 507.0,332.2 507.2,331.2 507.5,330.1 507.8,329.1 508.0,328.0 508.3,327.1 508.5,326.1 508.8,325.3 509.1,324.5 509.3,323.8 509.6,323.2 509.8,322.8 510.1,322.5 510.3,322.3 510.6,322.2 510.9,322.3 511.1,322.5 511.4,322.8 511.6,323.2 511.9,323.8 512.2,324.5 512.4,325.3 512.7,326.1 512.9,327.1 513.2,328.0 513.5,329.1 513.7,330.1 514.0,331.2 514.2,332.2 514.5,333.3 514.7,334.3 515.0,335.2 515.3,336.1 515.5,336.8 515.8,337.5 516.0,338.1 516.3,338.5 516.6,338.9 516.8,339.1 517.1,339.1 517.3,339.1 517.6,338.9 517.8,338.5 518.1,338.1 518.4,337.5 518.6,336.8 518.9,336.1 519.1,335.2 519.4,334.3 519.7,333.3 519.9,332.2 520.2,331.2 520.4,330.1 520.7,329.1 521.0,328.0 521.2,327.1 521.5,326.1 521.7,325.3 522.0,324.5 522.2,323.8 522.5,323.2 522.8,322.8 523.0,322.5 523.3,322.3 523.5,322.2 523.8,322.3 524.1,322.5 524.3,322.8 524.6,323.2 524.8,323.8 525.1,324.5 525.3,325.3 525.6,326.1 525.9,327.1 526.1,328.0 526.4,329.1 526.6,330.1 526.9,331.2 527.2,332.2 527.4,333.3 527.7,334.3 527.9,335.2 528.2,336.1 528.4,336.8 528.7,337.5 529.0,338.1 529.2,338.5 529.5,338.9 529.7,339.1 530.0,339.1 530.3,339.1 530.5,338.9 530.8,338.5 531.0,338.1 531.3,337.5 531.6,336.8 531.8,336.1 532.1,335.2 532.3,334.3 532.6,333.3 532.8,332.2 533.1,331.2 533.4,330.1 533.6,329.1 533.9,328.0 534.1,327.1 534.4,326.1 534.7,325.3 534.9,324.5 535.2,323.8 535.4,323.2 535.7,322.8 535.9,322.5 536.2,322.3 536.5,322.2 536.7,322.3 537.0,322.5 537.2,322.8 537.5,323.2 537.8,323.8 538.0,324.5 538.3,325.3 538.5,326.1 538.8,327.1 539.0,328.0 539.3,329.1 539.6,330.1 539.8,331.2 540.1,332.2 540.3,333.3 540.6,334.3"/>
<polyline fill="none" stroke="#9a389a" stroke-width="1.25" stroke-dasharray="1 1" points="23.5,334.3 23.8,335.2 24.0,336.1 24.3,336.8 24.5,337.5 24.8,338.1 25.1,338.5 25.3,338.9 25.6,339.1 25.8,339.1 26.1,339.1 26.3,338.9 26.6,338.5 26.9,338.1 27.1,337.5 27.4,336.8 27.6,336.1 27.9,335.2 28.2,334.3 28.4,333.3 28.7,332.2 28.9,331.2 29.2,330.1 29.4,329.1 29.7,328.0 30.0,327.1 30.2,326.1 30.5,325.3 30.7,324.5 31.0,323.8 31.3,323.2 31.5,322.8 31.8,322.5 32.0,322.3 32.3,322.2 32.5,322.3 32.8,322.5 33.1,322.8 33.3,323.2 33.6,323.8 33.8,324.5 34.1,325.3 34.4,326.1 34.6,327.1 34.9,328.0 35.1,329.1 35.4,330.1 35.7,331.2 35.9,332.2 36.2,333.3 36.4,334.3 36.7,335.2 36.9,336.1 37.2,336.8 37.5,337.5 37.7,338.1 38.0,338.5 38.2,338.9 38.5,339.1 38.8,339.1 39.0,339.1 39.3,338.9 39.5,338.5 39.8,338.1 40.0,337.5 40.3,336.8 40.6,336.1 40.8,335.2 41.1,334.3 41.3,333.3 41.6,332.2 41.9,331.2 42.1,330.1 42.4,329.1 42.6,328.0 42.9,327.1 43.1,326.1 43.4,325.3 43.7,324.5 43.9,323.8 44.2,323.2 44.4,322.8 44.7,322.5 45.0,322.3 45.2,322.2 45.5,322.3 45.7,322.5 46.0,322.8 46.3,323.2 46.5,323.8 46.8,324.5 47.0,325.3 47.3,326.1 47.5,327.1 47.8,328.0 48.1,329.1 48.3,330.1 48.6,331.2 48.8,332.2 49.1,333.3 49.4,334.3 49.6,335.2 49.9,336.1 50.1,336.8 50.4,337.5 50.6,338.1 50.9,338.5 51.2,338.9 51.4,339.1 51.7,339.1 51.9,339.1 52.2,338.9 52.5,338.5 52.7,338.1 53.0,337.5 53.2,336.8 53.5,336.1 53.8,335.2 54.0,334.3 54.3,333.3 54.5,332.2 54.8,331.2 55.0,330.1 55.3,329.1 55.6,328.0 55.8,327.1 56.1,326.1 56.3,325.3 56.6,324.5 56.9,323.8 57.1,323.2 57.4,322.8 57.6,322.5 57.9,322.3 58.1,322.2 58.4,322.3 58.7,322.5 58.9,322.8 59.2,323.2 59.4,323.8 59.7,324.5 60.0,325.3 60.2,326.1 60.5,327.1 60.7,328.0 61.0,329.1 61.2,330.1 61.5,331.2 61.8,332.2 62.0,333.3 62.3,334.3 62.5,335.2 62.8,336.1 63.1,336.8 63.3,337.5 63.6,338.1 63.8,338.5 64.1,338.9 64.4,339.1 64.6,339.1 64.9,339.1 65.1,338.9 65.4,338.5 65.6,338.1 65.9,337.5 66.2,336.8 66.4,336.1 66.7,335.2 66.9,334.3 67.2,333.3 67.5,332.2 67.7,331.2 68.0,330.1 68.2,329.1 68.5,328.0 68.7,327.1 69.0,326.1 69.3,325.3 69.5,324.5 69.8,323.8 70.0,323.2 70.3,322.8 70.6,322.5 70.8,322.3 71.1,322.2 71.3,322.3 71.6,322.5 71.8,322.8 72.1,323.2 72.4,323.8 72.6,324.5 72.9,325.3 73.1,326.1 73.4,327.1 73.7,328.0 73.9,329.1 74.2,330.1 74.4,331.2 74.7,332.2 75.0,333.3 75.2,334.3 75.5,335.2 75.7,336.1 76.0,336.8 76.2,337.5 76.5,338.1 76.8,338.5 77.0,338.9 77.3,339.1 77.5,339.1 77.8,339.1 78.1,338.9 78.3,338.5 78.6,338.1 78.8,337.5 79.1,336.8 79.3,336.1 79.6,335.2 79.9,334.3 80.1,333.3 80.4,332.2 80.6,331.2 80.9,330.1 81.2,329.1 81.4,328.0 81.7,327.1 81.9,326.1 82.2,325.3 82.4,324.5 82.7,323.8 83.0,323.2 83.2,322.8 83.5,322.5 83.7,322.3 84.0,322.2 84.3,322.3 84.5,322.5 84.8,322.8 85.0,323.2 85.3,323.8 85.6,324.5 85.8,325.3 86.1,326.1 86.3,327.1 86.6,328.0 86.8,329.1 87.1,330.1 87.4,331.2 87.6,332.2 87.9,333.3 88.1,334.3 88.4,335.2 88.7,336.1 88.9,336.8 89.2,337.5 89.4,338.1 89.7,338.5 89.9,338.9 90.2,339.1 90.5,339.1 90.7,339.1 91.0,338.9 91.2,338.5 91.5,338.1 91.8,337.5 92.0,336.8 92.3,336.1 92.5,335.2 92.8,334.3 93.0,333.3 93.3,332.2 93.6,331.2 93.8,330.1 94.1,329.1 94.3,328.0 94.6,327.1 94.9,326.1 95.1,325.3 95.4,324.5 95.6,323.8 95.9,323.2 96.2,322.8 96.4,322.5 96.7,322.3 96.9,322.2 97.2,322.3 97.4,322.5 97.7,322.8 98.0,323.2 98.2,323.8 98.5,324.5 98.7,325.3 99.0,326.1 99.3,327.1 99.5,328.0 99.8,329.1 100.0,330.1 100.3,331.2 100.5,332.2 100.8,333.3 101.1,334.3 101.3,335.2 101.6,336.1 101.8,336.8 102.1,337.5 102.4,338.1 102.6,338.5 102.9,338.9 103.1,339.1 103.4,339.1 103.7,339.1 103.9,338.9 104.2,338.5 104.4,338.1 104.7,337.5 104.9,336.8 105.2,336.1 105.5,335.2 105.7,334.3 106.0,333.3 106.2,332.2 106.5,331.2 106.8,330.1 107.0,329.1 107.3,328.0 107.5,327.1 107.8,326.1 108.0,325.3 108.3,324.5 108.6,323.8 108.8,323.2 109.1,322.8 109.3,322.5 109.6,322.3 109.9,322.2 110.1,322.3 110.4,322.5 110.6,322.8 110.9,323.2 111.1,323.8 111.4,324.5 111.7,325.3 111.9,326.1 112.2,327.1 112.4,328.0 112.7,329.1 113.0,330.1 113.2,331.2 113.5,332.2 113.7,333.3 114.0,334.3 114.3,335.2 114.5,336.1 114.8,336.8 115.0,337.5 115.3,338.1 115.5,338.5 115.8,338.9 116.1,339.1 116.3,339.1 116.6,339.1 116.8,338.9 117.1,338.5 117.4,338.1 117.6,337.5 117.9,336.8 118.1,336.1 118.4,335.2 118.6,334.3 118.9,333.3 119.2,332.2 119.4,331.2 119.7,330.1 119.9,329.1 120.2,328.0 120.5,327.1 120.7,326.1 121.0,325.3 121.2,324.5 121.5,323.8 121.7,323.2 122.0,322.8 122.3,322.5 122.5,322.3 122.8,322.2 123.0,322.3 123.3,322.5 123.6,322.8 123.8,323.2 124.1,323.8 124.3,324.5 124.6,325.3 124.9,326.1 125.1,327.1 125.4,328.0 125.6,329.1 125.9,330.1 126.1,331.2 126.4,332.2 126.7,333.3 126.9,334.3 127.2,335.2 127.4,336.1 127.7,336.8 128.0,337.5 128.2,338.1 128.5,338.5 128.7,338.9 129.0,339.1 129.2,339.1 129.5,339.1 129.8,338.9 130.0,338.5 130.3,338.1 130.5,337.5 130.8,336.8 131.1,336.1 131.3,335.2 131.6,334.3 131.8,333.3 132.1,332.2 132.3,331.2 132.6,330.1 132.9,329.1 133.1,328.0 133.4,327.1 133.6,326.1 133.9,325.3 134.2,324.5 134.4,323.8 134.7,323.2 134.9,322.8 135.2,322.5 135.5,322.3 135.7,322.2 136.0,322.3 136.2,322.5 136.5,322.8 136.7,323.2 137.0,323.8 137.3,324.5 137.5,325.3 137.8,326.1 138.0,327.1 138.3,328.0 138.6,329.1 138.8,330.1 139.1,331.2 139.3,332.2 139.6,333.3 139.8,334.3 140.1,335.2 140.4,336.1 140.6,336.8 140.9,337.5 141.1,338.1 141.4,338.5 141.7,338.9 141.9,339.1 142.2,339.1 142.4,339.1 142.7,338.9 143.0,338.5 143.2,338.1 143.5,337.5 143.7,336.8 144.0,336.1 144.2,335.2 144.5,334.3 144.8,333.3 145.0,332.2 145.3,331.2 145.5,330.1 145.8,329.1 146.1,328.0 146.3,327.1 146.6,326.1 146.8,325.3 147.1,324.5 147.3,323.8 147.6,323.2 147.9,322.8 148.1,322.5 148.4,322.3 148.6,322.2 148.9,322.3 149.2,322.5 149.4,322.8 149.7,323.2 149.9,323.8 150.2,324.5 150.4,325.3 150.7,326.1 151.0,327.1 151.2,328.0 151.5,329.1 151.7,330.1 152.0,331.2 152.3,332.2 152.5,333.3 152.8,334.3 153.0,335.2 153.3,336.1 153.6,336.8 153.8,337.5 154.1,338.1 154.3,338.5 154.6,338.9 154.8,339.1 155.1,339.1 155.4,339.1 155.6,338.9 155.9,338.5 156.1,338.1 156.4,337.5 156.7,336.8 156.9,336.1 157.2,335.2 157.4,334.3 157.7,333.3 157.9,332.2 158.2,331.2 158.5,330.1 158.7,329.1 159.0,328.0 159.2,327.1 159.5,326.1 159.8,325.3 160.0,324.5 160.3,323.8 160.5,323.2 160.8,322.8 161.0,322.5 161.3,322.3 161.6,322.2 161.8,322.3 162.1,322.5 162.3,322.8 162.6,323.2 162.9,323.8 163.1,324.5 163.4,325.3 163.6,326.1 163.9,327.1 164.2,328.0 164.4,329.1 164.7,330.1 164.9,331.2 165.2,332.2 165.4,333.3 165.7,334.3 166.0,335.2 166.2,336.1 166.5,336.8 166.7,337.5 167.0,338.1 167.3,338.5 167.5,338.9 167.8,339.1 168.0,339.1 168.3,339.1 168.5,338.9 168.8,338.5 169.1,338.1 169.3,337.5 169.6,336.8 169.8,336.1 170.1,335.2 170.4,334.3 170.6,333.3 170.9,332.2 171.1,331.2 171.4,330.1 171.6,329.1 171.9,328.0 172.2,327.1 172.4,326.1 172.7,325.3 172.9,324.5 173.2,323.8 173.5,323.2 173.7,322.8 174.0,322.5 174.2,322.3 174.5,322.2 174.8,322.3 175.0,322.5 175.3,322.8 175.5,323.2 175.8,323.8 176.0,324.5 176.3,325.3 176.6,326.1 176.8,327.1 177.1,328.0 177.3,329.1 177.6,330.1 177.9,331.2 178.1,332.2 178.4,333.3 178.6,334.3 178.9,335.2 179.1,336.1 179.4,336.8 179.7,337.5 179.9,338.1 180.2,338.5 180.4,338.9 180.7,339.1 181.0,339.1 181.2,339.1 181.5,338.9 181.7,338.5 182.0,338.1 182.2,337.5 182.5,336.8 182.8,336.1 183.0,335.2 183.3,334.3 183.5,333.3 183.8,332.2 184.1,331.2 184.3,330.1 184.6,329.1 184.8,328.0 185.1,327.1 185.4,326.1 185.6,325.3 185.9,324.5 186.1,323.8 186.4,323.2 186.6,322.8 186.9,322.5 187.2,322.3 187.4,322.2 187.7,322.3 187.9,322.5 188.2,322.8 188.5,323.2 188.7,323.8 189.0,324.5 189.2,325.3 189.5,326.1 189.7,327.1 190.0,328.0 190.3,329.1 190.5,330.1 190.8,331.2 191.0,332.2 191.3,333.3 191.6,334.3 191.8,335.2 192.1,336.1 192.3,336.8 192.6,337.5 192.9,338.1 193.1,338.5 193.4,338.9 193.6,339.1 193.9,339.1 194.1,339.1 194.4,338.9 194.7,338.5 194.9,338.1 195.2,337.5 195.4,336.8 195.7,336.1 196.0,335.2 196.2,334.3 196.5,333.3 196.7,332.2 197.0,331.2 197.2,330.1 197.5,329.1 197.8,328.0 198.0,327.1 198.3,326.1 198.5,325.3 198.8,324.5 199.1,323.8 199.3,323.2 199.6,322.8 199.8,322.5 200.1,322.3 200.3,322.2 200.6,322.3 200.9,322.5 201.1,322.8 201.4,323.2 201.6,323.8 201.9,324.5 202.2,325.3 202.4,326.1 202.7,327.1 202.9,328.0 203.2,329.1 203.5,330.1 203.7,331.2 204.0,332.2 204.2,333.3 204.5,334.3 204.7,335.2 205.0,336.1 205.3,336.8 205.5,337.5 205.8,338.1 206.0,338.5 206.3,338.9 206.6,339.1 206.8,339.1 207.1,339.1 207.3,338.9 207.6,338.5 207.8,338.1 208.1,337.5 208.4,336.8 208.6,336.1 208.9,335.2 209.1,334.3 209.4,333.3 209.7,332.2 209.9,331.2 210.2,330.1 210.4,329.1 210.7,328.0 210.9,327.1 211.2,326.1 211.5,325.3 211.7,324.5 212.0,323.8 212.2,323.2 212.5,322.8 212.8,322.5 213.0,322.3 213.3,322.2 213.5,322.3 213.8,322.5 214.1,322.8 214.3,323.2 214.6,323.8 214.8,324.5 215.1,325.3 215.3,326.1 215.6,327.1 215.9,328.0 216.1,329.1 216.4,330.1 216.6,331.2 216.9,332.2 217.2,333.3 217.4,334.3 217.7,335.2 217.9,336.1 218.2,336.8 218.4,337.5 218.7,338.1 219.0,338.5 219.2,338.9 219.5,339.1 219.7,339.1 220.0,339.1 220.3,338.9 220.5,338.5 220.8,338.1 221.0,337.5 221.3,336.8 221.5,336.1 221.8,335.2 222.1,334.3 222.3,333.3 222.6,332.2 222.8,331.2 223.1,330.1 223.4,329.1 223.6,328.0 223.9,327.1 224.1,326.1 224.4,325.3 224.7,324.5 224.9,323.8 225.2,323.2 225.4,322.8 225.7,322.5 225.9,322.3 226.2,322.2 226.5,322.3 226.7,322.5 227.0,322.8 227.2,323.2 227.5,323.8 227.8,324.5 228.0,325.3 228.3,326.1 228.5,327.1 228.8,328.0 229.0,329.1 229.3,330.1 229.6,331.2 229.8,332.2 230.1,333.3 230.3,334.3 230.6,335.2 230.9,336.1 231.1,336.8 231.4,337.5 231.6,338.1 231.9,338.5 232.1,338.9 232.4,339.1 232.7,339.1 232.9,339.1 233.2,338.9 233.4,338.5 233.7,338.1 234.0,337.5 234.2,336.8 234.5,336.1 234.7,335.2 235.0,334.3 235.3,333.3 235.5,332.2 235.8,331.2 236.0,330.1 236.3,329.1 236.5,328.0 236.8,327.1 237.1,326.1 237.3,325.3 237.6,324.5 237.8,323.8 238.1,323.2 238.4,322.8 238.6,322.5 238.9,322.3 239.1,322.2 239.4,322.3 239.6,322.5 239.9,322.8 240.2,323.2 240.4,323.8 240.7,324.5 240.9,325.3 241.2,326.1 241.5,327.1 241.7,328.0 242.0,329.1 242.2,330.1 242.5,331.2 242.8,332.2 243.0,333.3 243.3,334.3 243.5,335.2 243.8,336.1 244.0,336.8 244.3,337.5 244.6,338.1 244.8,338.5 245.1,338.9 245.3,339.1 245.6,339.1 245.9,339.1 246.1,338.9 246.4,338.5 246.6,338.1 246.9,337.5 247.1,336.8 247.4,336.1 247.7,335.2 247.9,334.3 248.2,333.3 248.4,332.2 248.7,331.2 249.0,330.1 249.2,329.1 249.5,328.0 249.7,327.1 250.0,326.1 250.2,325.3 250.5,324.5 250.8,323.8 251.0,323.2 251.3,322.8 251.5,322.5 251.8,322.3 252.1,322.2 252.3,322.3 252.6,322.5 252.8,322.8 253.1,323.2 253.4,323.8 253.6,324.5 253.9,325.3 254.1,326.1 254.4,327.1 254.6,328.0 254.9,329.1 255.2,330.1 255.4,331.2 255.7,332.2 255.9,333.3 256.2,334.3 256.5,335.2 256.7,336.1 257.0,336.8 257.2,337.5 257.5,338.1 257.7,338.5 258.0,338.9 258.3,339.1 258.5,339.1 258.8,339.1 259.0,338.9 259.3,338.5 259.6,338.1 259.8,337.5 260.1,336.8 260.3,336.1 260.6,335.2 260.8,334.3 261.1,333.3 261.4,332.2 261.6,331.2 261.9,330.1 262.1,329.1 262.4,328.0 262.7,327.1 262.9,326.1 263.2,325.3 263.4,324.5 263.7,323.8 264.0,323.2 264.2,322.8 264.5,322.5 264.7,322.3 265.0,322.2 265.2,322.3 265.5,322.5 265.8,322.8 266.0,323.2 266.3,323.8 266.5,324.5 266.8,325.3 267.1,326.1 267.3,327.1 267.6,328.0 267.8,329.1 268.1,330.1 268.3,331.2 268.6,332.2 268.9,333.3 269.1,334.3 269.4,335.2 269.6,336.1 269.9,336.8 270.2,337.5 270.4,338.1 270.7,338.5 270.9,338.9 271.2,339.1 271.4,339.1 271.7,339.1 272.0,338.9 272.2,338.5 272.5,338.1 272.7,337.5 273.0,336.8 273.3,336.1 273.5,335.2 273.8,334.3 274.0,333.3 274.3,332.2 274.6,331.2 274.8,330.1 275.1,329.1 275.3,328.0 275.6,327.1 275.8,326.1 276.1,325.3 276.4,324.5 276.6,323.8 276.9,323.2 277.1,322.8 277.4,322.5 277.7,322.3 277.9,322.2 278.2,322.3 278.4,322.5 278.7,322.8 278.9,323.2 279.2,323.8 279.5,324.5 279.7,325.3 280.0,326.1 280.2,327.1 280.5,328.0 280.8,329.1 281.0,330.1 281.3,331.2 281.5,332.2 281.8,333.3 282.1,334.3 282.3,335.2 282.6,336.1 282.8,336.8 283.1,337.5 283.3,338.1 283.6,338.5 283.9,338.9 284.1,339.1 284.4,339.1 284.6,339.1 284.9,338.9 285.2,338.5 285.4,338.1 285.7,337.5 285.9,336.8 286.2,336.1 286.4,335.2 286.7,334.3 287.0,333.3 287.2,332.2 287.5,331.2 287.7,330.1 288.0,329.1 288.3,328.0 288.5,327.1 288.8,326.1 289.0,325.3 289.3,324.5 289.5,323.8 289.8,323.2 290.1,322.8 290.3,322.5 290.6,322.3 290.8,322.2 291.1,322.3 291.4,322.5 291.6,322.8 291.9,323.2 292.1,323.8 292.4,324.5 292.7,325.3 292.9,326.1 293.2,327.1 293.4,328.0 293.7,329.1 293.9,330.1 294.2,331.2 294.5,332.2 294.7,333.3 295.0,334.3 295.2,335.2 295.5,336.1 295.8,336.8 296.0,337.5 296.3,338.1 296.5,338.5 296.8,338.9 297.0,339.1 297.3,339.1 297.6,339.1 297.8,338.9 298.1,338.5 298.3,338.1 298.6,337.5 298.9,336.8 299.1,336.1 299.4,335.2 299.6,334.3 299.9,333.3 300.1,332.2 300.4,331.2 300.7,330.1 300.9,329.1 301.2,328.0 301.4,327.1 301.7,326.1 302.0,325.3 302.2,324.5 302.5,323.8 302.7,323.2 303.0,322.8 303.3,322.5 303.5,322.3 303.8,322.2 304.0,322.3 304.3,322.5 304.5,322.8 304.8,323.2 305.1,323.8 305.3,324.5 305.6,325.3 305.8,326.1 306.1,327.1 306.4,328.0 306.6,329.1 306.9,330.1 307.1,331.2 307.4,332.2 307.6,333.3 307.9,334.3 308.2,335.2 308.4,336.1 308.7,336.8 308.9,337.5 309.2,338.1 309.5,338.5 309.7,338.9 310.0,339.1 310.2,339.1 310.5,339.1 310.7,338.9 311.0,338.5 311.3,338.1 311.5,337.5 311.8,336.8 312.0,336.1 312.3,335.2 312.6,334.3 312.8,333.3 313.1,332.2 313.3,331.2 313.6,330.1 313.9,329.1 314.1,328.0 314.4,327.1 314.6,326.1 314.9,325.3 315.1,324.5 315.4,323.8 315.7,323.2 315.9,322.8 316.2,322.5 316.4,322.3 316.7,322.2 317.0,322.3 317.2,322.5 317.5,322.8 317.7,323.2 318.0,323.8 318.2,324.5 318.5,325.3 318.8,326.1 319.0,327.1 319.3,328.0 319.5,329.1 319.8,330.1 320.1,331.2 320.3,332.2 320.6,333.3 320.8,334.3 321.1,335.2 321.3,336.1 321.6,336.8 321.9,337.5 322.1,338.1 322.4,338.5 322.6,338.9 322.9,339.1 323.2,339.1 323.4,339.1 323.7,338.9 323.9,338.5 324.2,338.1 324.5,337.5 324.7,336.8 325.0,336.1 325.2,335.2 325.5,334.3 325.7,333.3 326.0,332.2 326.3,331.2 326.5,330.1 326.8,329.1 327.0,328.0 327.3,327.1 327.6,326.1 327.8,325.3 328.1,324.5 328.3,323.8 328.6,323.2 328.8,322.8 329.1,322.5 329.4,322.3 329.6,322.2 329.9,322.3 330.1,322.5 330.4,322.8 330.7,323.2 330.9,323.8 331.2,324.5 331.4,325.3 331.7,326.1 332.0,327.1 332.2,328.0 332.5,329.1 332.7,330.1 333.0,331.2 333.2,332.2 333.5,333.3 333.8,334.3 334.0,335.2 334.3,336.1 334.5,336.8 334.8,337.5 335.1,338.1 335.3,338.5 335.6,338.9 335.8,339.1 336.1,339.1 336.3,339.1 336.6,338.9 336.9,338.5 337.1,338.1 337.4,337.5 337.6,336.8 337.9,336.1 338.2,335.2 338.4,334.3 338.7,333.3 338.9,332.2 339.2,331.2 339.4,330.1 339.7,329.1 340.0,328.0 340.2,327.1 340.5,326.1 340.7,325.3 341.0,324.5 341.3,323.8 341.5,323.2 341.8,322.8 342.0,322.5 342.3,322.3 342.6,322.2 342.8,322.3 343.1,322.5 343.3,322.8 343.6,323.2 343.8,323.8 344.1,324.5 344.4,325.3 344.6,326.1 344.9,327.1 345.1,328.0 345.4,329.1 345.7,330.1 345.9,331.2 346.2,332.2 346.4,333.3 346.7,334.3 346.9,335.2 347.2,336.1 347.5,336.8 347.7,337.5 348.0,338.1 348.2,338.5 348.5,338.9 348.8,339.1 349.0,339.1 349.3,339.1 349.5,338.9 349.8,338.5 350.0,338.1 350.3,337.5 350.6,336.8 350.8,336.1 351.1,335.2 351.3,334.3 351.6,333.3 351.9,332.2 352.1,331.2 352.4,330.1 352.6,329.1 352.9,328.0 353.2,327.1 353.4,326.1 353.7,325.3 353.9,324.5 354.2,323.8 354.4,323.2 354.7,322.8 355.0,322.5 355.2,322.3 355.5,322.2 355.7,322.3 356.0,322.5 356.3,322.8 356.5,323.2 356.8,323.8 357.0,324.5 357.3,325.3 357.5,326.1 357.8,327.1 358.1,328.0 358.3,329.1 358.6,330.1 358.8,331.2 359.1,332.2 359.4,333.3 359.6,334.3 359.9,335.2 360.1,336.1 360.4,336.8 360.6,337.5 360.9,338.1 361.2,338.5 361.4,338.9 361.7,339.1 361.9,339.1 362.2,339.1 362.5,338.9 362.7,338.5 363.0,338.1 363.2,337.5 363.5,336.8 363.8,336.1 364.0,335.2 364.3,334.3 364.5,333.3 364.8,332.2 365.0,331.2 365.3,330.1 365.6,329.1 365.8,328.0 366.1,327.1 366.3,326.1 366.6,325.3 366.9,324.5 367.1,323.8 367.4,323.2 367.6,322.8 367.9,322.5 368.1,322.3 368.4,322.2 368.7,322.3 368.9,322.5 369.2,322.8 369.4,323.2 369.7,323.8 370.0,324.5 370.2,325.3 370.5,326.1 370.7,327.1 371.0,328.0 371.2,329.1 371.5,330.1 371.8,331.2 372.0,332.2 372.3,333.3 372.5,334.3 372.8,335.2 373.1,336.1 373.3,336.8 373.6,337.5 373.8,338.1 374.1,338.5 374.4,338.9 374.6,339.1 374.9,339.1 375.1,339.1 375.4,338.9 375.6,338.5 375.9,338.1 376.2,337.5 376.4,336.8 376.7,336.1 376.9,335.2 377.2,334.3 377.5,333.3 377.7,332.2 378.0,331.2 378.2,330.1 378.5,329.1 378.7,328.0 379.0,327.1 379.3,326.1 379.5,325.3 379.8,324.5 380.0,323.8 380.3,323.2 380.6,322.8 380.8,322.5 381.1,322.3 381.3,322.2 381.6,322.3 381.9,322.5 382.1,322.8 382.4,323.2 382.6,323.8 382.9,324.5 383.1,325.3 383.4,326.1 383.7,327.1 383.9,328.0 384.2,329.1 384.4,330.1 384.7,331.2 385.0,332.2 385.2,333.3 385.5,334.3 385.7,335.2 386.0,336.1 386.2,336.8 386.5,337.5 386.8,338.1 387.0,338.5 387.3,338.9 387.5,339.1 387.8,339.1 388.1,339.1 388.3,338.9 388.6,338.5 388.8,338.1 389.1,337.5 389.3,336.8 389.6,336.1 389.9,335.2 390.1,334.3 390.4,333.3 390.6,332.2 390.9,331.2 391.2,330.1 391.4,329.1 391.7,328.0 391.9,327.1 392.2,326.1 392.5,325.3 392.7,324.5 393.0,323.8 393.2,323.2 393.5,322.8 393.7,322.5 394.0,322.3 394.3,322.2 394.5,322.3 394.8,322.5 395.0,322.8 395.3,323.2 395.6,323.8 395.8,324.5 396.1,325.3 396.3,326.1 396.6,327.1 396.8,328.0 397.1,329.1 397.4,330.1 397.6,331.2 397.9,332.2 398.1,333.3 398.4,334.3 398.7,335.2 398.9,336.1 399.2,336.8 399.4,337.5 399.7,338.1 399.9,338.5 400.2,338.9 400.5,339.1 400.7,339.1 401.0,339.1 401.2,338.9 401.5,338.5 401.8,338.1 402.0,337.5 402.3,336.8 402.5,336.1 402.8,335.2 403.1,334.3 403.3,333.3 403.6,332.2 403.8,331.2 404.1,330.1 404.3,329.1 404.6,328.0 404.9,327.1 405.1,326.1 405.4,325.3 405.6,324.5 405.9,323.8 406.2,323.2 406.4,322.8 406.7,322.5 406.9,322.3 407.2,322.2 407.4,322.3 407.7,322.5 408.0,322.8 408.2,323.2 408.5,323.8 408.7,324.5 409.0,325.3 409.3,326.1 409.5,327.1 409.8,328.0 410.0,329.1 410.3,330.1 410.5,331.2 410.8,332.2 411.1,333.3 411.3,334.3 411.6,335.2 411.8,336.1 412.1,336.8 412.4,337.5 412.6,338.1 412.9,338.5 413.1,338.9 413.4,339.1 413.7,339.1 413.9,339.1 414.2,338.9 414.4,338.5 414.7,338.1 414.9,337.5 415.2,336.8 415.5,336.1 415.7,335.2 416.0,334.3 416.2,333.3 416.5,332.2 416.8,331.2 417.0,330.1 417.3,329.1 417.5,328.0 417.8,327.1 418.0,326.1 418.3,325.3 418.6,324.5 418.8,323.8 419.1,323.2 419.3,322.8 419.6,322.5 419.9,322.3 420.1,322.2 420.4,322.3 420.6,322.5 420.9,322.8 421.1,323.2 421.4,323.8 421.7,324.5 421.9,325.3 422.2,326.1 422.4,327.1 422.7,328.0 423.0,329.1 423.2,330.1 423.5,331.2 423.7,332.2 424.0,333.3 424.3,334.3 424.5,335.2 424.8,336.1 425.0,336.8 425.3,337.5 425.5,338.1 425.8,338.5 426.1,338.9 426.3,339.1 426.6,339.1 426.8,339.1 427.1,338.9 427.4,338.5 427.6,338.1 427.9,337.5 428.1,336.8 428.4,336.1 428.6,335.2 428.9,334.3 429.2,333.3 429.4,332.2 429.7,331.2 429.9,330.1 430.2,329.1 430.5,328.0 430.7,327.1 431.0,326.1 431.2,325.3 431.5,324.5 431.8,323.8 432.0,323.2 432.3,322.8 432.5,322.5 432.8,322.3 433.0,322.2 433.3,322.3 433.6,322.5 433.8,322.8 434.1,323.2 434.3,323.8 434.6,324.5 434.9,325.3 435.1,326.1 435.4,327.1 435.6,328.0 435.9,329.1 436.1,330.1 436.4,331.2 436.7,332.2 436.9,333.3 437.2,334.3 437.4,335.2 437.7,336.1 438.0,336.8 438.2,337.5 438.5,338.1 438.7,338.5 439.0,338.9 439.2,339.1 439.5,339.1 439.8,339.1 440.0,338.9 440.3,338.5 440.5,338.1 440.8,337.5 441.1,336.8 441.3,336.1 441.6,335.2 441.8,334.3 442.1,333.3 442.4,332.2 442.6,331.2 442.9,330.1 443.1,329.1 443.4,328.0 443.6,327.1 443.9,326.1 444.2,325.3 444.4,324.5 444.7,323.8 444.9,323.2 445.2,322.8 445.5,322.5 445.7,322.3 446.0,322.2 446.2,322.3 446.5,322.5 446.7,322.8 447.0,323.2 447.3,323.8 447.5,324.5 447.8,325.3 448.0,326.1 448.3,327.1 448.6,328.0 448.8,329.1 449.1,330.1 449.3,331.2 449.6,332.2 449.8,333.3 450.1,334.3 450.4,335.2 450.6,336.1 450.9,336.8 451.1,337.5 451.4,338.1 451.7,338.5 451.9,338.9 452.2,339.1 452.4,339.1 452.7,339.1 453.0,338.9 453.2,338.5 453.5,338.1 453.7,337.5 454.0,336.8 454.2,336.1 454.5,335.2 454.8,334.3 455.0,333.3 455.3,332.2 455.5,331.2 455.8,330.1 456.1,329.1 456.3,328.0 456.6,327.1 456.8,326.1 457.1,325.3 457.3,324.5 457.6,323.8 457.9,323.2 458.1,322.8 458.4,322.5 458.6,322.3 458.9,322.2 459.2,322.3 459.4,322.5 459.7,322.8 459.9,323.2 460.2,323.8 460.4,324.5 460.7,325.3 461.0,326.1 461.2,327.1 461.5,328.0 461.7,329.1 462.0,330.1 462.3,331.2 462.5,332.2 462.8,333.3 463.0,334.3 463.3,335.2 463.6,336.1 463.8,336.8 464.1,337.5 464.3,338.1 464.6,338.5 464.8,338.9 465.1,339.1 465.4,339.1 465.6,339.1 465.9,338.9 466.1,338.5 466.4,338.1 466.7,337.5 466.9,336.8 467.2,336.1 467.4,335.2 467.7,334.3 467.9,333.3 468.2,332.2 468.5,331.2 468.7,330.1 469.0,329.1 469.2,328.0 469.5,327.1 469.8,326.1 470.0,325.3 470.3,324.5 470.5,323.8 470.8,323.2 471.1,322.8 471.3,322.5 471.6,322.3 471.8,322.2 472.1,322.3 472.3,322.5 472.6,322.8 472.9,323.2 473.1,323.8 473.4,324.5 473.6,325.3 473.9,326.1 474.2,327.1 474.4,328.0 474.7,329.1 474.9,330.1 475.2,331.2 475.4,332.2 475.7,333.3 476.0,334.3 476.2,335.2 476.5,336.1 476.7,336.8 477.0,337.5 477.3,338.1 477.5,338.5 477.8,338.9 478.0,339.1 478.3,339.1 478.5,339.1 478.8,338.9 479.1,338.5 479.3,338.1 479.6,337.5 479.8,336.8 480.1,336.1 480.4,335.2 480.6,334.3 480.9,333.3 481.1,332.2 481.4,331.2 481.7,330.1 481.9,329.1 482.2,328.0 482.4,327.1 482.7,326.1 482.9,325.3 483.2,324.5 483.5,323.8 483.7,323.2 484.0,322.8 484.2,322.5 484.5,322.3 484.8,322.2 485.0,322.3 485.3,322.5 485.5,322.8 485.8,323.2 486.0,323.8 486.3,324.5 486.6,325.3 486.8,326.1 487.1,327.1 487.3,328.0 487.6,329.1 487.9,330.1 488.1,331.2 488.4,332.2 488.6,333.3 488.9,334.3 489.1,335.2 489.4,336.1 489.7,336.8 489.9,337.5 490.2,338.1 490.4,338.5 490.7,338.9 491.0,339.1 491.2,339.1 491.5,339.1 491.7,338.9 492.0,338.5 492.3,338.1 492.5,337.5 492.8,336.8 493.0,336.1 493.3,335.2 493.5,334.3 493.8,333.3 494.1,332.2 494.3,331.2 494.6,330.1 494.8,329.1 495.1,328.0 495.4,327.1 495.6,326.1 495.9,325.3 496.1,324.5 496.4,323.8 496.6,323.2 496.9,322.8 497.2,322.5 497.4,322.3 497.7,322.2 497.9,322.3 498.2,322.5 498.5,322.8 498.7,323.2 499.0,323.8 499.2,324.5 499.5,325.3 499.7,326.1 500.0,327.1 500.3,328.0 500.5,329.1 500.8,330.1 501.0,331.2 501.3,332.2 501.6,333.3 501.8,334.3 502.1,335.2 502.3,336.1 502.6,336.8 502.9,337.5 503.1,338.1 503.4,338.5 503.6,338.9 503.9,339.1 504.1,339.1 504.4,339.1 504.7,338.9 504.9,338.5 505.2,338.1 505.4,337.5 505.7,336.8 506.0,336.1 506.2,335.2 506.5,334.3 506.7,333.3 507.0,332.2 507.2,331.2 507.5,330.1 507.8,329.1 508.0,328.0 508.3,327.1 508.5,326.1 508.8,325.3 509.1,324.5 509.3,323.8 509.6,323.2 509.8,322.8 510.1,322.5 510.3,322.3 510.6,322.2 510.9,322.3 511.1,322.5 511.4,322.8 511.6,323.2 511.9,323.8 512.2,324.5 512.4,325.3 512.7,326.1 512.9,327.1 513.2,328.0 513.5,329.1 513.7,330.1 514.0,331.2 514.2,332.2 514.5,333.3 514.7,334.3 515.0,335.2 515.3,336.1 515.5,336.8 515.8,337.5 516.0,338.1 516.3,338.5 516.6,338.9 516.8,339.1 517.1,339.1 517.3,339.1 517.6,338.9 517.8,338.5 518.1,338.1 518.4,337.5 518.6,336.8 518.9,336.1 519.1,335.2 519.4,334.3 519.7,333.3 519.9,332.2 520.2,331.2 520.4,330.1 520.7,329.1 521.0,328.0 521.2,327.1 521.5,326.1 521.7,325.3 522.0,324.5 522.2,323.8 522.5,323.2 522.8,322.8 523.0,322.5 523.3,322.3 523.5,322.2 523.8,322.3 524.1,322.5 524.3,322.8 524.6,323.2 524.8,323.8 525.1,324.5 525.3,325.3 525.6,326.1 525.9,327.1 526.1,328.0 526.4,329.1 526.6,330.1 526.9,331.2 527.2,332.2 527.4,333.3 527.7,334.3 527.9,335.2 528.2,336.1 528.4,336.8 528.7,337.5 529.0,338.1 529.2,338.5 529.5,338.9 529.7,339.1 530.0,339.1 530.3,339.1 530.5,338.9 530.8,338.5 531.0,338.1 531.3,337.5 531.6,336.8 531.8,336.1 532.1,335.2 532.3,334.3 532.6,333.3 532.8,332.2 533.1,331.2 533.4,330.1 533.6,329.1 533.9,328.0 534.1,327.1 534.4,326.1 534.7,325.3 534.9,324.5 535.2,323.8 535.4,323.2 535.7,322.8 535.9,322.5 536.2,322.3 536.5,322.2 536.7,322.3 537.0,322.5 537.2,322.8 537.5,323.2 537.8,323.8 538.0,324.5 538.3,325.3 538.5,326.1 538.8,327.1 539.0,328.0 539.3,329.1 539.6,330.1 539.8,331.2 540.1,332.2 540.3,333.3 540.6,334.3"/>
<polyline fill="none" stroke="#b02020" stroke-width="1.7" points="23.5,238.9 24.1,238.9 24.8,238.9 25.4,238.9 26.1,238.9 26.7,238.9 27.4,238.8 28.0,238.7 28.7,238.7 29.3,238.6 30.0,238.5 30.6,238.4 31.3,238.3 31.9,238.2 32.5,238.1 33.2,238.1 33.8,238.0 34.5,238.0 35.1,238.0 35.8,238.0 36.4,238.0 37.1,238.1 37.7,238.1 38.4,238.1 39.0,238.1 39.7,238.0 40.3,238.0 41.0,237.9 41.6,237.8 42.2,237.7 42.9,237.6 43.5,237.5 44.2,237.5 44.8,237.4 45.5,237.3 46.1,237.3 46.8,237.2 47.4,237.2 48.1,237.2 48.7,237.2 49.4,237.2 50.0,237.3 50.6,237.3 51.3,237.3 51.9,237.3 52.6,237.2 53.2,237.2 53.9,237.1 54.5,237.0 55.2,237.0 55.8,236.9 56.5,236.8 57.1,236.7 57.8,236.6 58.4,236.5 59.1,236.5 59.7,236.5 60.3,236.4 61.0,236.5 61.6,236.5 62.3,236.5 62.9,236.5 63.6,236.5 64.2,236.5 64.9,236.5 65.5,236.5 66.2,236.4 66.8,236.4 67.5,236.3 68.1,236.2 68.7,236.1 69.4,236.0 70.0,235.9 70.7,235.9 71.3,235.8 72.0,235.8 72.6,235.7 73.3,235.7 73.9,235.7 74.6,235.8 75.2,235.8 75.9,235.8 76.5,235.8 77.1,235.8 77.8,235.8 78.4,235.8 79.1,235.7 79.7,235.7 80.4,235.6 81.0,235.5 81.7,235.4 82.3,235.3 83.0,235.3 83.6,235.2 84.3,235.1 84.9,235.1 85.6,235.1 86.2,235.1 86.8,235.1 87.5,235.1 88.1,235.1 88.8,235.1 89.4,235.1 90.1,235.2 90.7,235.2 91.4,235.1 92.0,235.1 92.7,235.0 93.3,235.0 94.0,234.9 94.6,234.8 95.2,234.7 95.9,234.6 96.5,234.5 97.2,234.5 97.8,234.4 98.5,234.4 99.1,234.4 99.8,234.4 100.4,234.4 101.1,234.5 101.7,234.5 102.4,234.5 103.0,234.5 103.7,234.5 104.3,234.5 104.9,234.5 105.6,234.4 106.2,234.3 106.9,234.3 107.5,234.2 108.2,234.1 108.8,234.0 109.5,233.9 110.1,233.9 110.8,233.8 111.4,233.8 112.1,233.8 112.7,233.8 113.3,233.8 114.0,233.9 114.6,233.9 115.3,233.9 115.9,233.9 116.6,233.9 117.2,233.9 117.9,233.9 118.5,233.8 119.2,233.8 119.8,233.7 120.5,233.6 121.1,233.5 121.7,233.4 122.4,233.4 123.0,233.3 123.7,233.3 124.3,233.2 125.0,233.2 125.6,233.3 126.3,233.3 126.9,233.3 127.6,233.3 128.2,233.4 128.9,233.4 129.5,233.4 130.2,233.4 130.8,233.3 131.4,233.3 132.1,233.2 132.7,233.1 133.4,233.0 134.0,233.0 134.7,232.9 135.3,232.8 136.0,232.8 136.6,232.7 137.3,232.7 137.9,232.7 138.6,232.7 139.2,232.7 139.8,232.8 140.5,232.8 141.1,232.8 141.8,232.9 142.4,232.9 143.1,232.8 143.7,232.8 144.4,232.7 145.0,232.7 145.7,232.6 146.3,232.5 147.0,232.4 147.6,232.4 148.3,232.3 148.9,232.2 149.5,232.2 150.2,232.2 150.8,232.2 151.5,232.2 152.1,232.2 152.8,232.3 153.4,232.3 154.1,232.3 154.7,232.4 155.4,232.4 156.0,232.3 156.7,232.3 157.3,232.3 157.9,232.2 158.6,232.1 159.2,232.0 159.9,232.0 160.5,231.9 161.2,231.8 161.8,231.8 162.5,231.7 163.1,231.7 163.8,231.7 164.4,231.7 165.1,231.8 165.7,231.8 166.3,231.8 167.0,231.9 167.6,231.9 168.3,231.9 168.9,231.9 169.6,231.8 170.2,231.8 170.9,231.7 171.5,231.7 172.2,231.6 172.8,231.5 173.5,231.4 174.1,231.4 174.8,231.3 175.4,231.3 176.0,231.3 176.7,231.3 177.3,231.3 178.0,231.3 178.6,231.4 179.3,231.4 179.9,231.4 180.6,231.4 181.2,231.4 181.9,231.4 182.5,231.4 183.2,231.4 183.8,231.3 184.4,231.2 185.1,231.1 185.7,231.1 186.4,231.0 187.0,230.9 187.7,230.9 188.3,230.9 189.0,230.8 189.6,230.8 190.3,230.9 190.9,230.9 191.6,230.9 192.2,231.0 192.9,231.0 193.5,231.0 194.1,231.0 194.8,231.0 195.4,231.0 196.1,230.9 196.7,230.9 197.4,230.8 198.0,230.7 198.7,230.7 199.3,230.6 200.0,230.5 200.6,230.5 201.3,230.5 201.9,230.4 202.5,230.4 203.2,230.5 203.8,230.5 204.5,230.5 205.1,230.6 205.8,230.6 206.4,230.6 207.1,230.6 207.7,230.6 208.4,230.6 209.0,230.6 209.7,230.5 210.3,230.4 210.9,230.4 211.6,230.3 212.2,230.2 212.9,230.1 213.5,230.1 214.2,230.1 214.8,230.1 215.5,230.1 216.1,230.1 216.8,230.1 217.4,230.2 218.1,230.2 218.7,230.2 219.4,230.3 220.0,230.3 220.6,230.3 221.3,230.2 221.9,230.2 222.6,230.1 223.2,230.1 223.9,230.0 224.5,229.9 225.2,229.8 225.8,229.8 226.5,229.7 227.1,229.7 227.8,229.7 228.4,229.7 229.0,229.7 229.7,229.8 230.3,229.8 231.0,229.9 231.6,229.9 232.3,229.9 232.9,229.9 233.6,229.9 234.2,229.9 234.9,229.8 235.5,229.8 236.2,229.7 236.8,229.6 237.5,229.6 238.1,229.5 238.7,229.4 239.4,229.4 240.0,229.4 240.7,229.4 241.3,229.4 242.0,229.4 242.6,229.4 243.3,229.5 243.9,229.5 244.6,229.6 245.2,229.6 245.9,229.6 246.5,229.6 247.1,229.6 247.8,229.5 248.4,229.5 249.1,229.4 249.7,229.3 250.4,229.3 251.0,229.2 251.7,229.1 252.3,229.1 253.0,229.1 253.6,229.1 254.3,229.1 254.9,229.1 255.5,229.1 256.2,229.2 256.8,229.2 257.5,229.3 258.1,229.3 258.8,229.3 259.4,229.3 260.1,229.3 260.7,229.2 261.4,229.2 262.0,229.1 262.7,229.0 263.3,229.0 264.0,228.9 264.6,228.8 265.2,228.8 265.9,228.8 266.5,228.8 267.2,228.8 267.8,228.8 268.5,228.8 269.1,228.9 269.8,228.9 270.4,229.0 271.1,229.0 271.7,229.0 272.4,229.0 273.0,229.0 273.6,228.9 274.3,228.9 274.9,228.8 275.6,228.7 276.2,228.7 276.9,228.6 277.5,228.5 278.2,228.5 278.8,228.5 279.5,228.5 280.1,228.5 280.8,228.5 281.4,228.6 282.1,228.6 282.7,228.6 283.3,228.7 284.0,228.7 284.6,228.7 285.3,228.7 285.9,228.7 286.6,228.7 287.2,228.6 287.9,228.5 288.5,228.5 289.2,228.4 289.8,228.3 290.5,228.3 291.1,228.2 291.7,228.2 292.4,228.2 293.0,228.2 293.7,228.3 294.3,228.3 295.0,228.3 295.6,228.4 296.3,228.4 296.9,228.4 297.6,228.5 298.2,228.5 298.9,228.4 299.5,228.4 300.1,228.3 300.8,228.3 301.4,228.2 302.1,228.1 302.7,228.1 303.4,228.0 304.0,228.0 304.7,228.0 305.3,228.0 306.0,228.0 306.6,228.0 307.3,228.0 307.9,228.1 308.6,228.1 309.2,228.2 309.8,228.2 310.5,228.2 311.1,228.2 311.8,228.2 312.4,228.2 313.1,228.1 313.7,228.0 314.4,228.0 315.0,227.9 315.7,227.8 316.3,227.8 317.0,227.7 317.6,227.7 318.2,227.7 318.9,227.7 319.5,227.8 320.2,227.8 320.8,227.9 321.5,227.9 322.1,227.9 322.8,228.0 323.4,228.0 324.1,228.0 324.7,228.0 325.4,227.9 326.0,227.9 326.6,227.8 327.3,227.7 327.9,227.7 328.6,227.6 329.2,227.6 329.9,227.5 330.5,227.5 331.2,227.5 331.8,227.5 332.5,227.5 333.1,227.6 333.8,227.6 334.4,227.7 335.1,227.7 335.7,227.8 336.3,227.8 337.0,227.8 337.6,227.7 338.3,227.7 338.9,227.7 339.6,227.6 340.2,227.5 340.9,227.5 341.5,227.4 342.2,227.3 342.8,227.3 343.5,227.3 344.1,227.3 344.7,227.3 345.4,227.3 346.0,227.4 346.7,227.4 347.3,227.5 348.0,227.5 348.6,227.5 349.3,227.6 349.9,227.6 350.6,227.5 351.2,227.5 351.9,227.5 352.5,227.4 353.2,227.3 353.8,227.3 354.4,227.2 355.1,227.1 355.7,227.1 356.4,227.1 357.0,227.1 357.7,227.1 358.3,227.1 359.0,227.2 359.6,227.2 360.3,227.3 360.9,227.3 361.6,227.4 362.2,227.4 362.8,227.4 363.5,227.4 364.1,227.3 364.8,227.3 365.4,227.2 366.1,227.1 366.7,227.1 367.4,227.0 368.0,227.0 368.7,226.9 369.3,226.9 370.0,226.9 370.6,226.9 371.2,227.0 371.9,227.0 372.5,227.0 373.2,227.1 373.8,227.1 374.5,227.2 375.1,227.2 375.8,227.2 376.4,227.2 377.1,227.1 377.7,227.1 378.4,227.0 379.0,227.0 379.7,226.9 380.3,226.8 380.9,226.8 381.6,226.7 382.2,226.7 382.9,226.7 383.5,226.8 384.2,226.8 384.8,226.8 385.5,226.9 386.1,226.9 386.8,227.0 387.4,227.0 388.1,227.0 388.7,227.0 389.3,227.0 390.0,227.0 390.6,226.9 391.3,226.9 391.9,226.8 392.6,226.7 393.2,226.7 393.9,226.6 394.5,226.6 395.2,226.6 395.8,226.6 396.5,226.6 397.1,226.6 397.8,226.7 398.4,226.7 399.0,226.8 399.7,226.8 400.3,226.8 401.0,226.9 401.6,226.9 402.3,226.8 402.9,226.8 403.6,226.8 404.2,226.7 404.9,226.6 405.5,226.6 406.2,226.5 406.8,226.5 407.4,226.4 408.1,226.4 408.7,226.4 409.4,226.4 410.0,226.5 410.7,226.5 411.3,226.6 412.0,226.6 412.6,226.7 413.3,226.7 413.9,226.7 414.6,226.7 415.2,226.7 415.8,226.7 416.5,226.6 417.1,226.5 417.8,226.5 418.4,226.4 419.1,226.4 419.7,226.3 420.4,226.3 421.0,226.3 421.7,226.3 422.3,226.3 423.0,226.3 423.6,226.4 424.3,226.4 424.9,226.5 425.5,226.5 426.2,226.5 426.8,226.6 427.5,226.6 428.1,226.5 428.8,226.5 429.4,226.5 430.1,226.4 430.7,226.3 431.4,226.3 432.0,226.2 432.7,226.2 433.3,226.1 433.9,226.1 434.6,226.1 435.2,226.1 435.9,226.2 436.5,226.2 437.2,226.3 437.8,226.3 438.5,226.4 439.1,226.4 439.8,226.4 440.4,226.4 441.1,226.4 441.7,226.4 442.4,226.3 443.0,226.3 443.6,226.2 444.3,226.1 444.9,226.1 445.6,226.0 446.2,226.0 446.9,226.0 447.5,226.0 448.2,226.0 448.8,226.0 449.5,226.1 450.1,226.1 450.8,226.2 451.4,226.2 452.0,226.3 452.7,226.3 453.3,226.3 454.0,226.3 454.6,226.3 455.3,226.2 455.9,226.1 456.6,226.1 457.2,226.0 457.9,226.0 458.5,225.9 459.2,225.9 459.8,225.9 460.4,225.9 461.1,225.9 461.7,225.9 462.4,226.0 463.0,226.0 463.7,226.1 464.3,226.1 465.0,226.2 465.6,226.2 466.3,226.2 466.9,226.2 467.6,226.1 468.2,226.1 468.9,226.0 469.5,226.0 470.1,225.9 470.8,225.8 471.4,225.8 472.1,225.8 472.7,225.7 473.4,225.8 474.0,225.8 474.7,225.8 475.3,225.9 476.0,225.9 476.6,226.0 477.3,226.0 477.9,226.0 478.5,226.1 479.2,226.1 479.8,226.1 480.5,226.0 481.1,226.0 481.8,225.9 482.4,225.9 483.1,225.8 483.7,225.7 484.4,225.7 485.0,225.7 485.7,225.6 486.3,225.6 487.0,225.7 487.6,225.7 488.2,225.7 488.9,225.8 489.5,225.9 490.2,225.9 490.8,225.9 491.5,226.0 492.1,226.0 492.8,225.9 493.4,225.9 494.1,225.9 494.7,225.8 495.4,225.7 496.0,225.7 496.6,225.6 497.3,225.6 497.9,225.5 498.6,225.5 499.2,225.5 499.9,225.6 500.5,225.6 501.2,225.6 501.8,225.7 502.5,225.7 503.1,225.8 503.8,225.8 504.4,225.9 505.0,225.9 505.7,225.8 506.3,225.8 507.0,225.8 507.6,225.7 508.3,225.6 508.9,225.6 509.6,225.5 510.2,225.5 510.9,225.5 511.5,225.4 512.2,225.4 512.8,225.5 513.5,225.5 514.1,225.5 514.7,225.6 515.4,225.7 516.0,225.7 516.7,225.7 517.3,225.8 518.0,225.8 518.6,225.7 519.3,225.7 519.9,225.7 520.6,225.6 521.2,225.6 521.9,225.5 522.5,225.4 523.1,225.4 523.8,225.4 524.4,225.3 525.1,225.3 525.7,225.4 526.4,225.4 527.0,225.5 527.7,225.5 528.3,225.6 529.0,225.6 529.6,225.6 530.3,225.7 530.9,225.7 531.6,225.7 532.2,225.6 532.8,225.6 533.5,225.5 534.1,225.5 534.8,225.4 535.4,225.3 536.1,225.3 536.7,225.3 537.4,225.3 538.0,225.3 538.7,225.3 539.3,225.3 540.0,225.4 540.6,225.4"/>
<polyline fill="none" stroke="#12127c" stroke-width="1.75" points="23.5,238.5 23.5,236.5 23.9,236.8 24.3,237.0 24.7,237.2 25.1,237.4 25.4,237.4 25.8,237.4 26.2,237.4 26.6,237.3 27.0,237.1 27.4,236.8 27.8,236.5 28.2,236.2 28.5,235.9 28.9,235.5 29.3,235.1 29.7,234.8 30.1,234.4 30.5,234.1 30.9,233.8 31.3,233.6 31.6,233.4 32.0,233.3 32.4,233.3 32.8,233.3 33.2,233.4 33.6,233.6 34.0,233.8 34.4,234.0 34.7,234.3 35.1,234.6 35.5,235.0 35.9,235.3 36.3,235.6 36.7,235.9 37.1,236.1 37.5,236.3 37.8,236.5 38.2,236.6 38.6,236.6 39.0,236.6 39.4,236.5 39.8,236.3 40.2,236.1 40.6,235.8 41.0,235.5 41.3,235.2 41.7,234.8 42.1,234.4 42.5,234.1 42.9,233.7 43.3,233.4 43.7,233.1 44.1,232.9 44.4,232.7 44.8,232.6 45.2,232.5 45.6,232.5 46.0,232.6 46.4,232.7 46.8,232.9 47.2,233.2 47.5,233.4 47.9,233.7 48.3,234.1 48.7,234.4 49.1,234.7 49.5,235.0 49.9,235.3 50.3,235.5 50.6,235.7 51.0,235.8 51.4,235.8 51.8,235.8 52.2,235.8 52.6,235.6 53.0,235.4 53.4,235.2 53.8,234.9 54.1,234.5 54.5,234.2 54.9,233.8 55.3,233.4 55.7,233.1 56.1,232.7 56.5,232.4 56.9,232.2 57.2,232.0 57.6,231.9 58.0,231.8 58.4,231.8 58.8,231.8 59.2,231.9 59.6,232.1 60.0,232.3 60.3,232.6 60.7,232.9 61.1,233.2 61.5,233.6 61.9,233.9 62.3,234.2 62.7,234.5 63.1,234.7 63.4,234.9 63.8,235.0 64.2,235.1 64.6,235.1 65.0,235.1 65.4,235.0 65.8,234.8 66.2,234.5 66.5,234.3 66.9,233.9 67.3,233.6 67.7,233.2 68.1,232.9 68.5,232.5 68.9,232.2 69.3,231.8 69.7,231.6 70.0,231.4 70.4,231.2 70.8,231.1 71.2,231.1 71.6,231.1 72.0,231.2 72.4,231.4 72.8,231.6 73.1,231.8 73.5,232.1 73.9,232.4 74.3,232.8 74.7,233.1 75.1,233.4 75.5,233.7 75.9,234.0 76.2,234.2 76.6,234.3 77.0,234.4 77.4,234.5 77.8,234.4 78.2,234.3 78.6,234.2 79.0,234.0 79.3,233.7 79.7,233.4 80.1,233.1 80.5,232.7 80.9,232.3 81.3,232.0 81.7,231.6 82.1,231.3 82.4,231.0 82.8,230.8 83.2,230.6 83.6,230.5 84.0,230.4 84.4,230.4 84.8,230.5 85.2,230.7 85.6,230.9 85.9,231.1 86.3,231.4 86.7,231.7 87.1,232.0 87.5,232.4 87.9,232.7 88.3,233.0 88.7,233.3 89.0,233.5 89.4,233.7 89.8,233.8 90.2,233.9 90.6,233.8 91.0,233.8 91.4,233.6 91.8,233.4 92.1,233.2 92.5,232.9 92.9,232.6 93.3,232.2 93.7,231.8 94.1,231.5 94.5,231.1 94.9,230.8 95.2,230.5 95.6,230.3 96.0,230.1 96.4,229.9 96.8,229.8 97.2,229.8 97.6,229.9 98.0,230.0 98.4,230.2 98.7,230.4 99.1,230.7 99.5,231.0 99.9,231.3 100.3,231.7 100.7,232.0 101.1,232.3 101.5,232.6 101.8,232.8 102.2,233.0 102.6,233.2 103.0,233.3 103.4,233.3 103.8,233.2 104.2,233.1 104.6,232.9 104.9,232.7 105.3,232.4 105.7,232.1 106.1,231.8 106.5,231.4 106.9,231.0 107.3,230.7 107.7,230.3 108.0,230.0 108.4,229.8 108.8,229.6 109.2,229.4 109.6,229.3 110.0,229.3 110.4,229.3 110.8,229.4 111.1,229.6 111.5,229.8 111.9,230.1 112.3,230.4 112.7,230.7 113.1,231.0 113.5,231.3 113.9,231.7 114.3,232.0 114.6,232.2 115.0,232.4 115.4,232.6 115.8,232.7 116.2,232.7 116.6,232.7 117.0,232.6 117.4,232.5 117.7,232.3 118.1,232.0 118.5,231.7 118.9,231.4 119.3,231.0 119.7,230.6 120.1,230.3 120.5,229.9 120.8,229.6 121.2,229.3 121.6,229.1 122.0,228.9 122.4,228.8 122.8,228.8 123.2,228.8 123.6,228.9 123.9,229.0 124.3,229.2 124.7,229.5 125.1,229.7 125.5,230.1 125.9,230.4 126.3,230.7 126.7,231.1 127.0,231.4 127.4,231.6 127.8,231.9 128.2,232.0 128.6,232.2 129.0,232.2 129.4,232.2 129.8,232.2 130.2,232.0 130.5,231.8 130.9,231.6 131.3,231.3 131.7,231.0 132.1,230.6 132.5,230.3 132.9,229.9 133.3,229.5 133.6,229.2 134.0,228.9 134.4,228.7 134.8,228.5 135.2,228.4 135.6,228.3 136.0,228.3 136.4,228.3 136.7,228.5 137.1,228.7 137.5,228.9 137.9,229.2 138.3,229.5 138.7,229.8 139.1,230.1 139.5,230.5 139.8,230.8 140.2,231.1 140.6,231.3 141.0,231.5 141.4,231.7 141.8,231.8 142.2,231.8 142.6,231.7 143.0,231.6 143.3,231.4 143.7,231.2 144.1,230.9 144.5,230.6 144.9,230.3 145.3,229.9 145.7,229.6 146.1,229.2 146.4,228.9 146.8,228.6 147.2,228.3 147.6,228.1 148.0,227.9 148.4,227.9 148.8,227.8 149.2,227.9 149.5,228.0 149.9,228.1 150.3,228.4 150.7,228.6 151.1,228.9 151.5,229.3 151.9,229.6 152.3,229.9 152.6,230.2 153.0,230.5 153.4,230.8 153.8,231.0 154.2,231.2 154.6,231.3 155.0,231.3 155.4,231.3 155.7,231.2 156.1,231.1 156.5,230.9 156.9,230.6 157.3,230.3 157.7,230.0 158.1,229.6 158.5,229.3 158.9,228.9 159.2,228.6 159.6,228.2 160.0,228.0 160.4,227.7 160.8,227.6 161.2,227.5 161.6,227.4 162.0,227.4 162.3,227.5 162.7,227.7 163.1,227.9 163.5,228.1 163.9,228.4 164.3,228.7 164.7,229.1 165.1,229.4 165.4,229.7 165.8,230.0 166.2,230.3 166.6,230.6 167.0,230.7 167.4,230.9 167.8,230.9 168.2,230.9 168.5,230.9 168.9,230.7 169.3,230.5 169.7,230.3 170.1,230.0 170.5,229.7 170.9,229.3 171.3,229.0 171.6,228.6 172.0,228.3 172.4,228.0 172.8,227.7 173.2,227.4 173.6,227.2 174.0,227.1 174.4,227.0 174.8,227.0 175.1,227.1 175.5,227.2 175.9,227.4 176.3,227.6 176.7,227.9 177.1,228.2 177.5,228.6 177.9,228.9 178.2,229.2 178.6,229.6 179.0,229.9 179.4,230.1 179.8,230.3 180.2,230.5 180.6,230.5 181.0,230.6 181.3,230.5 181.7,230.4 182.1,230.2 182.5,230.0 182.9,229.7 183.3,229.4 183.7,229.1 184.1,228.7 184.4,228.4 184.8,228.0 185.2,227.7 185.6,227.4 186.0,227.1 186.4,226.9 186.8,226.8 187.2,226.7 187.5,226.7 187.9,226.7 188.3,226.8 188.7,227.0 189.1,227.2 189.5,227.5 189.9,227.8 190.3,228.1 190.7,228.4 191.0,228.8 191.4,229.1 191.8,229.4 192.2,229.7 192.6,229.9 193.0,230.1 193.4,230.2 193.8,230.2 194.1,230.2 194.5,230.1 194.9,230.0 195.3,229.8 195.7,229.5 196.1,229.2 196.5,228.9 196.9,228.5 197.2,228.2 197.6,227.8 198.0,227.5 198.4,227.1 198.8,226.9 199.2,226.6 199.6,226.5 200.0,226.4 200.3,226.3 200.7,226.4 201.1,226.4 201.5,226.6 201.9,226.8 202.3,227.0 202.7,227.3 203.1,227.7 203.5,228.0 203.8,228.3 204.2,228.7 204.6,229.0 205.0,229.3 205.4,229.5 205.8,229.7 206.2,229.8 206.6,229.9 206.9,229.9 207.3,229.8 207.7,229.7 208.1,229.5 208.5,229.3 208.9,229.0 209.3,228.7 209.7,228.3 210.0,228.0 210.4,227.6 210.8,227.2 211.2,226.9 211.6,226.6 212.0,226.4 212.4,226.2 212.8,226.1 213.1,226.0 213.5,226.0 213.9,226.1 214.3,226.2 214.7,226.4 215.1,226.6 215.5,226.9 215.9,227.2 216.2,227.6 216.6,227.9 217.0,228.3 217.4,228.6 217.8,228.9 218.2,229.1 218.6,229.3 219.0,229.5 219.4,229.6 219.7,229.6 220.1,229.5 220.5,229.4 220.9,229.3 221.3,229.0 221.7,228.8 222.1,228.5 222.5,228.1 222.8,227.8 223.2,227.4 223.6,227.1 224.0,226.7 224.4,226.4 224.8,226.2 225.2,226.0 225.6,225.8 225.9,225.7 226.3,225.7 226.7,225.8 227.1,225.9 227.5,226.0 227.9,226.3 228.3,226.5 228.7,226.8 229.0,227.2 229.4,227.5 229.8,227.9 230.2,228.2 230.6,228.5 231.0,228.8 231.4,229.0 231.8,229.1 232.1,229.3 232.5,229.3 232.9,229.3 233.3,229.2 233.7,229.1 234.1,228.8 234.5,228.6 234.9,228.3 235.3,228.0 235.6,227.6 236.0,227.3 236.4,226.9 236.8,226.6 237.2,226.3 237.6,226.0 238.0,225.8 238.4,225.6 238.7,225.5 239.1,225.4 239.5,225.5 239.9,225.6 240.3,225.7 240.7,225.9 241.1,226.2 241.5,226.5 241.8,226.8 242.2,227.1 242.6,227.5 243.0,227.8 243.4,228.1 243.8,228.4 244.2,228.6 244.6,228.8 244.9,229.0 245.3,229.0 245.7,229.0 246.1,229.0 246.5,228.8 246.9,228.7 247.3,228.4 247.7,228.1 248.1,227.8 248.4,227.5 248.8,227.1 249.2,226.8 249.6,226.4 250.0,226.1 250.4,225.8 250.8,225.6 251.2,225.4 251.5,225.3 251.9,225.2 252.3,225.2 252.7,225.3 253.1,225.4 253.5,225.6 253.9,225.8 254.3,226.1 254.6,226.4 255.0,226.8 255.4,227.1 255.8,227.4 256.2,227.8 256.6,228.1 257.0,228.3 257.4,228.5 257.7,228.7 258.1,228.8 258.5,228.8 258.9,228.8 259.3,228.7 259.7,228.5 260.1,228.3 260.5,228.0 260.8,227.7 261.2,227.4 261.6,227.0 262.0,226.6 262.4,226.3 262.8,226.0 263.2,225.7 263.6,225.4 264.0,225.2 264.3,225.1 264.7,225.0 265.1,225.0 265.5,225.0 265.9,225.1 266.3,225.3 266.7,225.5 267.1,225.8 267.4,226.1 267.8,226.4 268.2,226.8 268.6,227.1 269.0,227.4 269.4,227.7 269.8,228.0 270.2,228.2 270.5,228.4 270.9,228.5 271.3,228.6 271.7,228.6 272.1,228.5 272.5,228.3 272.9,228.1 273.3,227.9 273.6,227.6 274.0,227.2 274.4,226.9 274.8,226.5 275.2,226.2 275.6,225.8 276.0,225.5 276.4,225.3 276.7,225.0 277.1,224.9 277.5,224.8 277.9,224.7 278.3,224.8 278.7,224.9 279.1,225.0 279.5,225.2 279.9,225.5 280.2,225.8 280.6,226.1 281.0,226.4 281.4,226.8 281.8,227.1 282.2,227.4 282.6,227.7 283.0,228.0 283.3,228.1 283.7,228.3 284.1,228.3 284.5,228.4 284.9,228.3 285.3,228.2 285.7,228.0 286.1,227.7 286.4,227.5 286.8,227.1 287.2,226.8 287.6,226.4 288.0,226.1 288.4,225.7 288.8,225.4 289.2,225.1 289.5,224.9 289.9,224.7 290.3,224.6 290.7,224.5 291.1,224.5 291.5,224.6 291.9,224.8 292.3,224.9 292.7,225.2 293.0,225.5 293.4,225.8 293.8,226.1 294.2,226.5 294.6,226.8 295.0,227.1 295.4,227.4 295.8,227.7 296.1,227.9 296.5,228.0 296.9,228.1 297.3,228.2 297.7,228.1 298.1,228.0 298.5,227.9 298.9,227.6 299.2,227.4 299.6,227.1 300.0,226.7 300.4,226.4 300.8,226.0 301.2,225.7 301.6,225.3 302.0,225.0 302.3,224.8 302.7,224.6 303.1,224.4 303.5,224.4 303.9,224.3 304.3,224.4 304.7,224.5 305.1,224.7 305.4,224.9 305.8,225.2 306.2,225.5 306.6,225.8 307.0,226.2 307.4,226.5 307.8,226.8 308.2,227.1 308.6,227.4 308.9,227.6 309.3,227.8 309.7,227.9 310.1,228.0 310.5,228.0 310.9,227.9 311.3,227.7 311.7,227.5 312.0,227.3 312.4,227.0 312.8,226.7 313.2,226.3 313.6,226.0 314.0,225.6 314.4,225.3 314.8,225.0 315.1,224.7 315.5,224.5 315.9,224.3 316.3,224.2 316.7,224.2 317.1,224.2 317.5,224.3 317.9,224.4 318.2,224.7 318.6,224.9 319.0,225.2 319.4,225.5 319.8,225.9 320.2,226.2 320.6,226.6 321.0,226.9 321.3,227.2 321.7,227.4 322.1,227.6 322.5,227.7 322.9,227.8 323.3,227.8 323.7,227.7 324.1,227.6 324.5,227.4 324.8,227.2 325.2,226.9 325.6,226.6 326.0,226.3 326.4,225.9 326.8,225.6 327.2,225.2 327.6,224.9 327.9,224.6 328.3,224.4 328.7,224.2 329.1,224.1 329.5,224.0 329.9,224.0 330.3,224.1 330.7,224.2 331.0,224.4 331.4,224.7 331.8,224.9 332.2,225.3 332.6,225.6 333.0,225.9 333.4,226.3 333.8,226.6 334.1,226.9 334.5,227.2 334.9,227.4 335.3,227.5 335.7,227.6 336.1,227.6 336.5,227.6 336.9,227.5 337.3,227.3 337.6,227.1 338.0,226.9 338.4,226.6 338.8,226.2 339.2,225.9 339.6,225.5 340.0,225.2 340.4,224.8 340.7,224.5 341.1,224.3 341.5,224.1 341.9,223.9 342.3,223.9 342.7,223.9 343.1,223.9 343.5,224.0 343.8,224.2 344.2,224.4 344.6,224.7 345.0,225.0 345.4,225.3 345.8,225.7 346.2,226.0 346.6,226.4 346.9,226.7 347.3,226.9 347.7,227.2 348.1,227.3 348.5,227.4 348.9,227.5 349.3,227.5 349.7,227.4 350.0,227.3 350.4,227.1 350.8,226.8 351.2,226.5 351.6,226.2 352.0,225.8 352.4,225.5 352.8,225.1 353.2,224.8 353.5,224.5 353.9,224.2 354.3,224.0 354.7,223.8 355.1,223.7 355.5,223.7 355.9,223.7 356.3,223.8 356.6,224.0 357.0,224.2 357.4,224.5 357.8,224.8 358.2,225.1 358.6,225.4 359.0,225.8 359.4,226.1 359.7,226.4 360.1,226.7 360.5,226.9 360.9,227.1 361.3,227.3 361.7,227.3 362.1,227.4 362.5,227.3 362.8,227.2 363.2,227.0 363.6,226.8 364.0,226.5 364.4,226.2 364.8,225.8 365.2,225.5 365.6,225.1 365.9,224.8 366.3,224.5 366.7,224.2 367.1,223.9 367.5,223.8 367.9,223.6 368.3,223.6 368.7,223.6 369.1,223.7 369.4,223.8 369.8,224.0 370.2,224.2 370.6,224.5 371.0,224.8 371.4,225.2 371.8,225.5 372.2,225.9 372.5,226.2 372.9,226.5 373.3,226.7 373.7,227.0 374.1,227.1 374.5,227.2 374.9,227.2 375.3,227.2 375.6,227.1 376.0,226.9 376.4,226.7 376.8,226.4 377.2,226.1 377.6,225.8 378.0,225.5 378.4,225.1 378.7,224.8 379.1,224.4 379.5,224.1 379.9,223.9 380.3,223.7 380.7,223.5 381.1,223.5 381.5,223.5 381.9,223.5 382.2,223.6 382.6,223.8 383.0,224.0 383.4,224.3 383.8,224.6 384.2,224.9 384.6,225.3 385.0,225.6 385.3,226.0 385.7,226.3 386.1,226.5 386.5,226.8 386.9,226.9 387.3,227.1 387.7,227.1 388.1,227.1 388.4,227.0 388.8,226.9 389.2,226.7 389.6,226.4 390.0,226.1 390.4,225.8 390.8,225.5 391.2,225.1 391.5,224.8 391.9,224.4 392.3,224.1 392.7,223.9 393.1,223.6 393.5,223.5 393.9,223.4 394.3,223.3 394.6,223.4 395.0,223.5 395.4,223.6 395.8,223.8 396.2,224.1 396.6,224.4 397.0,224.7 397.4,225.1 397.8,225.4 398.1,225.7 398.5,226.1 398.9,226.3 399.3,226.6 399.7,226.8 400.1,226.9 400.5,227.0 400.9,227.0 401.2,226.9 401.6,226.8 402.0,226.6 402.4,226.4 402.8,226.1 403.2,225.8 403.6,225.5 404.0,225.1 404.3,224.8 404.7,224.4 405.1,224.1 405.5,223.8 405.9,223.6 406.3,223.4 406.7,223.3 407.1,223.2 407.4,223.2 407.8,223.3 408.2,223.4 408.6,223.6 409.0,223.9 409.4,224.2 409.8,224.5 410.2,224.8 410.5,225.2 410.9,225.5 411.3,225.8 411.7,226.1 412.1,226.4 412.5,226.6 412.9,226.8 413.3,226.9 413.7,226.9 414.0,226.9 414.4,226.8 414.8,226.6 415.2,226.4 415.6,226.1 416.0,225.8 416.4,225.5 416.8,225.1 417.1,224.8 417.5,224.4 417.9,224.1 418.3,223.8 418.7,223.6 419.1,223.4 419.5,223.2 419.9,223.1 420.2,223.1 420.6,223.2 421.0,223.3 421.4,223.5 421.8,223.7 422.2,224.0 422.6,224.3 423.0,224.6 423.3,225.0 423.7,225.3 424.1,225.6 424.5,226.0 424.9,226.2 425.3,226.5 425.7,226.6 426.1,226.7 426.5,226.8 426.8,226.8 427.2,226.7 427.6,226.6 428.0,226.4 428.4,226.1 428.8,225.8 429.2,225.5 429.6,225.2 429.9,224.8 430.3,224.4 430.7,224.1 431.1,223.8 431.5,223.5 431.9,223.3 432.3,223.2 432.7,223.1 433.0,223.0 433.4,223.1 433.8,223.2 434.2,223.3 434.6,223.5 435.0,223.8 435.4,224.1 435.8,224.4 436.1,224.8 436.5,225.1 436.9,225.4 437.3,225.8 437.7,226.0 438.1,226.3 438.5,226.5 438.9,226.6 439.2,226.7 439.6,226.7 440.0,226.6 440.4,226.5 440.8,226.3 441.2,226.1 441.6,225.8 442.0,225.5 442.4,225.2 442.7,224.8 443.1,224.5 443.5,224.1 443.9,223.8 444.3,223.5 444.7,223.3 445.1,223.1 445.5,223.0 445.8,223.0 446.2,223.0 446.6,223.0 447.0,223.2 447.4,223.4 447.8,223.6 448.2,223.9 448.6,224.2 448.9,224.6 449.3,224.9 449.7,225.2 450.1,225.6 450.5,225.9 450.9,226.1 451.3,226.3 451.7,226.5 452.0,226.6 452.4,226.6 452.8,226.6 453.2,226.5 453.6,226.3 454.0,226.1 454.4,225.8 454.8,225.5 455.1,225.2 455.5,224.9 455.9,224.5 456.3,224.2 456.7,223.8 457.1,223.6 457.5,223.3 457.9,223.1 458.3,223.0 458.6,222.9 459.0,222.9 459.4,222.9 459.8,223.0 460.2,223.2 460.6,223.4 461.0,223.7 461.4,224.0 461.7,224.4 462.1,224.7 462.5,225.1 462.9,225.4 463.3,225.7 463.7,226.0 464.1,226.2 464.5,226.4 464.8,226.5 465.2,226.5 465.6,226.5 466.0,226.5 466.4,226.3 466.8,226.1 467.2,225.9 467.6,225.6 467.9,225.2 468.3,224.9 468.7,224.6 469.1,224.2 469.5,223.9 469.9,223.6 470.3,223.3 470.7,223.1 471.1,222.9 471.4,222.8 471.8,222.8 472.2,222.8 472.6,222.9 473.0,223.1 473.4,223.3 473.8,223.5 474.2,223.8 474.5,224.2 474.9,224.5 475.3,224.9 475.7,225.2 476.1,225.5 476.5,225.8 476.9,226.1 477.3,226.3 477.6,226.4 478.0,226.5 478.4,226.5 478.8,226.4 479.2,226.3 479.6,226.1 480.0,225.9 480.4,225.6 480.7,225.3 481.1,224.9 481.5,224.6 481.9,224.2 482.3,223.9 482.7,223.6 483.1,223.3 483.5,223.1 483.8,222.9 484.2,222.8 484.6,222.7 485.0,222.7 485.4,222.8 485.8,222.9 486.2,223.1 486.6,223.4 487.0,223.7 487.3,224.0 487.7,224.3 488.1,224.7 488.5,225.0 488.9,225.4 489.3,225.7 489.7,225.9 490.1,226.1 490.4,226.3 490.8,226.4 491.2,226.4 491.6,226.4 492.0,226.3 492.4,226.1 492.8,225.9 493.2,225.6 493.5,225.3 493.9,225.0 494.3,224.6 494.7,224.3 495.1,224.0 495.5,223.6 495.9,223.3 496.3,223.1 496.6,222.9 497.0,222.7 497.4,222.7 497.8,222.7 498.2,222.7 498.6,222.8 499.0,223.0 499.4,223.2 499.7,223.5 500.1,223.8 500.5,224.2 500.9,224.5 501.3,224.8 501.7,225.2 502.1,225.5 502.5,225.8 502.9,226.0 503.2,226.2 503.6,226.3 504.0,226.3 504.4,226.3 504.8,226.3 505.2,226.1 505.6,225.9 506.0,225.7 506.3,225.4 506.7,225.0 507.1,224.7 507.5,224.4 507.9,224.0 508.3,223.7 508.7,223.4 509.1,223.1 509.4,222.9 509.8,222.7 510.2,222.6 510.6,222.6 511.0,222.6 511.4,222.7 511.8,222.9 512.2,223.1 512.5,223.4 512.9,223.7 513.3,224.0 513.7,224.3 514.1,224.7 514.5,225.0 514.9,225.3 515.3,225.6 515.6,225.9 516.0,226.1 516.4,226.2 516.8,226.3 517.2,226.3 517.6,226.2 518.0,226.1 518.4,225.9 518.8,225.7 519.1,225.4 519.5,225.1 519.9,224.8 520.3,224.4 520.7,224.1 521.1,223.7 521.5,223.4 521.9,223.1 522.2,222.9 522.6,222.7 523.0,222.6 523.4,222.5 523.8,222.6 524.2,222.6 524.6,222.8 525.0,223.0 525.3,223.2 525.7,223.5 526.1,223.8 526.5,224.2 526.9,224.5 527.3,224.8 527.7,225.2 528.1,225.5 528.4,225.7 528.8,225.9 529.2,226.1 529.6,226.2 530.0,226.2 530.4,226.2 530.8,226.1 531.2,225.9 531.6,225.7 531.9,225.5 532.3,225.2 532.7,224.8 533.1,224.5 533.5,224.1 533.9,223.8 534.3,223.5 534.7,223.2 535.0,222.9 535.4,222.7 535.8,222.6 536.2,222.5 536.6,222.5 537.0,222.5 537.4,222.7 537.8,222.8 538.1,223.1 538.5,223.3 538.9,223.7 539.3,224.0 539.7,224.3 540.1,224.7 540.5,225.0"/>
<polyline fill="none" stroke="#22cc22" stroke-width="1.50" points="23.5,237.8 24.0,237.9 24.5,238.0 25.1,238.1 25.6,238.2 26.1,238.2 26.6,238.3 27.1,238.3 27.6,238.2 28.2,238.2 28.7,238.1 29.2,237.9 29.7,237.8 30.2,237.6 30.7,237.4 31.3,237.3 31.8,237.1 32.3,237.0 32.8,236.8 33.3,236.8 33.8,236.7 34.4,236.7 34.9,236.7 35.4,236.7 35.9,236.8 36.4,236.9 36.9,237.0 37.5,237.1 38.0,237.2 38.5,237.3 39.0,237.4 39.5,237.4 40.0,237.4 40.6,237.4 41.1,237.3 41.6,237.2 42.1,237.1 42.6,236.9 43.1,236.7 43.7,236.6 44.2,236.4 44.7,236.2 45.2,236.1 45.7,236.0 46.3,235.9 46.8,235.9 47.3,235.8 47.8,235.9 48.3,235.9 48.8,236.0 49.4,236.1 49.9,236.2 50.4,236.3 50.9,236.4 51.4,236.5 51.9,236.5 52.5,236.6 53.0,236.6 53.5,236.5 54.0,236.5 54.5,236.4 55.0,236.3 55.6,236.1 56.1,235.9 56.6,235.8 57.1,235.6 57.6,235.4 58.1,235.3 58.7,235.2 59.2,235.1 59.7,235.1 60.2,235.0 60.7,235.1 61.2,235.1 61.8,235.2 62.3,235.3 62.8,235.4 63.3,235.5 63.8,235.6 64.4,235.7 64.9,235.8 65.4,235.8 65.9,235.8 66.4,235.8 66.9,235.7 67.5,235.6 68.0,235.5 68.5,235.3 69.0,235.2 69.5,235.0 70.0,234.8 70.6,234.7 71.1,234.6 71.6,234.4 72.1,234.4 72.6,234.3 73.1,234.3 73.7,234.3 74.2,234.4 74.7,234.5 75.2,234.6 75.7,234.7 76.2,234.8 76.8,234.9 77.3,235.0 77.8,235.0 78.3,235.1 78.8,235.1 79.3,235.1 79.9,235.0 80.4,234.9 80.9,234.8 81.4,234.6 81.9,234.5 82.4,234.3 83.0,234.1 83.5,234.0 84.0,233.8 84.5,233.7 85.0,233.7 85.6,233.6 86.1,233.6 86.6,233.6 87.1,233.7 87.6,233.8 88.1,233.9 88.7,234.0 89.2,234.1 89.7,234.2 90.2,234.3 90.7,234.3 91.2,234.4 91.8,234.4 92.3,234.4 92.8,234.3 93.3,234.2 93.8,234.1 94.3,233.9 94.9,233.8 95.4,233.6 95.9,233.5 96.4,233.3 96.9,233.2 97.4,233.1 98.0,233.0 98.5,232.9 99.0,232.9 99.5,233.0 100.0,233.0 100.5,233.1 101.1,233.2 101.6,233.3 102.1,233.4 102.6,233.5 103.1,233.6 103.7,233.7 104.2,233.7 104.7,233.7 105.2,233.7 105.7,233.7 106.2,233.6 106.8,233.5 107.3,233.3 107.8,233.2 108.3,233.0 108.8,232.8 109.3,232.7 109.9,232.5 110.4,232.4 110.9,232.4 111.4,232.3 111.9,232.3 112.4,232.3 113.0,232.4 113.5,232.5 114.0,232.6 114.5,232.7 115.0,232.8 115.5,232.9 116.1,233.0 116.6,233.1 117.1,233.1 117.6,233.1 118.1,233.1 118.6,233.1 119.2,233.0 119.7,232.8 120.2,232.7 120.7,232.5 121.2,232.4 121.7,232.2 122.3,232.1 122.8,231.9 123.3,231.8 123.8,231.8 124.3,231.7 124.9,231.7 125.4,231.7 125.9,231.8 126.4,231.9 126.9,232.0 127.4,232.1 128.0,232.2 128.5,232.3 129.0,232.4 129.5,232.5 130.0,232.6 130.5,232.6 131.1,232.5 131.6,232.5 132.1,232.4 132.6,232.3 133.1,232.1 133.6,232.0 134.2,231.8 134.7,231.7 135.2,231.5 135.7,231.4 136.2,231.3 136.7,231.2 137.3,231.2 137.8,231.2 138.3,231.2 138.8,231.3 139.3,231.3 139.8,231.4 140.4,231.6 140.9,231.7 141.4,231.8 141.9,231.9 142.4,232.0 143.0,232.0 143.5,232.0 144.0,232.0 144.5,231.9 145.0,231.9 145.5,231.7 146.1,231.6 146.6,231.4 147.1,231.3 147.6,231.1 148.1,231.0 148.6,230.9 149.2,230.7 149.7,230.7 150.2,230.6 150.7,230.6 151.2,230.7 151.7,230.7 152.3,230.8 152.8,230.9 153.3,231.0 153.8,231.2 154.3,231.3 154.8,231.4 155.4,231.4 155.9,231.5 156.4,231.5 156.9,231.5 157.4,231.4 157.9,231.3 158.5,231.2 159.0,231.1 159.5,230.9 160.0,230.8 160.5,230.6 161.0,230.5 161.6,230.4 162.1,230.3 162.6,230.2 163.1,230.1 163.6,230.1 164.2,230.2 164.7,230.2 165.2,230.3 165.7,230.4 166.2,230.6 166.7,230.7 167.3,230.8 167.8,230.9 168.3,231.0 168.8,231.0 169.3,231.0 169.8,231.0 170.4,231.0 170.9,230.9 171.4,230.8 171.9,230.6 172.4,230.5 172.9,230.3 173.5,230.2 174.0,230.0 174.5,229.9 175.0,229.8 175.5,229.7 176.0,229.7 176.6,229.7 177.1,229.7 177.6,229.8 178.1,229.9 178.6,230.0 179.1,230.1 179.7,230.2 180.2,230.3 180.7,230.4 181.2,230.5 181.7,230.6 182.2,230.6 182.8,230.6 183.3,230.5 183.8,230.4 184.3,230.3 184.8,230.2 185.4,230.0 185.9,229.9 186.4,229.7 186.9,229.6 187.4,229.4 187.9,229.3 188.5,229.3 189.0,229.2 189.5,229.2 190.0,229.3 190.5,229.3 191.0,229.4 191.6,229.5 192.1,229.7 192.6,229.8 193.1,229.9 193.6,230.0 194.1,230.1 194.7,230.1 195.2,230.1 195.7,230.1 196.2,230.1 196.7,230.0 197.2,229.9 197.8,229.7 198.3,229.6 198.8,229.4 199.3,229.3 199.8,229.1 200.3,229.0 200.9,228.9 201.4,228.9 201.9,228.8 202.4,228.8 202.9,228.9 203.5,228.9 204.0,229.0 204.5,229.1 205.0,229.2 205.5,229.4 206.0,229.5 206.6,229.6 207.1,229.7 207.6,229.7 208.1,229.7 208.6,229.7 209.1,229.7 209.7,229.6 210.2,229.5 210.7,229.3 211.2,229.2 211.7,229.0 212.2,228.9 212.8,228.7 213.3,228.6 213.8,228.5 214.3,228.5 214.8,228.4 215.3,228.4 215.9,228.5 216.4,228.5 216.9,228.6 217.4,228.7 217.9,228.9 218.4,229.0 219.0,229.1 219.5,229.2 220.0,229.3 220.5,229.3 221.0,229.4 221.5,229.3 222.1,229.3 222.6,229.2 223.1,229.1 223.6,229.0 224.1,228.8 224.7,228.7 225.2,228.5 225.7,228.4 226.2,228.3 226.7,228.2 227.2,228.1 227.8,228.1 228.3,228.1 228.8,228.1 229.3,228.2 229.8,228.3 230.3,228.4 230.9,228.5 231.4,228.6 231.9,228.7 232.4,228.8 232.9,228.9 233.4,229.0 234.0,229.0 234.5,229.0 235.0,228.9 235.5,228.9 236.0,228.7 236.5,228.6 237.1,228.5 237.6,228.3 238.1,228.2 238.6,228.0 239.1,227.9 239.6,227.8 240.2,227.7 240.7,227.7 241.2,227.7 241.7,227.8 242.2,227.8 242.8,227.9 243.3,228.0 243.8,228.2 244.3,228.3 244.8,228.4 245.3,228.5 245.9,228.6 246.4,228.6 246.9,228.7 247.4,228.6 247.9,228.6 248.4,228.5 249.0,228.4 249.5,228.3 250.0,228.1 250.5,228.0 251.0,227.8 251.5,227.7 252.1,227.6 252.6,227.5 253.1,227.4 253.6,227.4 254.1,227.4 254.6,227.4 255.2,227.5 255.7,227.6 256.2,227.7 256.7,227.8 257.2,228.0 257.7,228.1 258.3,228.2 258.8,228.3 259.3,228.3 259.8,228.3 260.3,228.3 260.8,228.3 261.4,228.2 261.9,228.1 262.4,228.0 262.9,227.8 263.4,227.7 264.0,227.5 264.5,227.4 265.0,227.3 265.5,227.2 266.0,227.1 266.5,227.1 267.1,227.1 267.6,227.1 268.1,227.2 268.6,227.3 269.1,227.4 269.6,227.5 270.2,227.7 270.7,227.8 271.2,227.9 271.7,228.0 272.2,228.0 272.7,228.0 273.3,228.0 273.8,228.0 274.3,227.9 274.8,227.8 275.3,227.7 275.8,227.5 276.4,227.4 276.9,227.2 277.4,227.1 277.9,227.0 278.4,226.9 278.9,226.8 279.5,226.8 280.0,226.8 280.5,226.8 281.0,226.9 281.5,227.0 282.1,227.1 282.6,227.2 283.1,227.4 283.6,227.5 284.1,227.6 284.6,227.7 285.2,227.7 285.7,227.8 286.2,227.7 286.7,227.7 287.2,227.6 287.7,227.5 288.3,227.4 288.8,227.2 289.3,227.1 289.8,226.9 290.3,226.8 290.8,226.7 291.4,226.6 291.9,226.5 292.4,226.5 292.9,226.5 293.4,226.6 293.9,226.6 294.5,226.7 295.0,226.8 295.5,227.0 296.0,227.1 296.5,227.2 297.0,227.3 297.6,227.4 298.1,227.5 298.6,227.5 299.1,227.5 299.6,227.4 300.1,227.4 300.7,227.3 301.2,227.1 301.7,227.0 302.2,226.8 302.7,226.7 303.3,226.5 303.8,226.4 304.3,226.3 304.8,226.3 305.3,226.2 305.8,226.3 306.4,226.3 306.9,226.4 307.4,226.5 307.9,226.6 308.4,226.7 308.9,226.8 309.5,227.0 310.0,227.1 310.5,227.2 311.0,227.2 311.5,227.2 312.0,227.2 312.6,227.2 313.1,227.1 313.6,227.0 314.1,226.9 314.6,226.7 315.1,226.6 315.7,226.4 316.2,226.3 316.7,226.2 317.2,226.1 317.7,226.0 318.2,226.0 318.8,226.0 319.3,226.1 319.8,226.1 320.3,226.2 320.8,226.3 321.3,226.5 321.9,226.6 322.4,226.7 322.9,226.8 323.4,226.9 323.9,227.0 324.5,227.0 325.0,227.0 325.5,226.9 326.0,226.9 326.5,226.8 327.0,226.6 327.6,226.5 328.1,226.3 328.6,226.2 329.1,226.1 329.6,225.9 330.1,225.9 330.7,225.8 331.2,225.8 331.7,225.8 332.2,225.8 332.7,225.9 333.2,226.0 333.8,226.1 334.3,226.2 334.8,226.4 335.3,226.5 335.8,226.6 336.3,226.7 336.9,226.7 337.4,226.8 337.9,226.8 338.4,226.7 338.9,226.6 339.4,226.5 340.0,226.4 340.5,226.3 341.0,226.1 341.5,226.0 342.0,225.8 342.6,225.7 343.1,225.6 343.6,225.6 344.1,225.6 344.6,225.6 345.1,225.6 345.7,225.7 346.2,225.8 346.7,225.9 347.2,226.0 347.7,226.2 348.2,226.3 348.8,226.4 349.3,226.5 349.8,226.5 350.3,226.6 350.8,226.6 351.3,226.5 351.9,226.4 352.4,226.3 352.9,226.2 353.4,226.1 353.9,225.9 354.4,225.8 355.0,225.6 355.5,225.5 356.0,225.4 356.5,225.4 357.0,225.3 357.5,225.4 358.1,225.4 358.6,225.5 359.1,225.6 359.6,225.7 360.1,225.8 360.6,226.0 361.2,226.1 361.7,226.2 362.2,226.3 362.7,226.3 363.2,226.4 363.8,226.4 364.3,226.3 364.8,226.2 365.3,226.1 365.8,226.0 366.3,225.9 366.9,225.7 367.4,225.6 367.9,225.4 368.4,225.3 368.9,225.2 369.4,225.2 370.0,225.2 370.5,225.2 371.0,225.2 371.5,225.3 372.0,225.4 372.5,225.5 373.1,225.6 373.6,225.8 374.1,225.9 374.6,226.0 375.1,226.1 375.6,226.1 376.2,226.2 376.7,226.2 377.2,226.1 377.7,226.1 378.2,225.9 378.7,225.8 379.3,225.7 379.8,225.5 380.3,225.4 380.8,225.3 381.3,225.1 381.9,225.1 382.4,225.0 382.9,225.0 383.4,225.0 383.9,225.0 384.4,225.1 385.0,225.2 385.5,225.3 386.0,225.5 386.5,225.6 387.0,225.7 387.5,225.8 388.1,225.9 388.6,226.0 389.1,226.0 389.6,226.0 390.1,226.0 390.6,225.9 391.2,225.8 391.7,225.6 392.2,225.5 392.7,225.4 393.2,225.2 393.7,225.1 394.3,225.0 394.8,224.9 395.3,224.8 395.8,224.8 396.3,224.8 396.8,224.9 397.4,224.9 397.9,225.0 398.4,225.2 398.9,225.3 399.4,225.4 399.9,225.5 400.5,225.7 401.0,225.7 401.5,225.8 402.0,225.8 402.5,225.8 403.1,225.8 403.6,225.7 404.1,225.6 404.6,225.5 405.1,225.3 405.6,225.2 406.2,225.1 406.7,224.9 407.2,224.8 407.7,224.7 408.2,224.7 408.7,224.6 409.3,224.6 409.8,224.7 410.3,224.8 410.8,224.9 411.3,225.0 411.8,225.1 412.4,225.3 412.9,225.4 413.4,225.5 413.9,225.6 414.4,225.6 414.9,225.7 415.5,225.7 416.0,225.6 416.5,225.6 417.0,225.5 417.5,225.3 418.0,225.2 418.6,225.0 419.1,224.9 419.6,224.8 420.1,224.7 420.6,224.6 421.1,224.5 421.7,224.5 422.2,224.5 422.7,224.5 423.2,224.6 423.7,224.7 424.3,224.8 424.8,225.0 425.3,225.1 425.8,225.2 426.3,225.3 426.8,225.4 427.4,225.5 427.9,225.5 428.4,225.5 428.9,225.5 429.4,225.4 429.9,225.3 430.5,225.2 431.0,225.0 431.5,224.9 432.0,224.8 432.5,224.6 433.0,224.5 433.6,224.4 434.1,224.4 434.6,224.3 435.1,224.4 435.6,224.4 436.1,224.5 436.7,224.6 437.2,224.7 437.7,224.8 438.2,225.0 438.7,225.1 439.2,225.2 439.8,225.3 440.3,225.4 440.8,225.4 441.3,225.4 441.8,225.3 442.4,225.3 442.9,225.2 443.4,225.0 443.9,224.9 444.4,224.8 444.9,224.6 445.5,224.5 446.0,224.4 446.5,224.3 447.0,224.2 447.5,224.2 448.0,224.2 448.6,224.3 449.1,224.3 449.6,224.4 450.1,224.6 450.6,224.7 451.1,224.8 451.7,225.0 452.2,225.1 452.7,225.2 453.2,225.2 453.7,225.3 454.2,225.2 454.8,225.2 455.3,225.1 455.8,225.0 456.3,224.9 456.8,224.8 457.3,224.6 457.9,224.5 458.4,224.4 458.9,224.2 459.4,224.2 459.9,224.1 460.4,224.1 461.0,224.1 461.5,224.1 462.0,224.2 462.5,224.3 463.0,224.4 463.6,224.6 464.1,224.7 464.6,224.8 465.1,224.9 465.6,225.0 466.1,225.1 466.7,225.1 467.2,225.1 467.7,225.1 468.2,225.0 468.7,224.9 469.2,224.8 469.8,224.7 470.3,224.5 470.8,224.4 471.3,224.2 471.8,224.1 472.3,224.0 472.9,224.0 473.4,224.0 473.9,224.0 474.4,224.0 474.9,224.1 475.4,224.2 476.0,224.3 476.5,224.4 477.0,224.6 477.5,224.7 478.0,224.8 478.5,224.9 479.1,225.0 479.6,225.0 480.1,225.0 480.6,225.0 481.1,224.9 481.7,224.8 482.2,224.7 482.7,224.5 483.2,224.4 483.7,224.2 484.2,224.1 484.8,224.0 485.3,223.9 485.8,223.9 486.3,223.8 486.8,223.9 487.3,223.9 487.9,224.0 488.4,224.1 488.9,224.2 489.4,224.3 489.9,224.5 490.4,224.6 491.0,224.7 491.5,224.8 492.0,224.9 492.5,224.9 493.0,224.9 493.5,224.9 494.1,224.8 494.6,224.7 495.1,224.6 495.6,224.4 496.1,224.3 496.6,224.1 497.2,224.0 497.7,223.9 498.2,223.8 498.7,223.8 499.2,223.7 499.7,223.7 500.3,223.8 500.8,223.9 501.3,224.0 501.8,224.1 502.3,224.2 502.9,224.4 503.4,224.5 503.9,224.6 504.4,224.7 504.9,224.8 505.4,224.8 506.0,224.8 506.5,224.8 507.0,224.7 507.5,224.6 508.0,224.5 508.5,224.3 509.1,224.2 509.6,224.0 510.1,223.9 510.6,223.8 511.1,223.7 511.6,223.7 512.2,223.6 512.7,223.6 513.2,223.7 513.7,223.8 514.2,223.9 514.7,224.0 515.3,224.1 515.8,224.3 516.3,224.4 516.8,224.5 517.3,224.6 517.8,224.7 518.4,224.7 518.9,224.7 519.4,224.7 519.9,224.6 520.4,224.5 521.0,224.4 521.5,224.2 522.0,224.1 522.5,223.9 523.0,223.8 523.5,223.7 524.1,223.6 524.6,223.6 525.1,223.5 525.6,223.6 526.1,223.6 526.6,223.7 527.2,223.8 527.7,223.9 528.2,224.0 528.7,224.2 529.2,224.3 529.7,224.4 530.3,224.5 530.8,224.6 531.3,224.6 531.8,224.6 532.3,224.6 532.8,224.5 533.4,224.4 533.9,224.3 534.4,224.1 534.9,224.0 535.4,223.8 535.9,223.7 536.5,223.6 537.0,223.5 537.5,223.5 538.0,223.4 538.5,223.5 539.0,223.5 539.6,223.6 540.1,223.7 540.6,223.8"/>
<line x1="23.50" y1="200.50" x2="23.50" y2="351.00" stroke="#858585" stroke-width="1.1"/>
<line x1="540.60" y1="200.50" x2="540.60" y2="351.00" stroke="#858585" stroke-width="1.1"/>
<line x1="23.00" y1="201.30" x2="541.10" y2="201.30" stroke="#787878" stroke-width="1.3"/>
<line x1="23.00" y1="350.20" x2="541.10" y2="350.20" stroke="#787878" stroke-width="1.6"/>
<rect x="468.20" y="268.60" width="72.20" height="37.90" fill="#fff" stroke="#444" stroke-width="1.0"/>
<line x1="470.00" y1="274.20" x2="483.70" y2="274.20" stroke="#12127c" stroke-width="2.0"/>
<text x="0.00" y="0.00" font-size="7.6" transform="translate(485.20 277.00) scale(0.685 1) translate(0.00 0.00)" fill="#000" stroke="#000" stroke-width="0.22">T_air_inside_container</text>
<line x1="470.00" y1="283.20" x2="483.70" y2="283.20" stroke="#c490c4" stroke-width="2.0"/>
<text x="0.00" y="0.00" font-size="7.6" transform="translate(485.20 286.00) scale(0.685 1) translate(0.00 0.00)" fill="#000" stroke="#000" stroke-width="0.22">Tair</text>
<line x1="470.00" y1="292.20" x2="483.70" y2="292.20" stroke="#b02020" stroke-width="2.0"/>
<text x="0.00" y="0.00" font-size="7.6" transform="translate(485.20 295.00) scale(0.685 1) translate(0.00 0.00)" fill="#000" stroke="#000" stroke-width="0.22">Ttank</text>
<line x1="470.00" y1="300.90" x2="483.70" y2="300.90" stroke="#22cc22" stroke-width="2.0"/>
<text x="0.00" y="0.00" font-size="7.6" transform="translate(485.20 303.70) scale(0.685 1) translate(0.00 0.00)" fill="#000" stroke="#000" stroke-width="0.22">Tstack</text>
<text font-size="8.0" text-anchor="middle" fill="#222" stroke="#222" stroke-width="0.1" transform="translate(23.50 359.80) scale(0.64 1)">0</text>
<text font-size="8.0" text-anchor="middle" fill="#222" stroke="#222" stroke-width="0.1" transform="translate(88.14 359.80) scale(0.64 1)">5</text>
<text font-size="8.0" text-anchor="middle" fill="#222" stroke="#222" stroke-width="0.1" transform="translate(152.78 359.80) scale(0.64 1)">10</text>
<text font-size="8.0" text-anchor="middle" fill="#222" stroke="#222" stroke-width="0.1" transform="translate(217.41 359.80) scale(0.64 1)">15</text>
<text font-size="8.0" text-anchor="middle" fill="#222" stroke="#222" stroke-width="0.1" transform="translate(282.05 359.80) scale(0.64 1)">20</text>
<text font-size="8.0" text-anchor="middle" fill="#222" stroke="#222" stroke-width="0.1" transform="translate(346.69 359.80) scale(0.64 1)">25</text>
<text font-size="8.0" text-anchor="middle" fill="#222" stroke="#222" stroke-width="0.1" transform="translate(411.32 359.80) scale(0.64 1)">30</text>
<text font-size="8.0" text-anchor="middle" fill="#222" stroke="#222" stroke-width="0.1" transform="translate(475.96 359.80) scale(0.64 1)">35</text>
<text font-size="8.0" text-anchor="middle" fill="#222" stroke="#222" stroke-width="0.1" transform="translate(540.60 359.80) scale(0.64 1)">40</text>
<text font-size="8.0" text-anchor="end" fill="#222" stroke="#222" stroke-width="0.1" transform="translate(21.80 353.05) scale(0.66 1)">-40</text>
<text font-size="8.0" text-anchor="end" fill="#222" stroke="#222" stroke-width="0.1" transform="translate(21.80 334.44) scale(0.66 1)">-30</text>
<text font-size="8.0" text-anchor="end" fill="#222" stroke="#222" stroke-width="0.1" transform="translate(21.80 315.83) scale(0.66 1)">-20</text>
<text font-size="8.0" text-anchor="end" fill="#222" stroke="#222" stroke-width="0.1" transform="translate(21.80 297.21) scale(0.66 1)">-10</text>
<text font-size="8.0" text-anchor="end" fill="#222" stroke="#222" stroke-width="0.1" transform="translate(21.80 278.60) scale(0.66 1)">0</text>
<text font-size="8.0" text-anchor="end" fill="#222" stroke="#222" stroke-width="0.1" transform="translate(21.80 259.99) scale(0.66 1)">10</text>
<text font-size="8.0" text-anchor="end" fill="#222" stroke="#222" stroke-width="0.1" transform="translate(21.80 241.38) scale(0.66 1)">20</text>
<text font-size="8.0" text-anchor="end" fill="#222" stroke="#222" stroke-width="0.1" transform="translate(21.80 222.76) scale(0.66 1)">30</text>
<text font-size="8.0" text-anchor="end" fill="#222" stroke="#222" stroke-width="0.1" transform="translate(21.80 204.15) scale(0.66 1)">40</text>
<text font-size="8.4" text-anchor="middle" fill="#111" stroke="#111" stroke-width="0.15" transform="translate(282.05 370.70) scale(0.755 1)">Time (days)</text>
<text font-size="5.9" font-weight="bold" text-anchor="middle" fill="#1a1a1a" transform="translate(11.30 275.75) rotate(-90) scale(1.480 1)">Temperature response °C</text>
</svg>
</body></html>
